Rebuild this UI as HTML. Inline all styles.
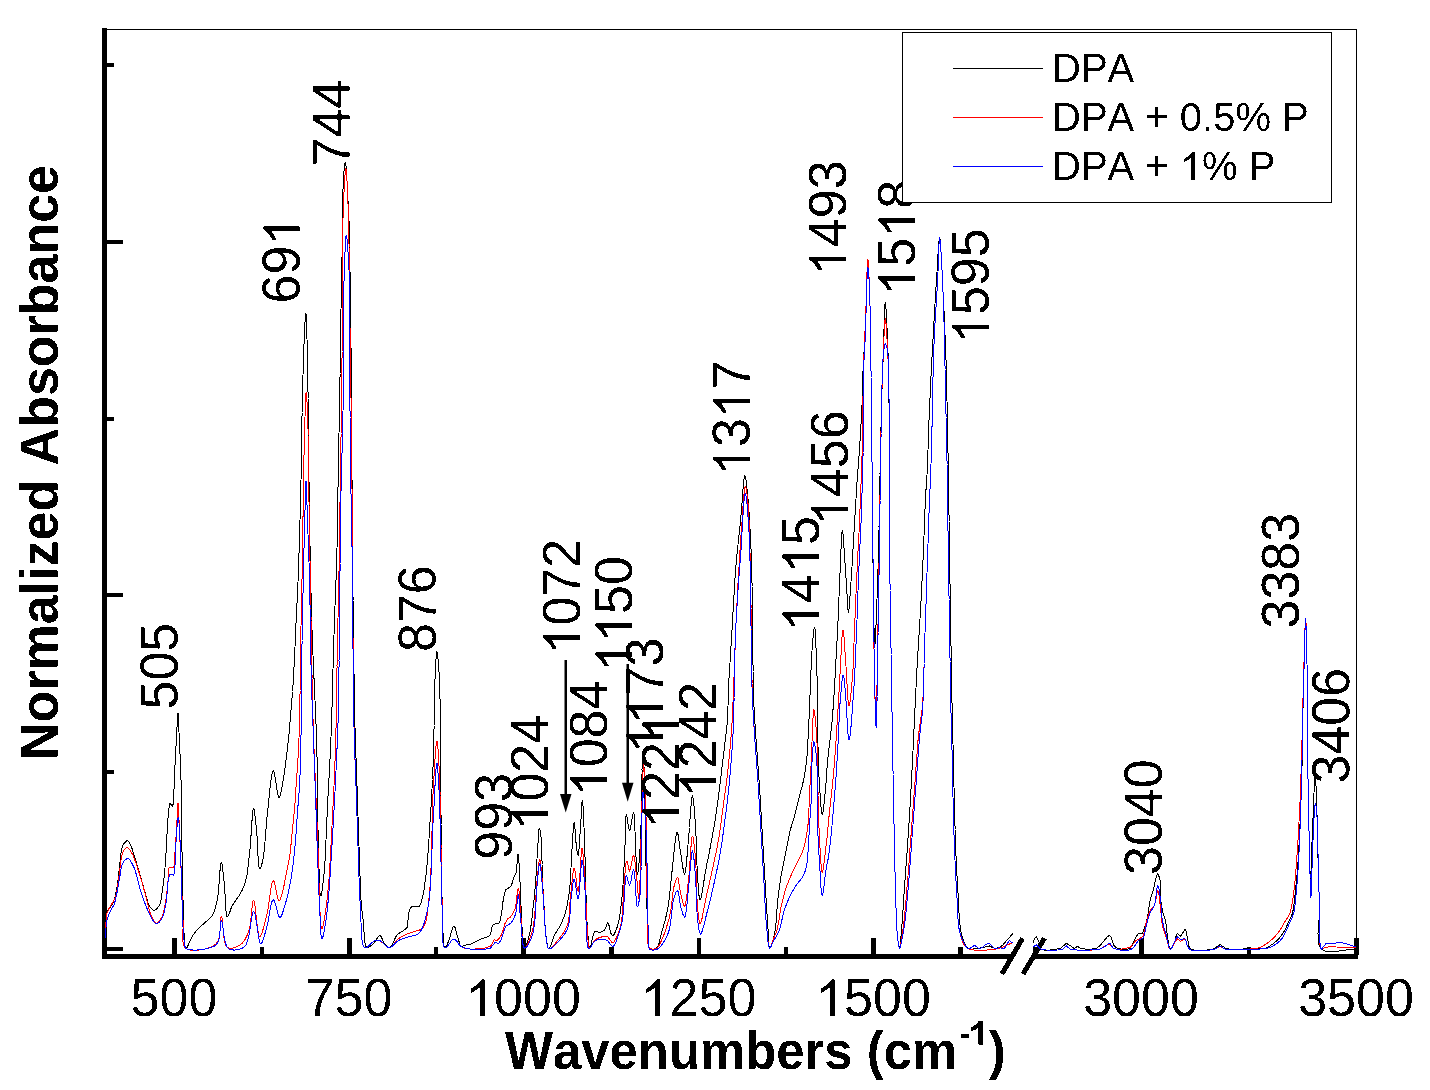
<!DOCTYPE html>
<html><head><meta charset="utf-8"><style>
html,body{margin:0;padding:0;background:#fff;width:1430px;height:1090px;overflow:hidden}
svg{display:block}
text{font-family:"Liberation Sans",sans-serif;fill:#000;font-kerning:none;font-variant-ligatures:none}
</style></head><body>
<svg width="1430" height="1090" viewBox="0 0 1430 1090">
<defs><filter id="bin" x="0" y="0" width="1430" height="1090" filterUnits="userSpaceOnUse" color-interpolation-filters="sRGB"><feComponentTransfer><feFuncA type="discrete" tableValues="0 1"/></feComponentTransfer></filter></defs>
<rect width="1430" height="1090" fill="#fff"/>

<g shape-rendering="crispEdges" fill="#000">
<rect x="102" y="29" width="1255" height="1"/>
<rect x="1356" y="29" width="1" height="926"/>
<rect x="102" y="28" width="5" height="931"/>
<rect x="102" y="954" width="910" height="5"/>
<rect x="1033" y="954" width="325" height="5"/>
<rect x="172.0" y="938" width="4.5" height="17"/><rect x="347.0" y="938" width="4.5" height="17"/><rect x="521.0" y="938" width="4.5" height="17"/><rect x="696.5" y="938" width="4.5" height="17"/><rect x="871.0" y="938" width="4.5" height="17"/><rect x="1139.0" y="938" width="4.5" height="17"/><rect x="1354.0" y="938" width="4.5" height="17"/><rect x="259.5" y="947" width="4.5" height="8"/><rect x="433.5" y="947" width="4.5" height="8"/><rect x="609.0" y="947" width="4.5" height="8"/><rect x="783.5" y="947" width="4.5" height="8"/><rect x="958.0" y="947" width="4.5" height="8"/><rect x="1033.0" y="947" width="4.5" height="8"/><rect x="1246.5" y="947" width="4.5" height="8"/><rect x="104" y="239.5" width="19" height="4"/><rect x="104" y="593.0" width="19" height="4"/><rect x="104" y="946.5" width="19" height="4"/><rect x="104" y="62.5" width="10" height="4"/><rect x="104" y="416.5" width="10" height="4"/><rect x="104" y="770.0" width="10" height="4"/>
</g>
<g stroke="#000" stroke-width="5" stroke-linecap="butt" shape-rendering="crispEdges">
<line x1="1001.9" y1="974" x2="1022.5" y2="938.5"/>
<line x1="1023" y1="974" x2="1044.5" y2="938.3"/>
</g>
<g fill="none" stroke-width="1" shape-rendering="crispEdges" stroke-linejoin="round">
<polyline stroke="#000" points="105.5,928.0 105.7,924.6 105.9,921.0 106.2,917.5 106.5,914.4 107.0,912.0 109.0,908.6 110.9,906.3 112.8,903.4 114.0,900.4 115.0,896.9 115.9,893.0 116.7,889.0 117.3,885.8 117.7,882.5 118.2,879.0 118.6,875.5 118.9,872.1 119.3,868.8 119.7,865.2 120.0,861.7 120.3,858.2 120.7,854.9 121.2,852.0 122.2,847.4 123.7,843.7 127.0,840.3 129.0,842.2 130.8,845.7 132.2,849.0 133.4,852.9 134.7,857.0 135.7,860.2 136.7,863.5 137.7,867.0 138.8,870.5 139.8,874.0 140.7,877.0 141.5,880.0 142.4,883.1 143.3,886.1 144.1,889.1 145.0,892.0 145.9,895.3 146.9,898.8 147.8,902.1 148.8,905.0 150.0,907.3 153.9,910.5 156.5,909.1 159.0,906.0 160.0,903.7 160.8,900.8 161.4,897.5 161.9,894.0 162.4,890.3 162.9,886.8 163.3,883.8 163.7,880.7 164.1,877.6 164.4,874.3 164.7,871.1 165.0,867.8 165.2,864.4 165.5,861.0 165.7,857.8 165.9,854.5 166.1,851.1 166.3,847.7 166.5,844.2 166.6,840.8 166.8,837.4 167.0,834.2 167.1,831.2 167.3,828.4 167.5,824.9 167.8,821.7 168.0,818.6 168.3,815.8 168.6,813.0 168.9,808.9 169.3,805.1 170.0,803.3 172.5,806.5 173.2,803.8 173.5,798.8 173.7,796.0 173.9,792.8 174.0,789.3 174.1,785.7 174.2,782.0 174.4,778.3 174.5,775.2 174.7,772.1 174.9,768.9 175.0,765.6 175.2,762.4 175.4,759.1 175.5,755.8 175.7,752.6 175.9,749.3 176.0,746.0 176.2,742.6 176.3,739.3 176.5,736.0 176.7,732.8 176.8,729.8 177.0,727.0 177.3,722.7 177.5,718.3 177.8,714.9 178.0,713.5 178.2,714.6 178.4,717.4 178.5,721.2 178.7,725.5 178.9,729.5 179.0,732.4 179.2,735.4 179.3,738.6 179.5,741.8 179.6,745.2 179.8,748.6 179.9,752.1 180.1,755.5 180.2,759.0 180.3,761.9 180.4,764.8 180.6,767.8 180.7,770.8 180.8,773.8 180.9,776.8 181.0,779.9 181.1,783.0 181.2,786.1 181.3,789.2 181.4,792.4 181.5,795.6 181.6,798.6 181.6,801.7 181.6,804.7 181.7,807.8 181.7,810.9 181.7,814.0 181.7,817.1 181.7,820.3 181.7,823.5 181.7,826.7 181.7,830.0 181.7,833.3 181.8,836.6 181.8,840.0 181.8,842.8 181.9,845.7 181.9,848.6 182.0,851.6 182.0,854.7 182.1,857.7 182.1,860.8 182.2,863.9 182.2,867.1 182.3,870.2 182.4,873.3 182.4,876.4 182.5,879.5 182.6,882.6 182.6,885.6 182.7,888.6 182.8,891.6 182.8,894.5 182.9,897.3 183.0,900.0 183.1,903.4 183.2,906.9 183.3,910.4 183.3,913.9 183.4,917.3 183.5,920.7 183.6,924.0 183.7,927.1 183.8,930.1 184.0,933.0 184.1,935.6 184.3,937.9 184.5,940.0 185.0,945.7 186.0,948.5 187.2,947.2 188.7,944.0 190.4,940.0 192.1,936.7 194.0,933.8 196.0,931.1 198.2,928.6 200.8,926.1 203.6,923.8 206.2,921.5 209.4,918.8 212.3,915.5 213.6,913.0 214.7,910.0 215.6,906.7 216.5,903.1 217.3,899.3 217.8,896.5 218.2,893.1 218.6,889.3 218.9,885.3 219.3,881.1 219.6,877.0 219.8,873.1 220.1,869.5 220.4,866.5 220.7,864.1 221.0,862.6 221.3,862.0 221.7,862.8 222.2,865.1 222.7,868.5 223.1,872.6 223.6,876.9 224.0,881.3 224.4,885.2 224.7,888.5 224.9,892.2 225.2,896.3 225.4,900.5 225.6,904.6 225.8,908.5 226.1,911.8 226.4,914.5 226.9,916.3 227.4,917.0 228.4,915.8 229.6,912.7 230.9,908.8 232.4,905.4 234.3,902.4 236.4,899.4 238.6,896.4 240.5,893.3 242.0,890.5 243.3,887.6 244.5,884.6 245.6,881.2 246.2,878.6 246.8,875.9 247.3,873.0 247.7,869.9 248.1,866.7 248.5,863.3 248.8,859.9 249.2,856.5 249.6,853.0 249.9,849.9 250.2,846.4 250.5,842.6 250.8,838.5 251.1,834.3 251.4,830.0 251.7,825.9 251.9,822.0 252.2,818.3 252.5,815.1 252.7,812.4 253.0,810.4 253.3,809.1 253.6,808.6 254.0,809.4 254.5,811.5 254.9,814.7 255.3,818.5 255.8,822.7 256.2,826.9 256.6,830.8 256.9,833.9 257.1,837.4 257.3,841.4 257.5,845.5 257.7,849.8 257.9,853.9 258.1,857.9 258.4,861.4 258.6,864.5 258.9,866.8 259.3,868.4 259.7,869.0 261.2,866.5 262.7,861.0 263.1,859.0 263.5,856.8 263.8,854.2 264.1,851.3 264.5,848.3 264.8,845.1 265.0,841.7 265.3,838.2 265.6,834.6 265.9,831.0 266.1,827.4 266.4,823.8 266.7,820.3 267.0,816.9 267.4,813.7 267.7,810.6 268.1,807.2 268.5,803.4 268.9,799.4 269.3,795.3 269.7,791.3 270.1,787.3 270.6,783.5 271.0,780.0 271.4,776.9 271.9,774.3 272.3,772.3 272.8,771.1 273.3,770.6 273.9,771.5 274.5,774.0 275.2,777.6 275.9,782.0 276.5,786.5 277.2,790.8 277.8,794.4 278.5,797.0 279.1,797.9 279.8,797.0 280.5,794.6 281.3,791.2 281.9,787.3 282.6,783.3 283.2,779.7 283.8,776.5 284.3,773.2 284.8,769.8 285.2,766.3 285.7,762.9 286.1,759.6 286.5,756.5 286.9,753.1 287.3,749.8 287.7,746.6 288.0,743.4 288.4,740.0 288.7,737.2 289.0,734.4 289.2,731.5 289.5,728.6 289.7,725.5 290.0,722.3 290.3,718.9 290.5,716.2 290.8,713.4 291.0,710.5 291.2,707.5 291.5,704.4 291.7,701.3 292.0,698.1 292.2,694.8 292.5,691.5 292.7,688.2 293.0,684.9 293.2,681.6 293.4,678.3 293.6,675.3 293.8,672.3 293.9,669.2 294.1,666.1 294.2,663.0 294.4,659.9 294.5,656.7 294.7,653.6 294.8,650.4 295.0,647.2 295.1,644.0 295.2,640.8 295.4,637.6 295.5,634.4 295.7,631.2 295.8,628.0 295.9,624.9 296.1,621.9 296.2,618.8 296.4,615.7 296.5,612.7 296.7,609.6 296.8,606.5 297.0,603.4 297.1,600.3 297.3,597.2 297.4,594.1 297.5,591.1 297.7,588.0 297.8,584.9 298.0,581.8 298.1,578.7 298.2,575.6 298.3,572.5 298.4,569.4 298.5,566.3 298.7,563.1 298.8,560.0 298.9,556.8 299.0,553.7 299.1,550.5 299.2,547.4 299.3,544.3 299.4,541.2 299.5,538.1 299.5,535.0 299.6,532.0 299.7,528.9 299.8,526.0 299.9,523.0 300.0,519.8 300.1,516.6 300.2,513.5 300.3,510.4 300.3,507.4 300.4,504.3 300.5,501.3 300.6,498.3 300.7,495.3 300.7,492.2 300.8,489.2 300.9,486.2 300.9,483.1 301.0,480.0 301.1,477.0 301.1,474.1 301.1,471.1 301.2,468.1 301.2,465.2 301.3,462.2 301.3,459.2 301.3,456.2 301.4,453.2 301.4,450.2 301.4,447.2 301.5,444.2 301.5,441.1 301.5,438.1 301.6,435.0 301.7,431.9 301.7,428.8 301.8,425.7 301.8,422.6 301.9,419.4 302.0,416.2 302.0,413.0 302.1,409.9 302.2,406.7 302.2,403.5 302.3,400.3 302.4,397.2 302.5,394.1 302.5,391.0 302.6,388.0 302.7,385.0 302.8,381.7 302.9,378.4 303.0,375.1 303.1,371.9 303.1,368.7 303.2,365.5 303.3,362.3 303.4,359.2 303.5,356.0 303.6,353.0 303.8,349.9 303.9,347.0 304.0,344.0 304.2,340.5 304.3,336.6 304.5,332.5 304.7,328.4 304.9,324.5 305.1,320.9 305.3,317.8 305.5,315.3 305.6,313.8 305.8,313.2 305.9,313.7 306.1,315.1 306.2,317.4 306.4,320.2 306.5,323.6 306.6,327.3 306.8,331.3 306.9,335.4 307.0,339.4 307.1,343.3 307.2,346.8 307.3,349.6 307.3,352.4 307.4,355.2 307.5,358.1 307.5,361.0 307.6,363.9 307.6,366.9 307.7,369.9 307.7,372.9 307.8,376.0 307.8,379.1 307.8,382.3 307.9,385.5 307.9,388.8 308.0,392.1 308.0,395.4 308.0,398.2 308.1,401.0 308.1,403.9 308.1,406.9 308.2,409.8 308.2,412.9 308.2,415.9 308.3,419.0 308.3,422.1 308.3,425.2 308.4,428.3 308.4,431.5 308.4,434.7 308.4,437.9 308.5,441.1 308.5,444.3 308.5,447.5 308.6,450.7 308.6,454.0 308.6,457.2 308.7,460.4 308.7,463.6 308.8,466.8 308.8,470.0 308.8,473.0 308.9,475.9 308.9,478.9 309.0,482.0 309.0,485.0 309.0,488.0 309.1,491.1 309.1,494.1 309.2,497.2 309.2,500.2 309.3,503.3 309.3,506.4 309.4,509.4 309.4,512.5 309.5,515.6 309.5,518.6 309.6,521.7 309.6,524.7 309.7,527.8 309.7,530.8 309.8,533.8 309.8,536.9 309.9,539.9 309.9,542.8 310.0,545.8 310.0,548.8 310.1,551.7 310.2,554.9 310.2,558.1 310.3,561.3 310.4,564.5 310.4,567.7 310.5,570.9 310.6,574.0 310.6,577.2 310.7,580.4 310.8,583.5 310.8,586.6 310.9,589.8 311.0,592.9 311.0,596.0 311.1,599.1 311.2,602.1 311.3,605.2 311.4,608.3 311.4,611.3 311.5,614.3 311.6,617.3 311.7,620.3 311.8,623.3 311.9,626.6 312.0,629.8 312.1,633.0 312.3,636.2 312.4,639.4 312.5,642.6 312.6,645.8 312.8,648.9 312.9,652.0 313.0,655.1 313.1,658.2 313.3,661.3 313.4,664.4 313.5,667.5 313.7,670.6 313.8,673.7 313.9,676.8 314.1,679.9 314.2,683.0 314.3,686.0 314.5,689.0 314.6,691.9 314.7,694.8 314.8,697.6 315.0,700.4 315.1,703.3 315.3,706.1 315.4,709.0 315.5,711.8 315.6,714.7 315.8,717.7 315.9,720.6 316.0,723.7 316.2,726.8 316.3,729.9 316.4,733.2 316.5,736.6 316.6,740.0 316.7,742.6 316.7,745.2 316.8,748.0 316.9,750.8 316.9,753.6 317.0,756.6 317.0,759.6 317.1,762.7 317.1,765.8 317.2,768.9 317.2,772.1 317.3,775.4 317.3,778.6 317.4,781.9 317.4,785.2 317.4,788.5 317.5,791.9 317.5,795.2 317.6,798.5 317.6,801.9 317.6,805.2 317.7,808.4 317.7,811.7 317.8,814.9 317.8,818.2 317.8,821.3 317.9,824.4 317.9,827.5 318.0,830.5 318.0,833.5 318.1,836.4 318.2,839.2 318.2,841.9 318.3,844.6 318.4,847.1 318.4,849.6 318.5,852.0 318.6,856.0 318.7,860.1 318.9,864.3 319.0,868.6 319.1,872.8 319.2,876.9 319.4,880.7 319.5,884.3 319.7,887.6 319.8,890.4 320.0,892.7 320.2,894.5 320.5,895.6 320.7,896.0 321.1,895.3 321.6,893.3 322.1,890.3 322.6,886.6 323.1,882.4 323.6,878.2 324.0,874.0 324.2,871.7 324.4,869.3 324.6,866.8 324.8,864.2 325.0,861.4 325.1,858.6 325.3,855.7 325.4,852.7 325.6,849.6 325.7,846.5 325.9,843.3 326.0,840.1 326.1,836.8 326.3,833.6 326.4,830.3 326.5,827.0 326.7,823.8 326.8,820.5 327.0,817.3 327.1,814.2 327.2,811.1 327.4,808.0 327.6,804.9 327.7,801.9 327.9,798.9 328.0,795.9 328.2,792.9 328.4,789.9 328.5,786.9 328.7,784.0 328.9,781.0 329.0,778.0 329.2,775.0 329.4,772.0 329.5,768.9 329.7,765.8 329.9,762.8 330.0,759.6 330.2,756.5 330.3,753.3 330.5,750.0 330.6,746.7 330.8,743.4 330.9,740.0 331.0,737.2 331.1,734.4 331.2,731.5 331.3,728.6 331.4,725.7 331.5,722.7 331.6,719.7 331.7,716.7 331.8,713.6 331.9,710.5 332.0,707.4 332.1,704.2 332.2,701.1 332.3,697.9 332.4,694.7 332.4,691.5 332.5,688.3 332.6,685.1 332.7,681.9 332.8,678.7 332.9,675.5 332.9,672.3 333.0,669.1 333.1,665.9 333.2,662.8 333.3,659.6 333.4,656.5 333.5,653.4 333.5,650.3 333.6,647.2 333.7,644.2 333.8,641.2 333.9,638.2 334.0,635.3 334.1,632.0 334.2,628.7 334.3,625.5 334.4,622.2 334.6,618.9 334.7,615.6 334.8,612.3 334.9,609.1 335.0,605.8 335.2,602.6 335.3,599.4 335.4,596.1 335.5,593.0 335.6,589.8 335.7,586.6 335.9,583.5 336.0,580.4 336.1,577.4 336.2,574.4 336.3,571.4 336.4,568.4 336.5,565.5 336.6,562.7 336.7,559.9 336.8,557.1 336.8,554.4 336.9,551.7 337.0,548.2 337.1,544.9 337.1,541.6 337.2,538.5 337.3,535.4 337.3,532.4 337.4,529.4 337.4,526.4 337.4,523.5 337.5,520.6 337.5,517.6 337.6,514.7 337.6,511.7 337.6,508.7 337.7,505.6 337.8,502.6 337.8,499.5 337.8,496.5 337.9,493.5 337.9,490.4 338.0,487.4 338.0,484.3 338.1,481.3 338.1,478.2 338.2,475.1 338.2,472.0 338.3,468.9 338.3,465.8 338.4,462.7 338.4,459.5 338.5,456.3 338.6,453.4 338.6,450.5 338.7,447.5 338.7,444.6 338.8,441.6 338.9,438.6 338.9,435.6 339.0,432.6 339.1,429.6 339.1,426.6 339.2,423.5 339.3,420.5 339.3,417.4 339.4,414.4 339.5,411.3 339.5,408.2 339.6,405.1 339.6,401.9 339.7,398.8 339.7,395.8 339.8,392.8 339.8,389.8 339.9,386.6 339.9,383.5 339.9,380.3 340.0,377.1 340.0,373.9 340.1,370.6 340.1,367.4 340.1,364.2 340.1,361.0 340.2,357.8 340.2,354.7 340.2,351.6 340.3,348.6 340.3,345.6 340.3,342.7 340.4,339.9 340.4,337.2 340.5,334.5 340.5,332.0 340.6,328.3 340.6,324.8 340.7,321.4 340.8,318.2 340.9,315.0 340.9,312.0 341.0,309.0 341.1,306.0 341.1,303.0 341.2,300.0 341.3,296.8 341.3,293.7 341.4,290.7 341.4,287.7 341.4,284.7 341.5,281.6 341.5,278.3 341.6,274.7 341.6,272.1 341.7,269.3 341.8,266.5 341.8,263.5 341.9,260.4 342.0,257.3 342.0,254.0 342.1,250.8 342.2,247.5 342.2,244.2 342.3,240.9 342.4,237.6 342.4,234.3 342.5,231.0 342.6,227.9 342.6,224.7 342.7,221.7 342.8,218.5 342.8,215.3 342.8,212.0 342.8,208.7 342.9,205.4 342.9,202.1 342.9,198.9 342.9,195.7 342.9,192.5 343.0,189.5 343.1,186.6 343.1,183.8 343.2,181.2 343.4,178.8 343.5,176.5 343.9,171.8 344.4,167.2 344.9,163.8 345.4,162.5 345.7,163.4 346.0,165.8 346.3,169.3 346.5,173.3 346.8,177.4 347.0,181.0 347.2,184.2 347.4,187.5 347.6,190.9 347.7,194.3 347.9,197.8 348.0,201.2 348.2,204.6 348.4,207.8 348.5,211.0 348.7,214.0 348.9,217.2 349.0,220.5 349.2,224.1 349.3,228.0 349.4,230.4 349.4,232.8 349.5,235.4 349.5,238.1 349.6,241.0 349.6,243.8 349.7,246.8 349.7,249.9 349.8,253.0 349.8,256.1 349.8,259.3 349.9,262.6 349.9,265.8 349.9,269.1 350.0,272.4 350.0,275.7 350.0,279.0 350.1,282.3 350.1,285.6 350.2,288.8 350.2,292.0 350.2,295.0 350.3,298.0 350.3,301.0 350.4,304.1 350.4,307.1 350.5,310.2 350.5,313.3 350.5,316.3 350.6,319.4 350.6,322.5 350.7,325.6 350.7,328.8 350.8,331.9 350.8,335.0 350.9,338.2 350.9,341.3 350.9,344.5 351.0,347.6 351.0,350.7 351.1,353.9 351.1,357.1 351.1,360.2 351.2,363.4 351.2,366.5 351.2,369.5 351.3,372.5 351.3,375.5 351.3,378.5 351.3,381.5 351.4,384.6 351.4,387.6 351.4,390.6 351.4,393.7 351.5,396.7 351.5,399.7 351.5,402.8 351.5,405.8 351.6,408.9 351.6,411.9 351.6,415.0 351.6,418.0 351.6,421.1 351.7,424.1 351.7,427.1 351.7,430.2 351.7,433.2 351.7,436.2 351.8,439.2 351.8,442.2 351.8,445.2 351.8,448.3 351.8,451.4 351.9,454.4 351.9,457.4 351.9,460.3 351.9,463.2 351.9,466.1 351.9,468.9 351.9,471.8 351.9,474.7 351.9,477.6 352.0,480.5 352.0,483.4 352.0,486.4 352.0,489.4 352.0,492.5 352.0,495.6 352.0,498.8 352.1,502.1 352.1,505.5 352.1,508.9 352.1,512.5 352.2,516.2 352.2,520.0 352.2,522.3 352.2,524.7 352.3,527.2 352.3,529.7 352.3,532.3 352.3,535.0 352.4,537.7 352.4,540.4 352.4,543.2 352.4,546.1 352.5,549.0 352.5,552.0 352.5,555.0 352.6,558.0 352.6,561.1 352.6,564.2 352.7,567.3 352.7,570.5 352.7,573.7 352.8,577.0 352.8,580.2 352.8,583.5 352.9,586.8 352.9,590.2 352.9,593.5 353.0,596.9 353.0,600.3 353.1,603.7 353.1,607.1 353.1,610.5 353.2,613.9 353.2,617.3 353.3,620.7 353.3,624.1 353.3,627.6 353.4,631.0 353.4,634.4 353.5,637.8 353.5,641.1 353.5,644.5 353.6,647.8 353.6,651.2 353.7,654.5 353.7,657.8 353.8,661.0 353.8,664.3 353.9,667.5 353.9,670.6 354.0,673.8 354.0,676.9 354.1,680.0 354.1,683.0 354.2,686.0 354.2,688.9 354.2,691.8 354.3,694.7 354.3,697.5 354.4,700.2 354.4,702.9 354.5,705.5 354.5,708.1 354.6,710.6 354.6,713.1 354.7,715.4 354.7,717.8 354.8,720.0 354.9,723.7 355.0,727.3 355.1,730.8 355.2,734.2 355.3,737.4 355.4,740.6 355.5,743.6 355.6,746.6 355.7,749.5 355.8,752.4 355.9,755.2 356.0,758.0 356.1,760.8 356.2,763.5 356.3,766.2 356.4,769.0 356.5,771.7 356.6,774.5 356.7,777.3 356.8,780.1 356.9,783.0 357.0,786.0 357.1,789.0 357.2,792.0 357.3,795.0 357.4,798.1 357.5,801.1 357.6,804.2 357.7,807.2 357.8,810.3 357.9,813.3 358.0,816.3 358.1,819.4 358.2,822.4 358.3,825.4 358.4,828.4 358.5,831.4 358.6,834.4 358.7,837.4 358.8,840.4 358.9,843.3 359.0,846.2 359.1,849.1 359.2,852.0 359.3,855.2 359.4,858.6 359.6,861.9 359.7,865.3 359.8,868.8 359.9,872.2 360.0,875.6 360.1,879.0 360.3,882.3 360.4,885.6 360.5,888.8 360.6,891.8 360.8,894.8 360.9,897.6 361.0,900.2 361.2,902.7 361.3,905.0 361.5,907.0 362.0,911.4 362.5,914.8 363.0,918.8 363.3,921.6 363.5,924.9 363.8,928.5 364.0,932.3 364.3,936.0 364.6,939.5 365.0,942.6 365.4,945.0 365.9,946.6 367.3,948.0 369.4,947.0 372.2,944.6 374.7,942.0 377.6,937.6 380.0,935.0 381.7,937.7 383.5,942.0 386.3,945.9 389.3,948.0 391.7,945.8 393.7,942.0 395.1,938.3 396.7,935.0 401.0,932.0 404.2,930.1 407.0,927.6 407.9,924.1 408.0,919.8 408.4,915.8 409.0,912.4 409.9,909.2 411.3,907.0 415.0,906.9 418.7,907.0 420.4,904.7 421.6,901.0 422.2,898.7 422.9,896.0 423.4,893.0 424.0,889.7 424.5,886.2 425.0,882.5 425.5,878.6 426.0,874.7 426.3,872.2 426.6,869.5 426.9,866.7 427.1,863.9 427.4,860.9 427.6,857.9 427.9,854.8 428.1,851.6 428.3,848.4 428.6,845.2 428.8,841.9 429.0,838.6 429.2,835.3 429.4,832.0 429.6,828.8 429.8,825.5 430.0,822.3 430.2,819.1 430.4,816.0 430.6,812.9 430.8,809.9 431.0,806.8 431.2,803.8 431.3,800.7 431.5,797.7 431.7,794.7 431.8,791.7 432.0,788.6 432.2,785.6 432.3,782.5 432.5,779.5 432.6,776.4 432.8,773.3 432.9,770.2 433.0,767.0 433.2,763.8 433.3,760.6 433.4,757.4 433.5,754.5 433.6,751.5 433.7,748.4 433.7,745.3 433.8,742.1 433.8,738.9 433.9,735.7 433.9,732.4 434.0,729.2 434.0,725.9 434.1,722.6 434.1,719.4 434.1,716.1 434.2,712.9 434.2,709.7 434.3,706.6 434.3,703.5 434.3,700.5 434.4,697.5 434.5,694.6 434.5,691.8 434.6,689.1 434.7,686.5 434.8,684.0 435.0,679.9 435.1,675.7 435.3,671.3 435.5,667.0 435.8,663.0 436.0,659.3 436.2,656.2 436.4,653.8 436.7,652.3 436.9,651.7 437.2,652.4 437.6,654.4 437.9,657.5 438.3,661.3 438.6,665.7 438.9,670.3 439.2,675.0 439.3,677.0 439.4,679.0 439.5,681.2 439.6,683.5 439.6,685.9 439.7,688.3 439.8,690.9 439.8,693.6 439.9,696.3 440.0,699.1 440.0,702.0 440.0,705.0 440.1,708.0 440.1,711.0 440.2,714.2 440.2,717.3 440.2,720.6 440.2,723.8 440.3,727.1 440.3,730.4 440.3,733.8 440.3,737.1 440.4,740.5 440.4,743.9 440.4,747.3 440.4,750.7 440.4,754.1 440.4,757.5 440.5,760.8 440.5,764.2 440.5,767.5 440.5,770.8 440.6,774.1 440.6,777.3 440.6,780.5 440.7,783.6 440.7,786.7 440.7,789.7 440.8,792.7 440.8,795.8 440.8,798.9 440.9,802.0 440.9,805.2 440.9,808.3 440.9,811.5 441.0,814.7 441.0,818.0 441.0,821.2 441.0,824.4 441.1,827.7 441.1,830.9 441.1,834.2 441.1,837.4 441.2,840.7 441.2,843.9 441.2,847.1 441.2,850.3 441.3,853.5 441.3,856.6 441.3,859.8 441.3,862.9 441.4,865.9 441.4,869.0 441.5,872.0 441.5,874.9 441.5,877.9 441.6,880.7 441.6,883.5 441.7,886.3 441.8,889.0 441.8,891.7 441.9,894.3 442.0,896.8 442.0,899.3 442.1,901.7 442.2,904.0 442.3,908.0 442.5,912.1 442.6,916.4 442.7,920.6 442.8,924.8 442.9,928.8 443.0,932.6 443.1,936.2 443.3,939.4 443.5,942.3 443.8,944.6 444.1,946.4 444.5,947.5 445.0,948.0 446.9,945.2 449.0,940.0 450.3,936.1 451.5,931.5 452.7,927.6 453.9,926.0 455.0,927.4 456.0,930.6 457.0,934.6 458.0,938.0 459.0,941.4 459.9,944.7 461.2,946.6 465.6,945.0 470.0,944.4 473.8,942.6 477.8,940.5 481.9,938.8 485.6,937.4 489.5,935.9 490.6,933.5 491.4,930.0 492.1,926.5 493.4,924.2 498.9,923.4 500.4,919.9 501.2,914.8 501.7,912.1 502.1,908.9 502.6,905.3 503.0,901.6 503.6,897.9 504.2,894.6 505.0,891.8 505.9,889.8 510.6,886.7 511.9,883.9 512.8,880.5 513.7,877.4 516.0,872.7 516.5,869.9 516.9,866.0 517.2,861.8 517.5,857.9 517.7,855.1 518.0,854.0 518.3,854.7 518.5,856.5 518.8,859.3 519.0,862.8 519.2,866.8 519.4,871.0 519.7,875.1 519.9,879.0 520.0,881.6 520.2,884.4 520.3,887.3 520.4,890.4 520.6,893.6 520.7,896.9 520.8,900.2 520.9,903.6 521.1,907.0 521.2,910.3 521.3,913.6 521.5,916.7 521.6,919.8 521.8,922.7 521.9,925.5 522.1,928.1 522.3,930.4 522.7,935.0 523.0,939.6 523.4,943.6 523.9,946.5 524.6,947.6 525.6,946.4 526.9,943.3 528.2,939.1 529.3,935.0 529.9,932.4 530.4,929.5 530.9,926.4 531.3,923.2 531.8,919.9 532.1,916.6 532.5,913.3 532.8,910.1 533.2,907.0 533.6,903.6 534.0,900.3 534.3,897.1 534.6,893.9 534.9,890.7 535.2,887.2 535.5,883.6 535.7,880.9 535.9,878.0 536.1,874.9 536.3,871.8 536.5,868.6 536.7,865.3 536.8,862.1 537.0,858.8 537.2,855.7 537.4,852.7 537.5,849.8 537.7,847.1 537.9,844.6 538.2,840.3 538.5,836.0 538.7,832.1 539.0,829.3 539.4,828.2 540.2,831.0 541.0,836.8 541.2,838.9 541.4,841.4 541.5,844.1 541.6,847.1 541.7,850.4 541.8,853.7 541.9,857.2 542.0,860.8 542.0,864.3 542.1,867.8 542.2,871.2 542.3,874.5 542.4,877.6 542.5,880.5 542.7,884.1 542.9,887.5 543.1,890.8 543.2,894.0 543.5,897.1 543.7,900.3 543.9,903.6 544.1,907.0 544.3,910.2 544.5,913.7 544.7,917.2 544.8,920.8 545.0,924.5 545.3,928.0 545.5,931.4 545.8,934.5 546.1,937.3 546.4,939.8 547.1,944.0 547.8,947.5 548.8,949.0 549.7,948.0 550.8,945.3 552.0,941.8 553.2,938.1 554.5,935.0 556.5,931.6 558.6,928.4 560.5,925.0 561.9,921.9 563.3,918.7 564.5,915.3 565.6,911.7 566.3,908.9 567.0,906.0 567.6,903.0 568.1,899.9 568.6,896.7 569.1,893.3 569.5,889.8 569.8,887.0 570.1,884.1 570.3,881.1 570.5,877.9 570.7,874.7 570.8,871.5 571.0,868.2 571.1,865.0 571.3,861.7 571.4,858.5 571.6,855.4 571.8,852.4 572.0,849.0 572.3,845.1 572.5,841.1 572.7,837.1 573.0,833.2 573.2,829.6 573.5,826.6 573.7,824.1 574.0,822.6 574.2,822.0 574.5,822.9 574.8,825.2 575.0,828.5 575.3,832.6 575.6,836.9 575.9,841.1 576.2,844.9 576.5,847.7 577.3,852.9 578.1,855.5 578.4,854.7 578.7,852.6 579.0,849.5 579.3,845.6 579.6,841.3 579.9,836.9 580.1,832.7 580.4,829.0 580.6,825.5 580.9,821.6 581.1,817.3 581.3,813.1 581.5,809.0 581.7,805.5 581.9,802.7 582.1,800.8 582.3,800.1 582.5,800.6 582.7,802.1 582.9,804.4 583.1,807.3 583.3,810.8 583.4,814.7 583.6,818.9 583.8,823.1 584.0,827.4 584.1,831.4 584.3,835.2 584.4,838.0 584.5,840.9 584.6,843.9 584.7,847.0 584.8,850.2 584.9,853.4 585.0,856.7 585.1,860.0 585.1,863.3 585.2,866.6 585.3,869.8 585.4,873.1 585.5,876.3 585.5,879.5 585.6,882.6 585.7,885.6 585.8,888.6 585.9,891.4 586.0,895.0 586.1,898.5 586.2,902.0 586.4,905.5 586.5,908.8 586.6,912.1 586.7,915.3 586.9,918.4 587.0,921.5 587.2,924.4 587.4,927.3 587.7,931.0 587.9,934.9 588.2,938.9 588.5,942.5 588.8,945.5 589.3,947.5 589.8,948.3 590.6,946.7 591.5,942.7 592.6,937.8 593.8,933.5 595.2,931.2 599.9,932.7 604.6,930.4 606.3,925.9 607.7,922.6 608.8,924.7 609.9,929.2 611.1,933.8 612.4,935.9 614.0,934.6 615.6,931.3 617.1,927.3 617.8,925.0 618.5,922.4 619.1,919.5 619.6,916.4 620.1,913.2 620.5,909.8 621.0,906.4 621.4,902.8 621.8,899.2 622.1,896.6 622.3,893.8 622.6,890.9 622.8,887.9 623.0,884.8 623.2,881.7 623.4,878.5 623.6,875.3 623.7,872.1 623.9,868.9 624.1,865.6 624.2,862.5 624.3,859.3 624.5,856.3 624.6,853.3 624.8,850.5 624.9,847.7 625.1,843.8 625.2,839.6 625.3,835.3 625.4,831.0 625.5,826.8 625.6,823.1 625.7,819.8 625.9,817.3 626.1,815.6 626.4,815.0 626.9,816.6 627.5,820.5 628.2,825.1 628.9,829.0 629.6,830.6 630.2,829.3 630.9,825.9 631.6,821.6 632.3,817.2 633.0,813.9 633.5,812.6 633.8,813.1 634.1,814.6 634.3,816.9 634.5,819.8 634.7,823.3 634.9,827.1 635.0,831.3 635.1,835.6 635.2,839.8 635.4,844.0 635.5,847.9 635.6,851.3 635.8,854.3 636.1,858.6 636.3,863.3 636.6,867.7 636.8,871.4 637.1,874.0 637.4,875.0 637.7,874.4 638.0,872.6 638.3,869.9 638.7,866.6 639.0,862.8 639.3,858.8 639.6,854.8 639.9,851.0 640.1,848.5 640.2,845.9 640.3,843.1 640.5,840.3 640.6,837.4 640.7,834.3 640.8,831.3 640.9,828.2 641.0,825.0 641.1,821.8 641.1,818.7 641.2,815.5 641.3,812.3 641.4,809.2 641.4,806.0 641.5,803.0 641.6,800.0 641.7,796.8 641.7,793.3 641.8,789.5 641.8,785.7 641.9,781.7 641.9,777.7 642.0,773.7 642.0,769.9 642.1,766.3 642.1,762.9 642.2,759.9 642.2,757.2 642.3,755.0 642.4,753.4 642.5,752.4 642.6,752.0 642.8,752.9 643.1,755.2 643.4,758.5 643.7,762.4 644.0,766.4 644.2,770.0 644.4,773.0 644.5,776.1 644.6,779.3 644.6,782.5 644.7,785.8 644.8,789.3 644.8,792.8 644.9,796.5 645.0,799.3 645.0,802.2 645.1,805.2 645.1,808.2 645.2,811.4 645.3,814.5 645.3,817.7 645.4,821.0 645.4,824.3 645.5,827.6 645.5,831.0 645.6,834.3 645.6,837.7 645.7,841.0 645.7,843.9 645.8,846.9 645.8,849.9 645.9,853.0 645.9,856.1 645.9,859.3 645.9,862.5 646.0,865.6 646.0,868.8 646.0,872.0 646.1,875.1 646.1,878.2 646.2,881.3 646.2,884.3 646.3,887.2 646.3,890.1 646.4,892.9 646.5,895.6 646.6,898.9 646.7,902.2 646.9,905.4 647.0,908.6 647.2,911.6 647.3,914.6 647.5,917.6 647.7,920.4 647.9,923.2 648.0,925.9 648.2,928.6 648.3,932.5 648.3,936.5 648.2,940.4 648.3,943.8 648.8,946.6 649.8,948.4 653.0,949.4 656.4,948.4 657.8,946.7 658.9,944.0 659.7,940.7 660.5,937.1 661.4,933.6 662.1,931.0 662.9,928.3 663.7,925.5 664.5,922.6 665.3,919.6 666.0,916.5 666.7,913.4 667.4,910.2 668.0,907.0 668.5,904.2 668.9,901.3 669.3,898.4 669.6,895.4 669.9,892.4 670.2,889.3 670.5,886.3 670.8,883.2 671.1,880.1 671.4,877.0 671.7,873.9 672.1,870.8 672.5,867.6 672.8,864.1 673.2,860.4 673.6,856.4 674.0,852.4 674.4,848.5 674.8,844.8 675.2,841.3 675.6,838.3 676.0,835.7 676.3,833.7 676.7,832.5 677.1,832.0 677.7,832.9 678.2,835.4 678.7,839.0 679.3,843.1 679.8,847.3 680.4,851.0 681.0,854.6 681.6,858.8 682.2,863.1 682.8,867.3 683.4,870.7 683.9,873.1 684.5,874.0 684.9,873.5 685.3,872.2 685.6,870.1 686.0,867.4 686.3,864.2 686.7,860.6 687.0,856.7 687.3,852.7 687.6,848.7 688.0,844.8 688.3,841.1 688.6,837.8 688.9,834.7 689.2,831.2 689.5,827.5 689.7,823.6 690.0,819.6 690.3,815.6 690.6,811.7 690.8,808.0 691.1,804.7 691.4,801.7 691.6,799.2 691.9,797.3 692.1,796.1 692.4,795.7 692.8,796.4 693.1,798.3 693.5,801.1 693.9,804.6 694.2,808.7 694.6,813.0 694.9,817.3 695.2,821.3 695.4,823.8 695.5,826.5 695.7,829.4 695.8,832.4 696.0,835.6 696.1,838.8 696.2,842.1 696.3,845.4 696.4,848.8 696.5,852.2 696.6,855.5 696.7,858.9 696.8,862.1 697.0,865.3 697.1,868.3 697.2,871.3 697.4,874.0 697.5,876.6 697.7,879.0 698.0,882.9 698.3,886.9 698.6,890.9 698.9,894.4 699.2,897.3 699.6,899.2 700.1,899.9 700.6,899.3 701.1,897.6 701.6,895.1 702.2,891.8 702.9,888.1 703.5,884.1 704.1,879.9 704.8,875.8 705.4,872.0 706.0,868.7 706.6,865.5 707.2,862.4 707.9,859.3 708.5,856.3 709.1,853.2 709.7,850.2 710.3,847.1 710.9,844.1 711.5,841.0 712.1,837.9 712.6,834.9 713.1,831.8 713.7,828.8 714.2,825.7 714.7,822.7 715.2,819.6 715.6,816.6 716.1,813.5 716.6,810.4 717.0,807.4 717.4,804.3 717.8,801.2 718.3,798.1 718.7,795.0 719.0,792.0 719.4,789.0 719.8,786.0 720.2,782.9 720.5,779.9 720.9,776.8 721.2,773.8 721.6,770.9 721.9,767.9 722.3,764.9 722.6,762.0 723.0,758.8 723.4,755.6 723.8,752.4 724.2,749.3 724.6,746.2 724.9,743.1 725.3,740.0 725.7,736.7 726.1,733.5 726.4,730.3 726.8,727.0 727.1,723.6 727.4,720.0 727.6,717.3 727.7,714.6 727.8,711.8 727.9,708.9 728.0,706.0 728.1,703.0 728.1,699.9 728.2,696.7 728.3,693.5 728.4,690.1 728.6,686.7 728.7,684.0 728.9,681.1 729.0,678.2 729.2,675.3 729.4,672.2 729.6,669.1 729.8,666.0 730.0,662.8 730.2,659.6 730.4,656.3 730.6,653.0 730.8,649.7 731.0,646.4 731.2,643.1 731.4,639.9 731.6,636.6 731.8,633.4 732.0,630.2 732.2,627.0 732.4,623.9 732.6,620.7 732.7,617.5 732.9,614.3 733.1,611.1 733.3,607.9 733.4,604.8 733.6,601.6 733.8,598.4 734.0,595.2 734.2,592.0 734.3,588.9 734.5,585.7 734.7,582.6 734.9,579.5 735.1,576.4 735.3,573.4 735.6,570.4 735.8,567.4 736.1,564.1 736.4,560.8 736.7,557.5 737.0,554.2 737.3,551.0 737.6,547.8 738.0,544.7 738.3,541.5 738.6,538.4 739.0,535.3 739.3,532.1 739.6,529.0 740.0,525.9 740.3,522.8 740.6,519.7 740.9,516.3 741.2,512.5 741.5,508.5 741.9,504.4 742.2,500.2 742.5,496.0 742.8,492.0 743.1,488.2 743.4,484.7 743.7,481.6 744.0,479.1 744.3,477.2 744.6,475.9 744.9,475.5 745.4,476.4 745.9,478.9 746.3,482.4 746.8,486.7 747.3,491.3 747.7,495.8 747.9,498.2 748.2,500.7 748.4,503.4 748.6,506.2 748.8,509.1 749.0,512.1 749.2,515.2 749.4,518.4 749.6,521.7 749.8,525.0 750.0,528.4 750.2,531.8 750.4,535.2 750.6,538.6 750.7,542.0 750.9,545.4 751.0,548.8 751.2,552.2 751.3,555.5 751.4,558.5 751.5,561.5 751.6,564.5 751.7,567.5 751.8,570.6 751.8,573.7 751.9,576.8 751.9,579.9 752.0,583.0 752.0,586.1 752.1,589.2 752.1,592.4 752.1,595.5 752.2,598.7 752.2,601.8 752.2,605.0 752.3,608.1 752.3,611.3 752.3,614.4 752.4,617.6 752.4,620.7 752.5,623.9 752.5,627.0 752.5,630.0 752.6,633.1 752.6,636.2 752.7,639.4 752.7,642.5 752.7,645.7 752.8,648.9 752.8,652.1 752.8,655.3 752.9,658.5 752.9,661.6 753.0,664.8 753.0,668.0 753.0,671.1 753.1,674.2 753.1,677.3 753.2,680.3 753.2,683.3 753.3,686.2 753.4,689.1 753.4,691.9 753.5,694.7 753.6,697.4 753.7,700.0 753.8,703.5 754.0,706.8 754.2,710.1 754.3,713.2 754.5,716.3 754.7,719.3 754.9,722.2 755.1,725.2 755.3,728.1 755.5,731.0 755.7,734.0 755.9,737.0 756.1,740.0 756.3,743.0 756.5,746.0 756.7,749.0 757.0,752.0 757.2,755.0 757.4,758.0 757.6,761.0 757.9,764.0 758.1,767.0 758.3,770.1 758.6,773.2 758.8,776.3 759.0,779.5 759.2,782.4 759.4,785.4 759.6,788.4 759.8,791.4 760.0,794.5 760.1,797.6 760.3,800.7 760.5,803.8 760.7,806.9 760.9,810.1 761.1,813.2 761.3,816.3 761.4,819.5 761.6,822.6 761.8,825.7 762.0,828.8 762.2,831.9 762.4,835.0 762.5,838.1 762.7,841.1 762.9,844.2 763.1,847.3 763.3,850.4 763.5,853.5 763.6,856.6 763.8,859.7 764.0,862.8 764.2,865.9 764.4,868.9 764.5,872.0 764.7,875.1 764.9,878.2 765.1,881.3 765.3,884.5 765.5,887.7 765.6,891.0 765.8,894.3 766.0,897.6 766.2,900.9 766.4,904.2 766.6,907.4 766.8,910.6 767.0,913.7 767.2,916.7 767.4,919.6 767.5,922.3 767.7,925.0 767.9,927.5 768.2,931.9 768.4,936.6 768.5,940.9 768.8,944.6 769.2,947.2 769.7,948.2 770.5,947.3 771.5,944.8 772.6,941.2 773.7,937.3 774.6,933.4 775.1,930.9 775.5,928.1 775.8,925.2 776.1,922.1 776.3,919.0 776.6,915.7 776.8,912.5 777.0,909.3 777.3,906.2 777.5,903.1 777.8,900.3 778.2,896.7 778.6,893.3 779.0,890.0 779.4,886.7 779.9,883.5 780.4,880.2 780.9,876.9 781.5,873.6 782.1,870.2 782.8,866.9 783.5,863.5 784.2,860.2 784.9,856.8 785.6,853.5 786.3,850.1 786.9,846.7 787.6,843.2 788.2,839.8 788.9,836.4 789.6,833.2 790.3,830.1 791.2,826.8 792.1,823.7 793.0,820.7 794.0,817.7 794.9,814.5 795.7,811.5 796.5,808.3 797.3,805.2 798.1,802.0 798.8,798.8 799.6,795.8 800.4,792.6 801.2,789.6 802.0,786.6 802.8,783.5 803.5,780.3 804.1,777.1 804.7,773.9 805.2,770.6 805.7,767.2 806.2,763.7 806.6,760.0 806.9,757.4 807.1,754.7 807.3,752.0 807.5,749.2 807.6,746.4 807.8,743.5 807.9,740.5 808.1,737.3 808.2,734.0 808.4,730.6 808.6,727.0 808.7,724.6 808.9,722.0 809.0,719.2 809.1,716.3 809.2,713.3 809.4,710.1 809.5,706.9 809.6,703.5 809.8,700.1 809.9,696.7 810.1,693.2 810.2,689.6 810.3,686.1 810.5,682.6 810.6,679.1 810.8,675.6 810.9,672.2 811.1,668.8 811.2,665.5 811.4,662.3 811.5,659.2 811.7,656.3 811.8,653.5 812.0,650.8 812.1,648.3 812.3,646.0 812.4,643.9 812.6,642.0 813.1,636.8 813.6,632.0 814.1,628.6 814.5,627.3 814.7,627.8 815.0,629.2 815.2,631.4 815.4,634.3 815.6,637.7 815.8,641.6 815.9,645.7 816.1,650.1 816.3,654.5 816.4,658.8 816.6,663.0 816.7,665.4 816.8,667.9 816.8,670.5 816.9,673.2 817.0,676.1 817.0,679.0 817.1,682.0 817.1,685.2 817.2,688.4 817.2,691.6 817.3,694.9 817.3,698.2 817.4,701.6 817.4,705.0 817.5,708.5 817.5,711.9 817.5,715.3 817.6,718.7 817.6,722.1 817.7,725.5 817.7,728.8 817.7,732.1 817.8,735.3 817.8,738.4 817.9,741.5 817.9,744.5 818.0,747.3 818.0,750.1 818.1,752.8 818.2,755.3 818.2,757.7 818.3,760.0 818.4,763.8 818.6,767.4 818.7,770.8 818.9,773.9 819.0,777.0 819.2,779.9 819.3,782.7 819.5,785.5 819.7,788.3 819.9,791.2 820.2,795.1 820.5,799.5 820.8,803.9 821.1,807.9 821.5,811.3 821.8,813.6 822.2,814.5 822.6,813.7 823.1,811.3 823.5,808.0 824.0,803.9 824.5,799.5 824.9,795.1 825.3,791.2 825.6,788.3 825.8,785.3 826.1,782.3 826.3,779.3 826.5,776.2 826.7,773.1 826.9,769.9 827.1,766.6 827.4,763.4 827.7,760.0 828.0,757.1 828.3,754.2 828.6,751.3 829.0,748.3 829.3,745.3 829.7,742.3 830.1,739.2 830.4,736.1 830.8,732.9 831.2,729.7 831.5,726.4 831.9,723.1 832.2,719.7 832.5,716.3 832.7,713.6 832.9,710.7 833.2,707.8 833.4,704.8 833.6,701.8 833.8,698.7 834.0,695.5 834.2,692.3 834.4,689.1 834.6,685.9 834.7,682.7 834.9,679.5 835.1,676.3 835.3,673.1 835.4,670.0 835.6,666.9 835.8,663.9 835.9,661.0 836.1,658.1 836.2,655.3 836.4,652.6 836.5,650.0 836.7,646.4 836.9,643.0 837.1,639.7 837.2,636.5 837.4,633.4 837.6,630.3 837.7,627.3 837.9,624.3 838.0,621.3 838.2,618.2 838.3,615.0 838.4,612.0 838.6,609.0 838.7,606.0 838.8,603.0 838.9,600.1 839.0,597.1 839.1,594.0 839.3,591.0 839.4,587.9 839.5,584.8 839.7,581.6 839.8,578.4 839.9,575.2 840.1,571.6 840.3,567.7 840.4,563.6 840.6,559.4 840.7,555.2 840.9,551.0 841.1,547.0 841.3,543.2 841.5,539.8 841.6,536.7 841.8,534.2 842.0,532.3 842.2,531.1 842.4,530.7 842.7,531.4 842.9,533.2 843.2,536.0 843.5,539.5 843.7,543.5 844.0,547.8 844.3,552.1 844.5,556.3 844.8,560.0 845.0,563.0 845.2,566.1 845.4,569.3 845.6,572.5 845.9,575.8 846.1,579.1 846.3,582.4 846.5,585.5 846.7,588.6 846.8,591.5 847.0,594.3 847.2,596.8 847.4,600.8 847.7,605.0 847.9,608.7 848.1,611.4 848.4,612.4 848.6,611.9 848.8,610.4 849.1,608.2 849.3,605.3 849.6,601.8 849.9,598.0 850.2,594.0 850.4,589.9 850.7,585.8 851.0,581.9 851.2,578.4 851.4,575.5 851.6,572.6 851.8,569.7 852.0,566.7 852.2,563.6 852.4,560.6 852.5,557.5 852.7,554.4 852.9,551.3 853.1,548.1 853.3,545.0 853.5,541.9 853.6,538.8 853.8,535.7 854.0,532.6 854.2,529.5 854.4,526.4 854.5,523.3 854.7,520.2 854.9,517.1 855.1,514.0 855.2,510.9 855.4,507.8 855.6,504.7 855.8,501.6 856.0,498.6 856.1,495.6 856.3,492.6 856.5,489.6 856.7,486.7 856.9,483.5 857.1,480.4 857.4,477.3 857.6,474.2 857.8,471.2 858.1,468.2 858.3,465.2 858.5,462.2 858.8,459.2 859.0,456.1 859.2,453.1 859.4,450.0 859.6,447.0 859.8,444.1 860.0,441.1 860.2,438.2 860.4,435.2 860.5,432.2 860.7,429.2 860.9,426.2 861.1,423.2 861.2,420.2 861.4,417.1 861.6,414.1 861.7,411.0 861.8,407.9 862.0,404.8 862.1,401.7 862.2,398.5 862.3,395.3 862.4,392.1 862.5,388.9 862.5,385.7 862.6,382.5 862.7,379.3 862.8,376.2 862.9,373.1 863.1,370.0 863.2,367.0 863.4,363.9 863.5,360.9 863.7,358.0 863.9,355.2 864.0,352.3 864.2,349.5 864.4,346.6 864.6,343.7 864.8,340.7 865.0,337.6 865.1,334.4 865.3,331.0 865.4,328.3 865.5,325.3 865.6,322.1 865.8,318.6 865.9,314.9 866.0,311.1 866.1,307.2 866.2,303.2 866.3,299.2 866.4,295.2 866.5,291.2 866.6,287.4 866.7,283.6 866.8,280.0 866.9,276.7 867.0,273.6 867.1,270.7 867.2,268.2 867.4,266.1 867.5,264.4 867.6,263.1 867.7,262.3 867.8,262.0 868.0,262.6 868.2,264.2 868.4,266.6 868.6,269.7 868.8,273.3 869.0,277.2 869.2,281.3 869.3,285.2 869.5,289.0 869.6,291.6 869.7,294.2 869.8,297.0 869.8,299.8 869.9,302.7 870.0,305.7 870.0,308.8 870.1,311.9 870.1,315.1 870.2,318.3 870.2,321.6 870.3,324.9 870.3,328.2 870.4,331.5 870.4,334.8 870.5,338.1 870.5,341.4 870.5,344.7 870.6,348.0 870.6,350.9 870.7,353.7 870.7,356.6 870.8,359.5 870.8,362.4 870.9,365.4 870.9,368.3 871.0,371.2 871.0,374.2 871.0,377.2 871.1,380.2 871.1,383.2 871.2,386.2 871.2,389.2 871.3,392.2 871.3,395.3 871.3,398.3 871.4,401.4 871.4,404.5 871.5,407.6 871.5,410.7 871.5,413.8 871.6,416.9 871.6,420.0 871.6,422.9 871.7,425.9 871.7,428.8 871.7,431.8 871.7,434.8 871.8,437.9 871.8,440.9 871.8,444.0 871.8,447.0 871.9,450.1 871.9,453.2 871.9,456.3 871.9,459.4 872.0,462.4 872.0,465.5 872.0,468.6 872.0,471.7 872.0,474.8 872.1,477.9 872.1,481.0 872.1,484.0 872.1,487.1 872.2,490.1 872.2,493.1 872.2,496.1 872.2,499.1 872.3,502.1 872.3,505.0 872.3,508.2 872.4,511.3 872.4,514.5 872.4,517.6 872.5,520.7 872.5,523.8 872.5,526.9 872.6,530.0 872.6,533.1 872.6,536.1 872.7,539.2 872.7,542.3 872.7,545.3 872.8,548.3 872.8,551.4 872.8,554.4 872.9,557.4 872.9,560.4 873.0,563.4 873.0,566.4 873.0,569.4 873.1,572.4 873.1,575.4 873.2,578.4 873.3,581.6 873.3,585.1 873.4,588.7 873.4,592.5 873.5,596.4 873.5,600.4 873.6,604.4 873.7,608.5 873.7,612.5 873.8,616.4 873.9,620.2 873.9,623.9 874.0,627.4 874.1,630.7 874.2,633.8 874.2,636.5 874.3,639.0 874.4,641.0 874.5,642.7 874.6,644.0 874.7,644.7 874.8,645.0 874.9,644.8 875.0,644.1 875.1,643.0 875.2,641.5 875.4,639.6 875.5,637.4 875.6,634.9 875.8,632.1 875.9,629.0 876.0,625.7 876.2,622.2 876.3,618.6 876.5,614.8 876.6,610.9 876.7,606.9 876.9,602.9 877.0,598.8 877.2,594.8 877.3,590.7 877.4,586.8 877.6,582.9 877.7,579.1 877.8,575.5 877.9,572.0 878.0,569.3 878.1,566.5 878.2,563.6 878.2,560.7 878.3,557.8 878.4,554.8 878.5,551.8 878.5,548.8 878.6,545.7 878.7,542.6 878.7,539.4 878.8,536.3 878.9,533.1 879.0,529.9 879.0,526.7 879.1,523.5 879.1,520.2 879.2,517.0 879.3,513.8 879.3,510.6 879.4,507.4 879.4,504.2 879.5,501.0 879.6,497.8 879.6,494.7 879.7,491.6 879.7,488.5 879.8,485.4 879.8,482.4 879.9,479.5 880.0,476.5 880.0,473.6 880.1,470.8 880.1,468.0 880.2,465.3 880.2,462.6 880.3,460.0 880.4,456.5 880.5,453.1 880.5,449.7 880.6,446.4 880.7,443.1 880.7,439.9 880.8,436.7 880.9,433.6 880.9,430.5 881.0,427.5 881.1,424.5 881.1,421.5 881.2,418.6 881.3,415.7 881.3,412.8 881.4,409.9 881.5,407.1 881.5,404.3 881.6,401.5 881.7,398.7 881.8,395.5 881.9,392.3 882.0,389.2 882.1,386.2 882.2,383.3 882.3,380.3 882.4,377.4 882.5,374.5 882.6,371.6 882.7,368.7 882.9,365.7 883.0,362.7 883.1,359.7 883.2,356.5 883.3,353.3 883.4,349.8 883.5,346.0 883.7,342.0 883.8,337.9 883.9,333.7 884.0,329.4 884.1,325.3 884.2,321.3 884.4,317.5 884.5,314.0 884.6,310.8 884.8,308.1 884.9,305.8 885.0,304.1 885.2,303.1 885.3,302.7 885.5,303.3 885.7,305.0 885.9,307.6 886.2,310.9 886.4,314.7 886.6,318.9 886.8,323.2 887.0,327.5 887.2,331.7 887.4,335.4 887.5,338.2 887.6,341.1 887.7,343.9 887.8,346.8 887.9,349.7 888.0,352.7 888.1,355.6 888.1,358.6 888.2,361.7 888.2,364.8 888.3,367.9 888.4,371.1 888.4,374.3 888.5,377.6 888.6,380.3 888.6,383.0 888.7,385.8 888.7,388.5 888.8,391.3 888.8,394.1 888.9,396.9 888.9,399.8 889.0,402.7 889.0,405.6 889.1,408.5 889.1,411.5 889.2,414.6 889.2,417.7 889.3,420.8 889.3,424.0 889.4,427.2 889.4,430.5 889.4,433.9 889.5,437.3 889.5,440.8 889.5,443.3 889.5,445.9 889.6,448.6 889.6,451.3 889.6,454.0 889.6,456.8 889.6,459.7 889.6,462.6 889.6,465.5 889.6,468.5 889.6,471.5 889.6,474.6 889.6,477.6 889.6,480.7 889.7,483.9 889.7,487.0 889.7,490.2 889.7,493.4 889.7,496.6 889.7,499.8 889.7,503.0 889.6,506.2 889.6,509.5 889.6,512.7 889.6,515.9 889.6,519.1 889.7,522.3 889.7,525.5 889.7,528.7 889.7,531.9 889.7,535.0 889.7,538.1 889.7,541.2 889.7,544.3 889.7,547.3 889.7,550.3 889.7,553.3 889.7,556.2 889.7,559.1 889.8,561.9 889.8,564.7 889.8,567.4 889.8,570.8 889.9,574.2 889.9,577.5 889.9,580.8 890.0,584.0 890.0,587.2 890.0,590.4 890.1,593.6 890.1,596.8 890.2,599.9 890.2,603.0 890.3,606.1 890.3,609.1 890.4,612.2 890.4,615.2 890.5,618.2 890.5,621.2 890.6,624.2 890.6,627.2 890.7,630.2 890.7,633.1 890.8,636.1 890.8,639.1 890.9,642.1 890.9,645.0 891.0,648.0 891.0,651.0 891.0,654.1 891.1,657.3 891.1,660.4 891.2,663.4 891.2,666.5 891.3,669.6 891.3,672.6 891.4,675.7 891.4,678.7 891.5,681.8 891.5,684.8 891.6,687.8 891.6,690.8 891.7,693.8 891.7,696.8 891.8,699.8 891.8,702.8 891.9,705.8 891.9,708.8 892.0,711.8 892.0,714.9 892.1,717.9 892.1,720.9 892.2,723.9 892.3,727.0 892.3,730.2 892.4,733.3 892.4,736.5 892.5,739.6 892.5,742.8 892.6,746.0 892.6,749.1 892.7,752.3 892.7,755.4 892.8,758.6 892.8,761.7 892.9,764.9 892.9,768.0 893.0,771.1 893.0,774.2 893.1,777.3 893.1,780.4 893.2,783.4 893.2,786.5 893.3,789.5 893.3,792.5 893.4,795.5 893.5,798.8 893.5,802.0 893.6,805.3 893.6,808.5 893.7,811.7 893.8,814.9 893.8,818.1 893.9,821.3 894.0,824.4 894.0,827.6 894.1,830.7 894.1,833.8 894.2,836.9 894.3,839.9 894.3,843.0 894.4,846.0 894.5,849.0 894.5,852.0 894.6,855.0 894.7,858.4 894.7,861.7 894.8,865.0 894.9,868.3 895.0,871.6 895.0,874.9 895.1,878.1 895.2,881.3 895.2,884.5 895.3,887.6 895.4,890.8 895.5,893.9 895.6,896.9 895.7,899.9 895.8,902.9 895.9,906.4 896.1,910.0 896.2,913.7 896.4,917.3 896.5,920.8 896.7,924.3 896.8,927.6 897.0,930.7 897.2,933.7 897.5,936.3 897.7,938.7 898.2,943.0 898.8,946.7 899.4,948.2 899.8,947.4 900.1,945.3 900.5,942.3 900.8,938.5 901.2,934.5 901.5,930.4 901.8,926.7 902.0,923.8 902.3,920.8 902.5,917.8 902.7,914.6 902.9,911.4 903.1,908.1 903.3,904.7 903.5,901.4 903.7,897.9 904.0,894.5 904.2,891.0 904.4,888.0 904.6,885.0 904.9,882.0 905.1,878.9 905.3,875.8 905.6,872.6 905.8,869.5 906.0,866.3 906.3,863.0 906.5,859.8 906.8,856.5 907.0,853.2 907.2,849.9 907.5,846.6 907.7,843.2 907.9,840.2 908.1,837.2 908.3,834.1 908.5,831.0 908.7,827.8 908.9,824.6 909.1,821.4 909.3,818.2 909.5,815.0 909.7,811.7 909.9,808.5 910.1,805.3 910.2,802.1 910.4,798.9 910.6,795.7 910.8,792.6 911.0,789.5 911.1,786.5 911.3,783.5 911.5,780.2 911.7,776.8 911.8,773.5 912.0,770.2 912.2,767.0 912.3,763.7 912.5,760.5 912.7,757.3 912.8,754.1 913.0,751.0 913.1,747.9 913.3,744.8 913.4,741.8 913.6,738.8 913.7,735.8 913.9,732.4 914.0,729.0 914.2,725.7 914.3,722.4 914.5,719.2 914.6,716.0 914.8,712.8 914.9,709.7 915.1,706.5 915.2,703.3 915.4,700.0 915.5,697.0 915.7,694.0 915.8,691.0 916.0,688.0 916.1,685.0 916.3,682.0 916.4,679.0 916.6,675.9 916.8,672.8 916.9,669.6 917.1,666.3 917.3,662.9 917.5,660.1 917.6,657.2 917.8,654.2 918.0,651.1 918.2,648.0 918.4,644.9 918.6,641.7 918.8,638.4 919.0,635.2 919.2,631.9 919.4,628.6 919.6,625.3 919.8,622.0 920.0,618.8 920.2,615.6 920.4,612.4 920.6,609.3 920.7,606.2 920.9,603.2 921.1,599.9 921.3,596.6 921.4,593.4 921.6,590.2 921.7,587.1 921.9,584.0 922.0,580.9 922.2,577.8 922.3,574.7 922.5,571.6 922.6,568.5 922.8,565.3 922.9,562.1 923.1,558.8 923.2,555.5 923.3,552.5 923.5,549.3 923.6,546.1 923.7,542.8 923.8,539.5 924.0,536.1 924.1,532.7 924.2,529.3 924.4,525.8 924.5,522.5 924.6,519.1 924.7,515.8 924.9,512.6 925.0,509.5 925.1,506.5 925.2,503.6 925.3,500.8 925.5,498.2 925.6,495.8 925.8,491.8 926.1,488.5 926.3,485.4 926.5,482.4 926.8,479.0 927.0,475.0 927.1,472.7 927.2,470.3 927.3,467.7 927.4,465.0 927.6,462.2 927.7,459.4 927.8,456.4 927.9,453.3 928.0,450.2 928.1,447.0 928.2,443.7 928.3,440.5 928.4,437.2 928.5,433.8 928.6,430.5 928.8,427.2 928.9,423.8 929.0,420.5 929.1,417.3 929.3,414.1 929.4,410.9 929.5,407.9 929.7,404.8 929.8,401.7 930.0,398.6 930.1,395.5 930.3,392.3 930.4,389.2 930.6,386.0 930.7,382.9 930.9,379.7 931.0,376.5 931.2,373.4 931.4,370.2 931.5,367.0 931.7,363.9 931.9,360.7 932.0,357.6 932.2,354.5 932.3,351.4 932.5,348.3 932.7,345.3 932.8,342.3 933.0,339.3 933.2,336.0 933.4,332.7 933.5,329.5 933.7,326.2 933.9,323.0 934.1,319.7 934.3,316.5 934.4,313.3 934.6,310.1 934.8,306.9 935.0,303.8 935.2,300.6 935.4,297.6 935.6,294.5 935.7,291.5 935.9,288.5 936.1,285.5 936.3,282.6 936.5,279.7 936.7,276.0 937.0,272.0 937.2,267.8 937.4,263.6 937.7,259.3 937.9,255.1 938.2,251.2 938.4,247.5 938.6,244.4 938.9,241.7 939.1,239.7 939.4,238.4 939.6,237.9 939.8,238.2 940.0,239.3 940.2,240.9 940.4,243.0 940.6,245.6 940.8,248.6 941.0,252.0 941.2,255.6 941.5,259.5 941.7,263.6 941.9,267.7 942.1,272.0 942.2,276.2 942.4,280.3 942.6,284.3 942.8,288.1 943.0,291.6 943.2,294.5 943.3,297.4 943.5,300.4 943.6,303.4 943.8,306.4 943.9,309.5 944.1,312.6 944.2,315.6 944.3,318.8 944.5,321.9 944.6,325.0 944.8,328.2 944.9,331.3 945.0,334.5 945.2,337.7 945.3,340.9 945.4,344.1 945.5,347.3 945.7,350.5 945.8,353.7 945.9,356.8 946.0,360.0 946.1,363.2 946.2,366.2 946.3,369.3 946.4,372.4 946.5,375.6 946.5,378.8 946.6,382.0 946.7,385.2 946.8,388.4 946.8,391.7 946.9,394.9 946.9,398.2 947.0,401.4 947.1,404.6 947.1,407.8 947.2,410.9 947.2,414.1 947.3,417.2 947.3,420.2 947.4,423.2 947.4,426.2 947.5,429.1 947.5,431.9 947.6,434.7 947.6,437.4 947.7,440.0 947.8,443.5 947.8,446.7 947.9,449.9 948.0,452.8 948.0,455.8 948.1,458.6 948.2,461.4 948.2,464.3 948.3,467.2 948.3,470.2 948.4,473.3 948.4,476.5 948.5,480.0 948.5,482.6 948.6,485.2 948.6,488.0 948.7,490.8 948.7,493.6 948.7,496.5 948.8,499.5 948.8,502.5 948.9,505.5 948.9,508.6 948.9,511.7 949.0,514.8 949.0,518.0 949.0,521.1 949.1,524.3 949.1,527.5 949.2,530.7 949.2,533.8 949.2,537.0 949.3,540.2 949.3,543.3 949.4,546.4 949.4,549.5 949.5,552.5 949.5,555.5 949.5,558.6 949.6,561.8 949.6,564.9 949.7,568.0 949.7,571.2 949.8,574.3 949.8,577.4 949.9,580.5 950.0,583.6 950.0,586.7 950.1,589.8 950.1,592.9 950.2,596.0 950.2,599.1 950.3,602.2 950.3,605.2 950.4,608.3 950.4,611.4 950.5,614.5 950.5,617.7 950.6,620.8 950.6,623.9 950.7,627.0 950.7,630.0 950.8,633.1 950.8,636.2 950.9,639.3 950.9,642.4 951.0,645.6 951.0,648.7 951.1,651.9 951.1,655.0 951.2,658.1 951.2,661.3 951.3,664.4 951.3,667.5 951.4,670.6 951.4,673.7 951.5,676.8 951.5,679.8 951.6,682.8 951.6,685.8 951.7,688.7 951.7,691.6 951.8,694.5 951.8,697.3 951.9,700.0 952.0,703.4 952.0,706.7 952.1,709.9 952.2,713.0 952.3,716.0 952.3,719.0 952.4,722.0 952.5,724.9 952.6,727.9 952.7,731.0 952.7,734.1 952.8,737.3 952.9,740.6 953.0,744.1 953.1,747.7 953.2,750.3 953.2,753.0 953.3,755.8 953.4,758.7 953.4,761.6 953.5,764.6 953.6,767.7 953.6,770.8 953.7,774.0 953.8,777.2 953.8,780.5 953.9,783.8 954.0,787.1 954.1,790.4 954.1,793.8 954.2,797.1 954.3,800.5 954.4,803.8 954.4,807.1 954.5,810.4 954.6,813.7 954.7,816.9 954.8,820.1 954.9,823.2 955.0,826.3 955.0,829.3 955.1,832.2 955.2,835.1 955.3,837.9 955.4,840.6 955.5,843.2 955.6,846.9 955.8,850.4 955.9,853.9 956.1,857.2 956.2,860.4 956.4,863.6 956.5,866.7 956.7,869.8 956.8,872.9 957.0,875.9 957.1,878.9 957.3,881.9 957.5,884.9 957.7,887.9 957.9,891.0 958.1,894.2 958.3,897.5 958.4,900.8 958.6,904.1 958.7,907.5 958.9,910.8 959.1,914.1 959.3,917.3 959.5,920.4 959.8,923.4 960.1,926.3 960.5,929.0 960.9,931.6 961.4,933.9 962.4,937.6 963.7,941.1 965.0,944.2 966.3,946.6 967.4,948.2 969.0,949.0 972.0,949.1 975.8,948.7 978.8,948.2 982.0,947.6 984.8,947.0 989.2,945.9 993.7,948.0 997.1,948.0 1000.4,947.0 1002.7,945.1 1004.9,942.5 1007.4,939.8 1010.0,936.7 1012.7,933.6"/>
<polyline stroke="#000" points="1033.0,942.5 1034.6,938.7 1036.2,936.4 1039.0,941.4 1039.4,945.5 1040.7,949.0 1043.0,949.9 1046.3,950.2 1050.3,950.0 1054.3,949.6 1058.0,948.8 1060.8,948.0 1063.9,945.4 1066.4,943.4 1071.0,946.0 1074.3,948.5 1077.6,946.4 1081.0,948.5 1083.6,948.9 1087.0,949.2 1090.7,949.1 1094.2,948.8 1097.0,948.0 1100.1,945.5 1102.7,942.4 1105.1,939.5 1107.6,936.6 1109.7,935.4 1111.3,937.6 1112.6,941.8 1113.9,945.2 1116.7,948.0 1119.5,948.8 1123.3,949.3 1127.2,949.2 1130.1,948.4 1132.4,945.0 1134.1,940.8 1136.3,936.3 1138.7,933.2 1142.2,933.7 1143.7,930.8 1144.7,926.7 1146.0,922.8 1147.2,918.6 1147.8,915.3 1148.3,911.9 1148.8,908.5 1149.2,905.4 1149.7,902.4 1150.3,899.4 1151.2,896.4 1152.3,893.4 1153.3,890.4 1154.0,887.0 1154.6,883.5 1155.3,880.3 1156.5,876.1 1157.8,873.7 1159.8,878.2 1160.2,880.9 1160.3,884.3 1160.2,888.1 1160.2,891.9 1160.4,895.4 1160.7,898.5 1161.0,901.7 1161.4,904.7 1161.9,907.7 1162.4,910.5 1163.4,913.9 1164.4,917.1 1165.4,920.6 1165.9,923.4 1166.3,926.5 1166.6,929.7 1166.9,932.8 1167.4,935.8 1168.0,939.7 1168.6,943.9 1169.4,947.3 1170.4,948.9 1173.5,945.8 1174.6,942.8 1175.5,938.6 1176.4,935.0 1177.5,933.2 1180.5,936.3 1182.9,932.6 1185.1,929.2 1186.1,931.1 1186.8,934.9 1187.6,938.8 1188.2,942.5 1188.8,946.1 1190.6,948.9 1192.6,949.8 1195.4,950.3 1198.7,950.5 1202.2,950.4 1205.9,950.1 1209.3,949.7 1212.3,949.1 1214.6,948.5 1217.7,946.2 1220.2,944.6 1222.6,946.2 1225.8,948.5 1228.0,948.9 1230.8,949.2 1234.1,949.3 1237.8,949.2 1241.5,949.1 1245.3,948.9 1248.8,948.7 1252.0,948.5 1254.7,948.5 1256.6,948.5 1260.0,949.0 1262.9,948.8 1266.0,948.0 1269.6,946.2 1273.0,943.8 1276.1,941.3 1279.0,938.5 1281.0,936.1 1282.9,933.4 1284.6,930.6 1286.2,927.4 1287.6,924.1 1289.0,921.0 1290.7,917.7 1292.2,914.0 1292.8,911.7 1293.3,909.1 1293.7,906.2 1294.1,903.0 1294.5,899.8 1294.8,896.5 1295.2,893.2 1295.5,890.0 1295.8,887.0 1296.1,884.0 1296.4,881.0 1296.7,877.9 1297.0,874.9 1297.3,871.7 1297.5,868.5 1297.8,865.3 1298.0,862.0 1298.2,859.1 1298.4,856.1 1298.6,853.0 1298.8,850.0 1298.9,846.8 1299.1,843.7 1299.3,840.5 1299.4,837.3 1299.6,834.0 1299.7,830.8 1299.9,827.5 1300.0,824.2 1300.1,821.2 1300.2,818.1 1300.3,815.0 1300.4,811.7 1300.5,808.5 1300.6,805.2 1300.7,801.9 1300.8,798.6 1300.9,795.4 1301.0,792.2 1301.1,789.2 1301.1,786.2 1301.2,783.4 1301.3,780.8 1301.4,778.3 1301.5,774.9 1301.7,771.9 1301.8,769.1 1302.0,766.4 1302.1,763.4 1302.2,760.0 1302.3,757.5 1302.3,754.9 1302.4,752.1 1302.4,749.2 1302.4,746.2 1302.5,743.1 1302.5,740.0 1302.5,736.8 1302.6,733.5 1302.6,730.3 1302.7,727.0 1302.7,723.8 1302.7,720.6 1302.8,717.4 1302.9,714.5 1302.9,711.5 1303.0,708.6 1303.1,705.6 1303.1,702.7 1303.2,699.7 1303.3,696.7 1303.3,693.7 1303.4,690.6 1303.5,687.6 1303.6,684.6 1303.7,681.5 1303.7,678.5 1303.8,675.5 1303.9,672.4 1304.0,669.4 1304.1,666.1 1304.2,662.5 1304.3,658.6 1304.4,654.5 1304.5,650.4 1304.6,646.2 1304.7,642.0 1304.8,638.0 1304.9,634.1 1305.0,630.6 1305.1,627.3 1305.2,624.5 1305.3,622.2 1305.4,620.5 1305.5,619.4 1305.6,619.0 1305.7,619.3 1305.8,620.1 1305.9,621.4 1305.9,623.1 1306.0,625.2 1306.1,627.7 1306.2,630.5 1306.3,633.7 1306.4,637.0 1306.5,640.6 1306.6,644.4 1306.7,648.2 1306.7,652.2 1306.8,656.2 1306.9,660.3 1307.0,664.3 1307.1,668.2 1307.1,672.1 1307.2,675.8 1307.2,679.3 1307.3,682.6 1307.3,685.6 1307.4,688.6 1307.4,691.6 1307.4,694.7 1307.5,697.8 1307.5,700.9 1307.5,704.1 1307.5,707.3 1307.5,710.5 1307.5,713.6 1307.5,716.8 1307.5,720.0 1307.6,723.2 1307.6,726.4 1307.6,729.6 1307.6,732.8 1307.6,735.9 1307.6,739.1 1307.6,742.2 1307.6,745.2 1307.6,748.3 1307.6,751.3 1307.6,754.2 1307.7,757.1 1307.7,760.0 1307.7,763.3 1307.8,766.6 1307.8,769.8 1307.9,773.1 1307.9,776.3 1308.0,779.4 1308.0,782.6 1308.1,785.7 1308.1,788.8 1308.2,791.8 1308.2,794.8 1308.3,797.8 1308.3,800.8 1308.4,803.7 1308.4,806.6 1308.5,809.4 1308.5,812.2 1308.6,815.0 1308.7,818.3 1308.7,821.6 1308.8,824.8 1308.9,828.0 1309.0,831.1 1309.0,834.1 1309.1,837.2 1309.2,840.1 1309.3,843.1 1309.3,846.0 1309.4,848.8 1309.5,851.7 1309.6,855.2 1309.7,859.2 1309.8,863.2 1309.9,867.3 1310.0,871.0 1310.1,874.3 1310.2,877.0 1310.4,878.7 1310.5,879.3 1310.6,878.9 1310.7,877.9 1310.8,876.2 1310.9,874.0 1311.0,871.3 1311.2,868.1 1311.3,864.7 1311.4,861.0 1311.5,857.0 1311.7,853.0 1311.8,848.9 1311.9,844.8 1312.1,840.8 1312.2,836.9 1312.4,833.3 1312.5,830.0 1312.6,826.9 1312.8,823.5 1312.9,819.9 1313.1,816.1 1313.2,812.2 1313.4,808.2 1313.5,804.2 1313.7,800.2 1313.9,796.4 1314.0,792.7 1314.2,789.3 1314.3,786.1 1314.5,783.2 1314.6,780.8 1314.8,778.8 1314.9,777.3 1315.1,776.3 1315.2,776.0 1315.4,776.5 1315.5,777.7 1315.7,779.7 1315.8,782.3 1316.0,785.5 1316.1,789.0 1316.3,792.7 1316.4,796.7 1316.5,800.7 1316.7,804.7 1316.8,808.5 1316.9,812.0 1317.0,814.7 1317.1,817.6 1317.2,820.5 1317.2,823.5 1317.3,826.6 1317.4,829.7 1317.5,832.9 1317.5,836.1 1317.6,839.3 1317.7,842.6 1317.7,845.8 1317.8,849.0 1317.9,852.2 1317.9,855.3 1318.0,858.4 1318.1,861.4 1318.1,864.4 1318.2,867.2 1318.3,870.0 1318.4,873.4 1318.5,876.6 1318.6,879.7 1318.7,882.8 1318.8,885.8 1318.9,888.8 1319.0,891.7 1319.1,894.7 1319.2,897.6 1319.4,900.6 1319.5,903.7 1319.6,906.8 1319.6,909.8 1319.5,913.1 1319.3,916.5 1319.0,919.9 1318.7,923.5 1318.4,927.0 1318.1,930.5 1318.0,933.9 1318.0,937.1 1318.2,940.1 1318.6,942.8 1319.2,945.3 1320.2,947.3 1321.5,949.0 1323.5,950.4 1325.9,951.2 1328.7,951.6 1331.8,951.7 1335.1,951.4 1338.6,951.0 1342.1,950.5 1345.7,950.0 1349.3,949.5 1352.7,949.1 1356.0,949.0"/>
<polyline stroke="#f00" points="105.5,933.0 105.7,929.5 105.9,925.8 106.0,922.1 106.2,918.6 106.6,915.5 107.0,913.0 109.0,908.6 110.4,906.2 112.1,903.4 113.9,900.4 115.4,897.0 116.2,894.2 116.9,891.0 117.5,887.7 117.9,884.2 118.4,880.7 118.8,877.3 119.3,874.0 119.8,870.4 120.2,866.6 120.6,862.8 121.1,859.3 121.7,856.1 122.5,853.4 124.6,849.2 127.0,847.2 129.5,849.3 132.0,853.4 133.2,855.7 134.3,858.5 135.4,861.5 136.4,864.6 137.5,867.8 138.5,871.0 139.5,874.0 140.4,877.1 141.4,880.2 142.3,883.4 143.2,886.6 144.1,889.8 145.0,893.0 145.9,896.4 146.7,899.9 147.6,903.5 148.4,907.1 149.3,910.4 150.3,913.4 151.3,916.0 153.8,920.8 156.5,923.3 159.2,921.5 161.6,917.6 162.7,915.1 163.5,912.1 164.3,908.8 164.9,905.4 165.5,902.0 166.0,898.7 166.5,895.3 166.9,891.8 167.3,888.2 167.7,884.8 168.0,881.6 168.2,877.5 168.2,873.2 168.4,869.7 169.3,867.5 173.2,867.5 174.1,865.5 174.3,862.4 174.5,858.5 174.7,856.2 174.9,853.5 175.2,850.4 175.4,847.1 175.6,843.6 175.8,839.9 176.1,836.3 176.3,832.7 176.5,829.1 176.7,825.8 176.8,822.7 177.0,820.0 177.2,815.7 177.4,811.2 177.6,807.2 177.8,804.4 178.0,803.3 178.2,804.0 178.4,806.0 178.5,809.0 178.7,812.8 178.9,817.0 179.1,821.5 179.3,825.9 179.5,830.0 179.6,832.7 179.8,835.5 179.9,838.5 180.0,841.5 180.1,844.7 180.3,847.9 180.4,851.1 180.5,854.4 180.7,857.7 180.8,861.0 180.9,864.3 181.0,867.5 181.1,870.7 181.3,873.9 181.4,877.0 181.5,880.0 181.6,883.2 181.7,886.5 181.8,889.7 181.9,892.9 182.0,896.0 182.1,899.2 182.2,902.3 182.3,905.3 182.4,908.3 182.5,911.3 182.6,914.3 182.8,917.2 183.0,920.0 183.1,923.6 183.1,927.3 182.9,931.1 182.8,934.8 182.8,938.3 183.0,941.6 183.6,944.5 184.5,946.8 186.0,948.5 188.0,949.5 190.7,950.2 193.9,950.4 197.4,950.3 201.0,949.8 204.7,949.1 208.2,948.0 211.4,946.8 214.2,945.3 216.3,943.7 217.9,941.3 219.0,938.1 219.7,934.3 220.1,930.1 220.3,926.1 220.4,922.4 220.6,919.3 220.8,917.3 221.3,916.5 221.8,917.3 222.2,919.4 222.5,922.6 222.9,926.6 223.2,930.9 223.7,935.3 224.3,939.6 225.1,943.2 226.1,946.1 227.4,947.7 230.3,948.4 233.8,947.9 237.4,946.5 240.5,944.7 242.6,942.8 244.4,940.5 245.9,937.8 247.3,934.8 248.6,931.6 249.4,928.8 250.1,925.3 250.7,921.3 251.1,917.1 251.5,913.0 251.9,909.0 252.3,905.6 252.7,902.8 253.1,901.0 253.6,900.3 254.1,901.0 254.5,903.0 255.0,906.0 255.5,909.7 255.9,913.9 256.4,918.4 256.9,922.9 257.4,927.2 257.9,930.9 258.5,933.9 259.1,935.9 259.7,936.7 260.6,936.0 261.6,934.0 262.6,930.9 263.7,927.3 264.8,923.2 265.8,919.2 266.7,915.5 267.4,912.4 268.0,908.8 268.7,904.7 269.2,900.5 269.8,896.3 270.4,892.2 270.9,888.5 271.5,885.3 272.1,882.8 272.7,881.1 273.3,880.5 274.1,881.6 274.9,884.6 275.8,888.6 276.6,893.0 277.5,897.1 278.3,900.0 279.1,901.2 280.2,899.9 281.2,896.7 282.3,892.6 283.2,888.8 284.0,885.6 284.6,882.3 285.2,879.0 285.9,875.6 286.5,872.2 287.2,868.9 287.9,865.6 288.6,862.3 289.2,859.0 289.8,855.7 290.2,852.4 290.6,849.1 290.9,845.8 291.2,842.5 291.5,839.2 291.8,835.9 292.1,832.6 292.5,829.2 292.8,825.9 293.1,822.6 293.4,819.4 293.8,816.2 294.1,812.9 294.5,809.6 294.8,806.1 295.0,803.2 295.2,800.3 295.4,797.2 295.6,794.0 295.8,790.8 296.0,787.6 296.2,784.4 296.4,781.3 296.6,778.2 296.8,775.0 297.1,771.8 297.3,768.7 297.5,765.5 297.7,762.4 297.9,759.4 298.1,756.5 298.3,753.3 298.5,750.1 298.6,747.1 298.7,744.1 298.9,741.1 299.0,738.0 299.1,735.0 299.2,732.1 299.3,729.2 299.4,726.2 299.5,722.8 299.6,718.9 299.6,716.7 299.7,714.3 299.7,711.8 299.8,709.2 299.8,706.5 299.9,703.6 299.9,700.6 299.9,697.6 300.0,694.4 300.0,691.2 300.1,687.9 300.1,684.6 300.1,681.2 300.2,677.8 300.2,674.4 300.3,670.9 300.3,667.4 300.3,664.0 300.4,660.6 300.4,657.2 300.5,653.8 300.5,650.5 300.6,647.2 300.7,644.2 300.7,641.2 300.8,638.2 300.8,635.2 300.9,632.1 300.9,629.1 301.0,626.0 301.1,623.0 301.1,619.9 301.2,616.8 301.3,613.7 301.3,610.6 301.4,607.5 301.5,604.4 301.5,601.3 301.6,598.1 301.7,595.0 301.7,591.9 301.8,588.7 301.9,585.6 301.9,582.5 302.0,579.3 302.1,576.2 302.1,573.0 302.2,569.9 302.2,566.7 302.3,563.6 302.4,560.6 302.4,557.5 302.5,554.4 302.5,551.3 302.5,548.2 302.6,545.1 302.6,541.9 302.7,538.7 302.7,535.6 302.8,532.4 302.8,529.2 302.8,526.0 302.9,522.8 302.9,519.7 303.0,516.5 303.0,513.4 303.1,510.2 303.1,507.1 303.1,504.0 303.2,501.0 303.2,497.9 303.3,494.9 303.3,492.0 303.4,489.0 303.4,486.1 303.5,483.3 303.5,480.5 303.5,477.7 303.6,475.0 303.7,471.6 303.7,468.3 303.8,465.0 303.9,461.8 303.9,458.6 304.0,455.4 304.1,452.2 304.1,449.1 304.2,446.1 304.3,443.1 304.4,440.1 304.4,437.2 304.5,434.4 304.6,431.6 304.7,428.8 304.7,426.2 304.8,423.6 304.9,421.0 305.0,417.1 305.1,413.0 305.3,408.8 305.4,404.7 305.5,400.9 305.6,397.6 305.8,395.0 305.9,393.3 306.1,392.7 306.3,393.6 306.6,396.2 306.9,399.8 307.1,404.1 307.4,408.6 307.6,412.8 307.7,415.4 307.8,418.0 307.9,420.7 307.9,423.5 307.9,426.3 308.0,429.3 308.0,432.3 308.0,435.4 308.1,438.6 308.1,441.8 308.1,445.1 308.2,448.5 308.2,452.0 308.2,454.6 308.3,457.2 308.3,459.9 308.4,462.6 308.4,465.4 308.5,468.3 308.5,471.2 308.5,474.1 308.6,477.1 308.6,480.1 308.7,483.2 308.7,486.3 308.8,489.4 308.8,492.5 308.9,495.7 308.9,498.8 309.0,502.0 309.0,505.2 309.1,508.5 309.1,511.7 309.2,514.9 309.2,518.1 309.3,521.4 309.3,524.6 309.4,527.8 309.4,530.7 309.5,533.7 309.5,536.6 309.6,539.6 309.7,542.6 309.7,545.6 309.8,548.6 309.8,551.7 309.9,554.7 309.9,557.8 310.0,560.9 310.0,564.0 310.1,567.1 310.1,570.2 310.2,573.3 310.2,576.4 310.3,579.6 310.4,582.7 310.4,585.8 310.5,589.0 310.5,592.1 310.6,595.2 310.6,598.4 310.7,601.5 310.8,604.6 310.8,607.8 310.9,610.9 310.9,614.0 311.0,617.1 311.0,620.2 311.1,623.3 311.2,626.4 311.2,629.5 311.3,632.5 311.3,635.6 311.4,638.6 311.4,641.7 311.5,644.7 311.5,647.8 311.6,650.8 311.6,653.9 311.7,656.9 311.7,660.0 311.8,663.0 311.8,666.1 311.9,669.1 311.9,672.2 312.0,675.2 312.0,678.3 312.1,681.4 312.2,684.4 312.2,687.5 312.3,690.6 312.4,693.7 312.4,696.8 312.5,699.9 312.6,703.1 312.7,706.2 312.7,709.4 312.8,712.5 312.9,715.7 313.0,718.9 313.1,721.8 313.2,724.7 313.3,727.6 313.4,730.6 313.5,733.5 313.6,736.5 313.7,739.5 313.8,742.5 313.9,745.5 314.0,748.5 314.1,751.5 314.2,754.5 314.4,757.6 314.5,760.6 314.6,763.7 314.7,766.7 314.8,769.8 315.0,772.8 315.1,775.9 315.2,778.9 315.3,782.0 315.5,785.0 315.6,788.1 315.7,791.1 315.9,794.1 316.0,797.2 316.1,800.2 316.2,803.2 316.4,806.3 316.5,809.3 316.6,812.3 316.8,815.2 316.9,818.2 317.0,821.2 317.1,824.1 317.3,827.1 317.4,830.0 317.5,833.2 317.7,836.5 317.8,840.0 317.9,843.5 318.0,847.2 318.1,851.0 318.2,854.9 318.3,858.8 318.4,862.7 318.5,866.7 318.6,870.7 318.7,874.7 318.9,878.7 319.0,882.6 319.1,886.5 319.2,890.3 319.3,894.0 319.4,897.6 319.5,901.2 319.7,904.5 319.8,907.8 319.9,910.8 320.1,913.7 320.2,916.4 320.4,918.8 320.5,921.1 320.7,923.1 320.9,924.8 321.1,926.3 321.3,927.4 321.5,928.3 321.7,928.8 321.9,929.0 322.3,928.6 322.8,927.3 323.3,925.2 323.8,922.6 324.3,919.4 324.9,915.8 325.4,912.0 326.0,908.0 326.5,903.9 327.0,899.9 327.4,896.0 327.7,893.6 327.9,891.2 328.2,888.6 328.4,886.0 328.6,883.2 328.9,880.4 329.1,877.5 329.3,874.5 329.5,871.5 329.7,868.4 329.9,865.2 330.1,862.0 330.3,858.8 330.5,855.6 330.7,852.3 330.8,849.0 331.0,845.7 331.2,842.5 331.4,839.2 331.5,835.9 331.7,832.6 331.8,829.4 332.0,826.2 332.1,823.0 332.3,819.9 332.5,816.8 332.6,813.8 332.8,810.9 332.9,808.0 333.1,804.7 333.2,801.5 333.4,798.3 333.5,795.1 333.7,792.0 333.8,788.8 334.0,785.7 334.1,782.7 334.3,779.6 334.4,776.5 334.5,773.5 334.6,770.5 334.8,767.4 334.9,764.4 335.0,761.4 335.1,758.3 335.2,755.3 335.3,752.3 335.4,749.2 335.5,746.2 335.6,743.1 335.7,740.0 335.8,737.0 335.9,734.1 335.9,731.2 336.0,728.3 336.1,725.4 336.1,722.5 336.2,719.6 336.2,716.8 336.3,713.9 336.3,711.0 336.3,708.1 336.4,705.2 336.4,702.3 336.5,699.3 336.5,696.4 336.5,693.4 336.6,690.3 336.6,687.2 336.7,684.1 336.7,680.9 336.8,677.7 336.8,674.4 336.9,671.0 337.0,668.4 337.0,665.6 337.1,662.8 337.1,659.9 337.2,657.0 337.2,654.0 337.3,650.9 337.4,647.8 337.4,644.7 337.5,641.5 337.6,638.2 337.6,635.0 337.7,631.7 337.8,628.4 337.9,625.0 337.9,621.7 338.0,618.4 338.1,615.0 338.1,611.7 338.2,608.4 338.3,605.1 338.4,601.8 338.4,598.5 338.5,595.3 338.6,592.1 338.6,588.9 338.7,585.8 338.8,582.8 338.8,579.8 338.9,576.8 338.9,574.0 339.0,571.2 339.0,568.4 339.1,565.8 339.1,563.3 339.2,560.8 339.2,558.4 339.3,556.2 339.3,554.0 339.4,550.2 339.4,546.7 339.4,543.4 339.5,540.4 339.5,537.5 339.5,534.8 339.6,532.0 339.6,529.2 339.6,526.3 339.7,523.3 339.7,520.0 339.7,517.1 339.8,514.2 339.8,511.3 339.9,508.4 339.9,505.4 340.0,502.4 340.0,499.3 340.1,496.2 340.1,493.0 340.2,489.8 340.2,486.5 340.3,483.2 340.3,479.9 340.4,476.4 340.4,473.0 340.5,469.4 340.5,466.7 340.6,463.9 340.6,461.1 340.7,458.2 340.7,455.3 340.8,452.3 340.8,449.3 340.8,446.3 340.9,443.2 340.9,440.1 341.0,436.9 341.0,433.8 341.1,430.6 341.1,427.4 341.2,424.2 341.2,420.9 341.2,417.7 341.3,414.5 341.3,411.2 341.4,408.0 341.4,404.8 341.5,401.6 341.5,398.4 341.5,395.2 341.6,392.0 341.6,388.9 341.7,385.8 341.7,382.7 341.7,379.6 341.8,376.5 341.8,373.4 341.8,370.3 341.9,367.3 341.9,364.2 341.9,361.1 342.0,358.0 342.0,355.0 342.0,351.9 342.1,348.8 342.1,345.8 342.1,342.7 342.2,339.7 342.2,336.6 342.2,333.5 342.2,330.5 342.3,327.4 342.3,324.4 342.3,321.3 342.3,318.3 342.4,315.2 342.4,312.2 342.4,309.1 342.5,306.1 342.5,303.1 342.5,300.0 342.5,297.0 342.5,293.9 342.5,290.8 342.6,287.7 342.6,284.6 342.6,281.5 342.6,278.4 342.6,275.2 342.6,272.1 342.6,268.9 342.5,265.8 342.5,262.7 342.5,259.6 342.5,256.5 342.5,253.4 342.6,250.3 342.6,247.3 342.6,244.2 342.6,241.2 342.6,238.3 342.7,235.3 342.7,232.4 342.7,229.6 342.8,226.8 342.8,224.0 342.9,221.3 343.0,218.6 343.1,215.0 343.3,211.1 343.4,207.1 343.6,202.9 343.8,198.8 343.9,194.6 344.1,190.6 344.3,186.6 344.5,183.0 344.7,179.6 344.9,176.5 345.2,173.9 345.3,171.7 345.5,170.1 345.7,169.1 345.9,168.7 346.1,169.1 346.3,170.3 346.5,172.1 346.7,174.5 346.8,177.5 347.0,180.9 347.2,184.6 347.4,188.6 347.6,192.8 347.7,197.1 347.9,201.5 348.1,205.8 348.2,210.0 348.3,212.2 348.3,214.5 348.4,216.8 348.5,219.3 348.5,221.8 348.6,224.4 348.7,227.0 348.7,229.8 348.8,232.5 348.8,235.4 348.9,238.3 348.9,241.2 349.0,244.3 349.0,247.3 349.1,250.4 349.1,253.5 349.2,256.7 349.2,259.9 349.3,263.1 349.3,266.4 349.3,269.6 349.4,272.9 349.4,276.2 349.5,279.6 349.5,282.9 349.5,286.2 349.6,289.6 349.6,292.9 349.6,296.2 349.7,299.5 349.7,302.8 349.7,306.1 349.8,309.4 349.8,312.6 349.8,315.9 349.9,319.1 349.9,322.2 349.9,325.3 350.0,328.4 350.0,331.5 350.0,334.5 350.1,337.4 350.1,340.3 350.2,343.1 350.2,345.9 350.2,349.2 350.3,352.4 350.3,355.6 350.4,358.8 350.4,361.9 350.5,365.0 350.5,368.1 350.6,371.1 350.6,374.1 350.7,377.1 350.7,380.1 350.7,383.1 350.8,386.0 350.8,388.9 350.9,391.9 350.9,394.8 351.0,397.7 351.0,400.6 351.0,403.5 351.1,406.5 351.1,409.4 351.2,412.4 351.2,415.3 351.2,418.3 351.3,421.3 351.3,424.4 351.4,427.4 351.4,430.5 351.4,433.6 351.5,436.8 351.5,440.0 351.5,442.8 351.6,445.7 351.6,448.5 351.6,451.3 351.6,454.2 351.7,457.0 351.7,459.9 351.7,462.8 351.8,465.7 351.8,468.6 351.8,471.5 351.8,474.4 351.9,477.3 351.9,480.2 351.9,483.2 351.9,486.1 352.0,489.1 352.0,492.0 352.0,495.0 352.0,498.0 352.0,501.0 352.1,504.0 352.1,507.0 352.1,510.1 352.1,513.1 352.2,516.1 352.2,519.2 352.2,522.3 352.2,525.4 352.3,528.4 352.3,531.5 352.3,534.7 352.3,537.8 352.3,540.9 352.4,544.1 352.4,547.2 352.4,550.4 352.4,553.6 352.5,556.8 352.5,560.0 352.5,562.8 352.5,565.7 352.6,568.6 352.6,571.5 352.6,574.5 352.6,577.5 352.6,580.5 352.7,583.6 352.7,586.7 352.7,589.8 352.7,592.9 352.7,596.1 352.7,599.2 352.8,602.4 352.8,605.6 352.8,608.8 352.8,612.1 352.8,615.3 352.8,618.5 352.9,621.8 352.9,625.0 352.9,628.3 352.9,631.6 352.9,634.8 353.0,638.1 353.0,641.3 353.0,644.5 353.0,647.8 353.0,651.0 353.0,654.2 353.1,657.4 353.1,660.6 353.1,663.7 353.1,666.8 353.2,669.9 353.2,673.0 353.2,676.1 353.2,679.1 353.3,682.1 353.3,685.1 353.3,688.0 353.4,690.9 353.4,693.8 353.4,696.6 353.5,699.4 353.5,702.2 353.5,704.9 353.6,707.5 353.6,710.1 353.7,712.7 353.7,715.2 353.8,717.6 353.8,720.0 353.9,723.6 354.0,727.1 354.0,730.5 354.1,733.8 354.2,737.0 354.3,740.1 354.4,743.1 354.5,746.1 354.6,749.1 354.7,751.9 354.8,754.8 354.9,757.6 355.0,760.4 355.2,763.2 355.3,766.0 355.4,768.8 355.5,771.6 355.6,774.4 355.7,777.2 355.8,780.1 355.9,783.0 356.0,786.0 356.1,789.0 356.2,792.0 356.3,795.0 356.4,798.1 356.5,801.1 356.6,804.2 356.7,807.2 356.8,810.3 356.9,813.3 357.0,816.3 357.1,819.4 357.2,822.4 357.3,825.4 357.4,828.4 357.5,831.4 357.6,834.4 357.7,837.4 357.8,840.4 357.9,843.3 358.0,846.2 358.1,849.1 358.2,852.0 358.3,855.2 358.4,858.4 358.5,861.6 358.6,864.7 358.7,867.9 358.8,871.0 358.9,874.1 359.0,877.2 359.1,880.3 359.2,883.4 359.3,886.4 359.4,889.5 359.6,892.5 359.7,895.4 359.9,898.4 360.0,901.3 360.2,904.2 360.4,907.0 360.6,910.5 360.8,914.3 360.9,918.3 361.0,922.4 361.1,926.4 361.3,930.4 361.4,934.1 361.7,937.6 362.1,940.8 362.5,943.5 363.1,945.6 363.9,947.2 364.8,948.0 367.0,947.4 369.6,945.1 372.3,942.4 374.7,940.7 380.0,940.7 383.0,943.1 386.2,946.4 389.3,948.0 391.5,946.9 393.6,944.3 395.7,941.4 398.0,939.0 401.5,936.8 405.2,934.8 408.4,933.4 412.8,932.0 416.1,931.1 419.8,929.9 423.0,927.6 424.2,925.9 425.1,923.8 425.9,921.4 426.5,918.7 427.0,915.8 427.4,912.6 427.8,909.2 428.2,905.6 428.6,901.9 429.0,898.0 429.2,895.9 429.5,893.6 429.7,891.3 429.9,888.8 430.1,886.2 430.2,883.5 430.4,880.7 430.5,877.8 430.7,874.8 430.8,871.8 431.0,868.7 431.1,865.5 431.2,862.2 431.3,859.0 431.4,855.6 431.5,852.3 431.6,848.9 431.7,845.5 431.7,842.1 431.8,838.6 431.9,835.2 432.0,831.8 432.1,828.4 432.1,825.1 432.2,821.7 432.3,818.4 432.4,815.2 432.4,812.0 432.5,808.8 432.6,805.8 432.7,802.8 432.8,799.8 432.9,797.0 433.0,794.3 433.1,791.6 433.3,789.1 433.4,786.7 433.6,782.9 433.8,778.9 434.1,774.8 434.3,770.7 434.6,766.6 434.8,762.6 435.0,758.7 435.3,755.1 435.5,751.7 435.8,748.7 436.0,746.1 436.2,744.0 436.5,742.4 436.7,741.4 436.9,741.0 437.2,741.6 437.5,743.3 437.7,746.0 438.0,749.3 438.3,753.2 438.5,757.4 438.8,761.7 439.0,766.0 439.2,770.0 439.3,772.5 439.4,775.1 439.5,777.8 439.6,780.5 439.7,783.3 439.8,786.2 439.9,789.2 440.0,792.1 440.0,795.2 440.1,798.3 440.2,801.4 440.2,804.5 440.3,807.7 440.3,810.9 440.4,814.1 440.4,817.3 440.5,820.5 440.6,823.6 440.6,826.8 440.7,830.0 440.8,833.0 440.8,836.0 440.9,839.0 440.9,842.1 441.0,845.2 441.0,848.4 441.1,851.6 441.1,854.8 441.2,858.0 441.2,861.3 441.3,864.5 441.3,867.7 441.4,870.9 441.4,874.1 441.5,877.3 441.5,880.5 441.6,883.6 441.7,886.7 441.7,889.7 441.8,892.7 441.9,895.6 442.0,898.5 442.1,901.3 442.2,904.0 442.3,907.7 442.4,911.6 442.4,915.6 442.4,919.7 442.4,923.8 442.4,927.8 442.4,931.7 442.5,935.3 442.6,938.6 442.8,941.5 443.2,944.0 443.6,946.0 444.2,947.3 445.0,948.0 446.9,946.9 449.2,943.8 451.6,940.5 453.9,939.0 456.3,940.6 458.6,943.9 461.2,946.6 463.8,947.9 466.7,948.6 470.0,949.0 473.2,949.1 476.9,948.9 481.0,948.6 484.8,948.0 488.2,947.1 490.7,946.0 492.8,942.6 494.2,939.8 497.0,940.3 499.6,938.0 501.1,935.5 502.4,932.5 503.3,929.5 504.1,926.2 505.1,923.3 507.9,918.7 510.6,916.9 512.5,914.1 513.9,911.6 515.2,908.6 515.8,905.5 516.2,902.0 516.6,898.5 517.2,894.2 517.8,889.9 518.4,888.0 518.7,888.8 519.0,890.9 519.3,894.0 519.5,897.9 519.8,902.2 520.1,906.6 520.4,910.9 520.7,914.8 521.0,918.0 521.2,921.5 521.5,925.4 521.7,929.4 522.0,933.4 522.3,937.2 522.6,940.7 523.0,943.7 523.4,946.1 524.0,947.7 524.6,948.3 525.7,947.6 527.0,945.5 528.5,942.3 529.9,938.5 531.3,934.4 532.4,930.4 533.0,928.0 533.5,925.3 533.9,922.4 534.3,919.3 534.6,916.0 534.9,912.7 535.2,909.2 535.4,905.8 535.6,902.3 535.8,898.8 536.0,895.4 536.2,892.1 536.4,888.9 536.6,885.9 536.8,883.1 537.1,880.5 537.5,876.6 537.9,872.6 538.2,868.6 538.6,865.0 539.0,862.1 539.3,860.1 539.7,859.4 540.1,860.0 540.4,861.8 540.8,864.5 541.1,867.8 541.5,871.7 541.8,875.7 542.2,879.8 542.5,883.6 542.7,886.2 542.9,889.1 543.1,892.2 543.3,895.4 543.5,898.9 543.7,902.4 543.9,906.0 544.1,909.6 544.3,913.2 544.5,916.8 544.7,920.3 544.9,923.7 545.1,927.0 545.4,930.1 545.6,932.9 545.8,935.5 546.1,937.8 546.4,939.8 547.0,944.0 547.6,947.4 548.8,949.0 550.4,948.5 552.6,946.6 554.9,943.9 557.3,940.9 559.4,938.2 561.6,935.3 563.8,932.4 565.6,929.3 567.2,925.7 568.0,922.9 568.6,919.9 569.0,916.7 569.3,913.3 569.5,909.8 569.7,906.2 569.9,902.7 570.3,899.2 570.7,895.9 571.0,892.1 571.4,888.1 571.8,883.9 572.2,879.9 572.6,876.1 573.0,872.9 573.4,870.3 573.8,868.6 574.2,868.0 574.7,869.3 575.3,872.6 575.9,877.2 576.5,882.2 577.0,886.8 577.6,890.1 578.1,891.4 578.4,890.8 578.7,889.0 579.0,886.3 579.3,882.9 579.6,878.9 579.9,874.5 580.2,869.9 580.4,865.4 580.7,861.0 581.0,857.0 581.2,853.6 581.5,850.9 581.7,849.1 582.0,848.5 582.3,849.0 582.6,850.5 582.9,852.9 583.2,855.9 583.5,859.4 583.8,863.3 584.1,867.5 584.3,871.8 584.6,876.0 584.9,880.0 585.1,883.6 585.3,886.6 585.5,889.7 585.6,892.9 585.8,896.2 585.9,899.5 586.0,902.9 586.2,906.3 586.3,909.6 586.4,913.0 586.5,916.2 586.7,919.3 586.8,922.4 587.0,925.2 587.2,927.9 587.4,930.4 587.7,934.3 587.9,938.2 588.2,942.0 588.6,945.1 589.1,947.4 589.8,948.3 591.2,946.7 592.9,942.9 595.2,939.8 598.0,938.2 601.5,937.0 604.9,936.3 607.7,936.6 610.3,940.1 612.4,942.9 614.0,941.8 615.6,939.3 617.3,935.6 618.9,931.5 620.2,927.3 620.8,924.9 621.3,922.2 621.7,919.2 622.1,916.1 622.4,912.8 622.6,909.4 622.8,906.0 623.0,902.5 623.1,899.1 623.3,895.7 623.5,892.4 623.6,889.3 623.9,886.3 624.1,883.6 624.5,879.6 624.8,875.3 625.2,871.1 625.5,867.2 625.9,864.0 626.3,861.8 626.8,861.0 627.7,863.6 628.6,868.4 629.6,871.0 630.4,869.4 631.2,865.5 632.0,860.9 632.8,857.1 633.5,855.5 634.0,856.4 634.5,858.6 635.0,861.9 635.4,865.7 635.8,869.9 636.2,873.9 636.6,877.4 637.0,880.9 637.3,884.9 637.7,889.0 638.0,892.9 638.3,896.2 638.6,898.4 638.9,899.2 639.1,898.4 639.3,896.1 639.5,892.9 639.7,888.9 639.8,884.7 640.0,880.5 640.1,878.3 640.2,875.8 640.3,873.3 640.3,870.6 640.4,867.7 640.5,864.8 640.5,861.8 640.6,858.6 640.7,855.5 640.7,852.2 640.8,849.0 640.9,845.7 640.9,842.3 641.0,839.0 641.1,835.7 641.2,832.5 641.2,829.2 641.3,826.1 641.4,823.0 641.5,820.0 641.6,816.7 641.7,813.2 641.8,809.4 641.9,805.5 642.0,801.5 642.2,797.4 642.3,793.3 642.4,789.3 642.5,785.5 642.6,781.8 642.8,778.3 642.9,775.1 643.0,772.2 643.1,769.8 643.2,767.8 643.4,766.3 643.5,765.3 643.6,765.0 643.8,765.7 644.0,767.6 644.1,770.4 644.3,774.0 644.5,777.9 644.7,782.1 644.8,786.2 645.0,790.0 645.1,792.7 645.2,795.4 645.4,798.2 645.5,801.0 645.6,803.9 645.7,806.9 645.8,809.9 645.9,812.9 646.0,816.1 646.1,819.3 646.2,822.6 646.3,825.9 646.4,829.3 646.5,832.8 646.6,835.4 646.6,838.2 646.6,841.0 646.7,844.0 646.7,847.0 646.7,850.0 646.7,853.2 646.7,856.4 646.7,859.6 646.8,862.9 646.8,866.2 646.8,869.5 646.8,872.8 646.8,876.1 646.8,879.4 646.8,882.7 646.8,885.9 646.8,889.1 646.9,892.2 646.9,895.3 647.0,898.3 647.0,901.3 647.1,904.1 647.1,906.8 647.2,909.5 647.3,912.0 647.4,915.7 647.4,919.5 647.4,923.3 647.3,927.1 647.3,930.7 647.3,934.3 647.4,937.6 647.6,940.6 647.9,943.2 648.3,945.5 648.9,947.2 649.8,948.4 653.0,949.4 656.4,948.4 658.3,946.6 660.0,943.8 661.5,940.5 663.0,936.9 664.1,934.3 665.1,931.4 666.1,928.4 667.1,925.2 668.1,921.9 669.0,918.6 669.8,915.3 670.5,912.1 671.1,908.9 671.5,905.7 671.9,902.3 672.2,899.0 672.5,895.8 672.9,892.7 673.3,889.8 673.8,887.3 675.0,882.9 676.2,879.0 677.4,877.4 678.1,878.5 678.6,881.3 679.2,885.0 679.7,888.9 680.4,892.3 681.4,896.5 682.4,901.1 683.5,904.8 684.5,906.3 685.0,905.7 685.5,904.0 686.0,901.4 686.5,898.2 686.9,894.5 687.4,890.6 687.8,886.5 688.2,882.6 688.6,879.0 688.9,876.0 689.2,872.6 689.5,868.9 689.8,865.0 690.0,860.9 690.3,856.8 690.6,852.8 690.8,849.0 691.1,845.5 691.3,842.4 691.6,839.8 691.8,837.8 692.1,836.6 692.4,836.1 692.9,836.9 693.4,839.1 693.8,842.3 694.3,846.1 694.8,850.3 695.2,854.3 695.4,856.7 695.6,859.3 695.8,862.1 695.9,865.1 696.0,868.3 696.2,871.6 696.3,874.9 696.4,878.4 696.5,881.9 696.6,885.3 696.7,888.7 696.8,892.1 696.9,895.3 697.0,898.4 697.2,901.4 697.3,904.1 697.5,906.6 697.7,908.8 698.1,912.9 698.5,916.9 699.0,920.4 699.5,922.9 700.1,923.8 700.7,923.1 701.3,921.1 702.1,918.1 702.8,914.3 703.6,910.2 704.4,905.9 705.2,901.7 706.0,898.0 706.6,895.1 707.3,892.2 708.0,889.2 708.7,886.2 709.4,883.1 710.1,880.0 710.8,877.0 711.5,873.9 712.1,870.9 712.8,867.9 713.4,865.0 714.1,861.8 714.7,858.8 715.4,855.7 716.0,852.7 716.6,849.7 717.2,846.7 717.8,843.7 718.3,840.6 718.9,837.4 719.4,834.5 719.8,831.5 720.3,828.5 720.7,825.5 721.1,822.4 721.5,819.3 721.9,816.2 722.3,813.2 722.7,810.2 723.1,807.2 723.5,804.3 723.9,801.1 724.4,798.0 724.8,794.9 725.2,791.9 725.6,788.9 726.1,785.9 726.4,782.9 726.8,779.8 727.2,776.8 727.6,773.7 727.9,770.4 728.3,767.1 728.6,763.7 728.9,760.5 729.2,757.3 729.5,754.3 729.8,751.6 730.0,749.2 730.3,745.9 730.5,743.1 730.8,740.0 731.0,737.3 731.2,734.5 731.5,731.5 731.7,728.2 731.9,724.4 732.2,720.0 732.3,718.2 732.4,716.2 732.5,714.1 732.6,711.9 732.7,709.6 732.8,707.1 732.9,704.6 733.0,701.9 733.1,699.2 733.3,696.3 733.4,693.4 733.5,690.4 733.6,687.3 733.7,684.2 733.8,681.0 734.0,677.8 734.1,674.5 734.2,671.2 734.3,667.8 734.5,664.4 734.6,661.0 734.7,657.6 734.8,654.2 735.0,650.7 735.1,647.3 735.2,643.9 735.4,640.5 735.5,637.1 735.6,633.7 735.8,630.4 735.9,627.1 736.0,623.9 736.2,620.7 736.3,617.6 736.5,614.5 736.6,611.5 736.7,608.6 736.9,605.7 737.0,603.0 737.2,599.7 737.3,596.4 737.5,593.1 737.7,589.8 737.9,586.5 738.0,583.2 738.2,580.0 738.4,576.7 738.6,573.5 738.8,570.3 739.0,567.2 739.1,564.1 739.3,561.0 739.5,557.9 739.7,554.9 739.9,551.9 740.1,548.9 740.3,546.0 740.5,543.1 740.7,540.3 740.8,537.5 741.0,534.8 741.2,532.1 741.4,529.5 741.6,526.9 741.8,524.4 742.1,520.5 742.4,516.4 742.7,512.1 742.9,507.9 743.2,503.7 743.5,499.8 743.8,496.1 744.1,492.9 744.4,490.2 744.7,488.1 745.0,486.8 745.3,486.3 745.9,487.6 746.5,490.8 747.2,495.3 747.7,500.0 747.9,502.1 748.1,504.5 748.3,507.0 748.5,509.7 748.6,512.5 748.8,515.5 748.9,518.5 749.1,521.7 749.2,525.0 749.3,528.3 749.4,531.7 749.5,535.1 749.6,538.5 749.7,542.0 749.8,545.4 749.9,548.8 750.0,552.2 750.1,555.5 750.2,558.4 750.3,561.4 750.3,564.4 750.4,567.4 750.5,570.4 750.5,573.5 750.6,576.6 750.6,579.7 750.7,582.8 750.7,585.9 750.8,589.1 750.8,592.2 750.9,595.4 750.9,598.5 750.9,601.7 751.0,604.9 751.0,608.1 751.1,611.2 751.1,614.4 751.2,617.6 751.2,620.7 751.2,623.9 751.3,627.0 751.3,630.0 751.4,633.1 751.4,636.2 751.5,639.4 751.5,642.5 751.5,645.7 751.6,648.9 751.6,652.1 751.6,655.3 751.7,658.5 751.7,661.6 751.8,664.8 751.8,668.0 751.8,671.1 751.9,674.2 751.9,677.3 752.0,680.3 752.0,683.3 752.1,686.2 752.2,689.1 752.2,691.9 752.3,694.7 752.4,697.4 752.5,700.0 752.6,703.5 752.8,706.8 753.0,710.1 753.1,713.2 753.3,716.3 753.5,719.3 753.7,722.2 753.9,725.2 754.1,728.1 754.3,731.0 754.5,734.0 754.7,737.0 754.9,740.0 755.1,743.0 755.3,746.0 755.5,749.0 755.8,752.0 756.0,755.0 756.2,758.0 756.4,761.0 756.7,764.0 756.9,767.0 757.1,770.1 757.4,773.2 757.6,776.3 757.8,779.5 758.0,782.4 758.2,785.4 758.4,788.4 758.6,791.4 758.8,794.5 758.9,797.6 759.1,800.7 759.3,803.8 759.5,806.9 759.7,810.1 759.9,813.2 760.1,816.3 760.2,819.5 760.4,822.6 760.6,825.7 760.8,828.8 761.0,831.9 761.2,835.0 761.3,838.1 761.5,841.1 761.7,844.2 761.9,847.3 762.1,850.4 762.2,853.5 762.4,856.6 762.6,859.7 762.8,862.8 763.0,865.9 763.2,868.9 763.3,872.0 763.5,875.1 763.7,878.2 763.9,881.3 764.1,884.5 764.2,887.7 764.4,891.0 764.6,894.3 764.7,897.6 764.9,900.9 765.1,904.2 765.2,907.4 765.4,910.6 765.6,913.7 765.8,916.7 766.0,919.6 766.2,922.4 766.5,925.0 766.7,927.5 767.1,931.9 767.5,936.6 768.0,940.9 768.5,944.6 769.0,947.2 769.7,948.2 771.3,945.2 773.0,940.0 774.3,936.9 775.7,933.6 777.0,929.9 777.7,927.2 778.2,924.2 778.8,921.0 779.3,917.7 779.8,914.4 780.3,911.1 780.9,908.0 781.6,904.8 782.3,901.6 783.1,898.4 783.8,895.3 784.7,892.3 785.6,889.3 786.7,886.1 787.9,882.9 789.2,879.8 790.5,876.7 791.8,873.8 793.3,870.6 794.9,867.5 796.5,864.4 798.0,861.3 799.5,858.2 800.9,855.1 802.3,852.0 803.5,848.8 804.5,845.4 805.3,841.8 806.0,838.3 806.6,834.8 807.1,831.8 807.5,828.9 807.9,825.8 808.2,822.3 808.4,819.8 808.6,817.0 808.7,814.0 808.9,810.9 809.0,807.6 809.2,804.3 809.3,801.0 809.4,797.6 809.6,794.4 809.7,791.2 809.9,788.1 810.0,785.1 810.2,782.1 810.3,779.1 810.5,776.1 810.6,773.0 810.8,769.9 811.0,766.7 811.1,763.4 811.3,760.0 811.4,757.0 811.6,753.6 811.7,749.9 811.9,745.9 812.0,741.8 812.2,737.6 812.3,733.4 812.5,729.3 812.6,725.4 812.8,721.7 813.0,718.4 813.1,715.5 813.3,713.1 813.5,711.3 813.7,710.1 813.9,709.7 814.2,710.3 814.6,712.2 814.9,714.9 815.3,718.4 815.6,722.3 816.0,726.6 816.3,730.9 816.6,735.0 816.7,737.4 816.9,740.0 817.0,742.7 817.1,745.6 817.2,748.6 817.3,751.7 817.4,754.9 817.4,758.1 817.5,761.5 817.6,764.8 817.6,768.3 817.7,771.7 817.7,775.1 817.8,778.6 817.8,782.0 817.9,785.4 817.9,788.7 818.0,792.0 818.0,795.2 818.1,798.2 818.1,801.2 818.2,804.1 818.3,806.8 818.4,810.5 818.5,814.1 818.6,817.5 818.8,820.9 818.9,824.2 819.0,827.5 819.1,830.6 819.3,833.7 819.4,836.8 819.6,839.8 819.7,842.8 819.9,845.7 820.1,849.6 820.4,853.9 820.6,858.3 820.9,862.6 821.2,866.4 821.5,869.4 821.8,871.4 822.2,872.2 822.6,871.4 823.1,869.4 823.6,866.3 824.1,862.4 824.6,858.1 825.2,853.7 825.6,849.5 826.1,845.7 826.5,842.7 826.8,839.7 827.1,836.7 827.4,833.7 827.7,830.6 828.0,827.5 828.3,824.4 828.6,821.1 828.9,817.9 829.2,814.5 829.5,811.8 829.8,809.0 830.1,806.2 830.4,803.4 830.7,800.6 831.0,797.7 831.4,794.8 831.7,791.8 832.0,788.8 832.3,785.8 832.7,782.6 833.0,779.5 833.3,776.2 833.6,772.9 833.9,769.5 834.1,766.8 834.3,764.1 834.6,761.3 834.8,758.4 835.0,755.4 835.2,752.4 835.4,749.3 835.6,746.2 835.9,743.1 836.1,739.9 836.3,736.7 836.5,733.5 836.7,730.3 836.9,727.1 837.1,723.8 837.3,720.6 837.5,717.4 837.7,714.1 837.9,711.0 838.1,707.8 838.3,704.7 838.4,701.6 838.6,698.5 838.8,695.5 839.0,692.6 839.2,689.7 839.4,686.2 839.6,682.5 839.8,678.5 840.0,674.5 840.3,670.3 840.5,666.1 840.7,662.0 840.9,657.8 841.1,653.8 841.2,649.9 841.4,646.3 841.6,642.9 841.8,639.7 842.0,637.0 842.2,634.6 842.4,632.7 842.6,631.2 842.8,630.3 843.0,630.0 843.3,630.5 843.5,631.9 843.8,634.2 844.0,637.0 844.3,640.4 844.5,644.1 844.8,648.0 845.0,652.1 845.3,656.0 845.5,659.8 845.8,663.2 846.0,666.3 846.2,669.7 846.5,673.5 846.7,677.4 846.9,681.5 847.1,685.5 847.3,689.4 847.5,693.1 847.8,696.6 848.0,699.6 848.2,702.1 848.5,704.0 848.7,705.3 849.0,705.7 849.4,705.1 849.8,703.3 850.2,700.6 850.6,697.1 851.0,693.2 851.4,688.9 851.8,684.6 852.2,680.4 852.5,676.5 852.7,673.7 852.9,670.9 853.1,667.9 853.2,664.9 853.4,661.9 853.5,658.8 853.6,655.7 853.7,652.5 853.8,649.3 853.9,646.1 854.0,642.9 854.1,639.6 854.2,636.4 854.4,633.2 854.5,630.0 854.6,627.0 854.8,624.1 854.9,621.1 855.0,618.1 855.1,615.1 855.3,612.1 855.4,609.0 855.5,606.0 855.6,602.9 855.8,599.9 855.9,596.8 856.0,593.8 856.2,590.7 856.3,587.6 856.4,584.6 856.6,581.5 856.7,578.4 856.8,575.4 857.0,572.4 857.1,569.4 857.3,566.4 857.4,563.5 857.6,560.5 857.7,557.5 857.9,554.5 858.0,551.5 858.2,548.5 858.3,545.4 858.5,542.4 858.7,539.3 858.8,536.2 859.0,533.0 859.1,529.9 859.3,526.7 859.4,523.4 859.5,520.5 859.7,517.7 859.8,514.8 859.9,511.8 860.0,508.9 860.2,505.9 860.3,502.9 860.4,499.9 860.5,496.8 860.7,493.8 860.8,490.7 860.9,487.6 861.0,484.5 861.2,481.4 861.3,478.3 861.4,475.2 861.5,472.1 861.6,468.9 861.7,465.8 861.8,462.6 861.9,459.5 862.0,456.3 862.1,453.2 862.2,450.0 862.3,447.0 862.3,444.0 862.4,440.9 862.5,437.8 862.5,434.6 862.6,431.4 862.6,428.3 862.7,425.1 862.7,421.8 862.7,418.6 862.8,415.4 862.8,412.2 862.8,409.0 862.9,405.8 862.9,402.6 862.9,399.4 863.0,396.2 863.0,393.1 863.1,390.0 863.1,387.0 863.1,384.0 863.2,381.0 863.2,378.1 863.3,375.2 863.4,372.4 863.4,369.7 863.5,367.0 863.6,363.5 863.7,360.1 863.8,356.8 864.0,353.7 864.1,350.6 864.2,347.5 864.4,344.5 864.5,341.6 864.7,338.6 864.8,335.6 864.9,332.6 865.1,329.6 865.2,326.5 865.4,323.3 865.5,320.0 865.6,317.0 865.7,313.7 865.8,310.2 866.0,306.5 866.1,302.6 866.2,298.6 866.3,294.6 866.4,290.5 866.5,286.6 866.6,282.7 866.8,278.9 866.9,275.4 867.0,272.0 867.1,269.0 867.2,266.3 867.3,264.0 867.4,262.1 867.6,260.7 867.7,259.8 867.8,259.5 868.0,260.1 868.2,261.9 868.4,264.6 868.6,268.0 868.8,272.0 869.0,276.2 869.2,280.6 869.3,285.0 869.5,289.0 869.6,291.6 869.7,294.3 869.8,297.1 869.8,300.0 869.9,302.9 870.0,305.9 870.0,309.0 870.1,312.1 870.1,315.3 870.2,318.5 870.2,321.7 870.3,325.0 870.3,328.2 870.4,331.5 870.4,334.8 870.5,338.1 870.5,341.4 870.5,344.7 870.6,348.0 870.6,350.9 870.7,353.7 870.7,356.6 870.8,359.5 870.8,362.4 870.9,365.4 870.9,368.3 871.0,371.2 871.0,374.2 871.0,377.2 871.1,380.2 871.1,383.2 871.2,386.2 871.2,389.2 871.3,392.2 871.3,395.3 871.3,398.3 871.4,401.4 871.4,404.5 871.5,407.6 871.5,410.7 871.5,413.8 871.6,416.9 871.6,420.0 871.6,422.9 871.7,425.9 871.7,428.8 871.7,431.8 871.7,434.8 871.8,437.9 871.8,440.9 871.8,444.0 871.8,447.0 871.9,450.1 871.9,453.2 871.9,456.3 871.9,459.4 872.0,462.4 872.0,465.5 872.0,468.6 872.0,471.7 872.0,474.8 872.1,477.9 872.1,481.0 872.1,484.0 872.1,487.1 872.2,490.1 872.2,493.1 872.2,496.1 872.2,499.1 872.3,502.1 872.3,505.0 872.3,508.2 872.4,511.3 872.4,514.4 872.4,517.4 872.5,520.4 872.5,523.4 872.5,526.4 872.6,529.4 872.6,532.4 872.6,535.4 872.7,538.3 872.7,541.3 872.8,544.3 872.8,547.2 872.8,550.2 872.9,553.3 872.9,556.3 873.0,559.3 873.0,562.4 873.0,565.5 873.1,568.7 873.1,571.9 873.2,575.1 873.2,578.4 873.2,581.3 873.3,584.2 873.3,587.2 873.3,590.2 873.4,593.3 873.4,596.5 873.4,599.7 873.5,602.9 873.5,606.2 873.5,609.5 873.6,612.8 873.6,616.1 873.6,619.4 873.7,622.8 873.7,626.1 873.7,629.4 873.8,632.7 873.8,636.0 873.8,639.3 873.9,642.6 873.9,645.8 874.0,649.0 874.0,652.1 874.0,655.2 874.1,658.2 874.1,661.2 874.2,664.1 874.2,667.0 874.3,669.8 874.3,672.4 874.4,675.1 874.4,677.6 874.5,680.0 874.6,683.9 874.7,688.0 874.8,692.1 874.9,696.3 875.1,700.4 875.2,704.3 875.3,707.9 875.4,711.3 875.5,714.2 875.7,716.6 875.8,718.4 875.9,719.6 876.0,720.0 876.1,719.7 876.2,719.0 876.2,717.8 876.3,716.2 876.4,714.3 876.4,711.9 876.5,709.3 876.6,706.4 876.6,703.2 876.7,699.8 876.8,696.2 876.8,692.4 876.9,688.5 877.0,684.6 877.0,680.5 877.1,676.5 877.1,672.4 877.2,668.4 877.3,664.4 877.3,660.6 877.4,656.9 877.4,653.3 877.5,650.0 877.6,647.2 877.6,644.3 877.7,641.5 877.7,638.6 877.8,635.7 877.8,632.8 877.9,629.9 877.9,626.9 878.0,624.0 878.0,621.0 878.1,618.0 878.1,615.0 878.2,612.0 878.2,609.0 878.3,606.0 878.3,603.0 878.4,599.9 878.4,596.9 878.5,593.8 878.5,590.8 878.6,587.7 878.6,584.6 878.7,581.6 878.7,578.5 878.8,575.4 878.8,572.3 878.9,569.2 878.9,566.2 879.0,563.1 879.0,560.0 879.0,557.0 879.1,554.0 879.1,551.0 879.2,548.0 879.2,544.9 879.3,541.8 879.3,538.7 879.4,535.6 879.4,532.4 879.5,529.3 879.5,526.2 879.6,523.0 879.6,519.8 879.6,516.7 879.7,513.5 879.7,510.4 879.8,507.2 879.8,504.1 879.9,501.0 879.9,497.9 880.0,494.8 880.0,491.7 880.0,488.7 880.1,485.7 880.1,482.7 880.2,479.7 880.2,476.8 880.3,473.9 880.3,471.0 880.4,468.2 880.4,465.4 880.5,462.7 880.5,460.0 880.6,456.6 880.6,453.2 880.7,449.9 880.7,446.6 880.8,443.4 880.8,440.2 880.9,437.0 880.9,433.9 881.0,430.8 881.1,427.7 881.1,424.7 881.2,421.7 881.2,418.7 881.3,415.8 881.4,412.9 881.4,410.0 881.5,407.1 881.6,404.3 881.6,401.5 881.7,398.7 881.8,395.4 881.9,392.2 882.0,389.1 882.1,386.0 882.2,383.0 882.3,379.9 882.4,377.0 882.5,374.0 882.6,371.1 882.7,368.2 882.8,365.3 882.9,362.3 883.1,359.4 883.2,356.5 883.4,353.0 883.5,349.2 883.7,345.1 883.8,340.9 884.0,336.7 884.2,332.6 884.4,328.8 884.5,325.5 884.7,322.6 884.9,320.4 885.1,319.0 885.3,318.5 885.6,319.3 885.8,321.3 886.1,324.4 886.4,328.3 886.7,332.5 886.9,336.9 887.2,341.2 887.4,345.0 887.6,348.1 887.7,351.1 887.8,354.2 887.9,357.3 888.1,360.4 888.1,363.6 888.2,366.9 888.3,370.3 888.4,373.9 888.5,377.6 888.6,380.1 888.6,382.7 888.7,385.4 888.7,388.0 888.8,390.7 888.8,393.5 888.9,396.3 889.0,399.2 889.0,402.1 889.1,405.0 889.1,408.1 889.1,411.1 889.2,414.2 889.2,417.4 889.3,420.6 889.3,423.8 889.4,427.1 889.4,430.4 889.4,433.8 889.5,437.3 889.5,440.8 889.5,443.3 889.5,445.9 889.6,448.6 889.6,451.3 889.6,454.0 889.6,456.8 889.6,459.7 889.6,462.6 889.6,465.5 889.6,468.5 889.6,471.5 889.6,474.6 889.6,477.6 889.6,480.7 889.7,483.9 889.7,487.0 889.7,490.2 889.7,493.4 889.7,496.6 889.7,499.8 889.7,503.0 889.6,506.2 889.6,509.5 889.6,512.7 889.6,515.9 889.6,519.1 889.7,522.3 889.7,525.5 889.7,528.7 889.7,531.9 889.7,535.0 889.7,538.1 889.7,541.2 889.7,544.3 889.7,547.3 889.7,550.3 889.7,553.3 889.7,556.2 889.7,559.1 889.8,561.9 889.8,564.7 889.8,567.4 889.8,570.8 889.9,574.2 889.9,577.5 889.9,580.8 890.0,584.0 890.0,587.2 890.0,590.4 890.1,593.6 890.1,596.8 890.2,599.9 890.2,603.0 890.3,606.1 890.3,609.1 890.4,612.2 890.4,615.2 890.5,618.2 890.5,621.2 890.6,624.2 890.6,627.2 890.7,630.2 890.7,633.1 890.8,636.1 890.8,639.1 890.9,642.1 890.9,645.0 891.0,648.0 891.0,651.0 891.0,654.1 891.1,657.3 891.1,660.4 891.2,663.4 891.2,666.5 891.3,669.6 891.3,672.6 891.4,675.7 891.4,678.7 891.5,681.8 891.5,684.8 891.6,687.8 891.6,690.8 891.7,693.8 891.7,696.8 891.8,699.8 891.8,702.8 891.9,705.8 891.9,708.8 892.0,711.8 892.0,714.9 892.1,717.9 892.1,720.9 892.2,723.9 892.3,727.0 892.3,730.2 892.4,733.3 892.4,736.5 892.5,739.6 892.5,742.8 892.6,746.0 892.6,749.1 892.7,752.3 892.7,755.4 892.8,758.6 892.8,761.7 892.9,764.9 892.9,768.0 893.0,771.1 893.0,774.2 893.1,777.3 893.1,780.4 893.2,783.4 893.2,786.5 893.3,789.5 893.3,792.5 893.4,795.5 893.5,798.8 893.5,802.0 893.6,805.3 893.6,808.5 893.7,811.7 893.8,814.9 893.8,818.1 893.9,821.3 894.0,824.4 894.0,827.6 894.1,830.7 894.1,833.8 894.2,836.9 894.3,839.9 894.3,843.0 894.4,846.0 894.5,849.0 894.5,852.0 894.6,855.0 894.7,858.4 894.7,861.7 894.8,865.0 894.9,868.3 895.0,871.6 895.0,874.9 895.1,878.1 895.2,881.3 895.2,884.5 895.3,887.6 895.4,890.8 895.5,893.9 895.6,896.9 895.7,899.9 895.8,902.9 895.9,906.4 896.1,910.0 896.2,913.7 896.4,917.3 896.5,920.8 896.7,924.3 896.8,927.6 897.0,930.7 897.2,933.7 897.5,936.3 897.7,938.7 898.2,943.0 898.8,946.7 899.4,948.2 899.9,947.3 900.5,945.0 901.1,941.6 901.8,937.5 902.4,933.2 903.0,929.0 903.3,926.5 903.7,923.9 904.0,921.1 904.3,918.1 904.6,915.1 904.9,911.9 905.2,908.7 905.5,905.4 905.8,902.1 906.1,898.7 906.4,895.3 906.6,892.0 906.9,888.6 907.2,885.4 907.4,882.1 907.7,879.0 908.0,875.8 908.2,872.6 908.5,869.4 908.7,866.2 909.0,863.0 909.2,859.8 909.4,856.7 909.7,853.5 909.9,850.3 910.1,847.2 910.4,844.0 910.6,840.8 910.8,837.7 911.1,834.5 911.3,831.3 911.5,828.1 911.8,824.9 912.0,821.7 912.3,818.6 912.5,815.4 912.7,812.2 913.0,809.0 913.2,805.8 913.5,802.6 913.7,799.4 913.9,796.2 914.2,793.1 914.4,789.9 914.7,786.7 914.9,783.5 915.1,780.3 915.4,777.1 915.6,773.8 915.8,770.5 916.0,767.2 916.3,763.9 916.5,760.6 916.7,757.4 917.0,754.1 917.2,750.9 917.4,747.8 917.7,744.7 917.9,741.6 918.2,738.7 918.5,735.8 918.9,732.5 919.3,729.3 919.7,726.3 920.1,723.4 920.6,720.5 921.0,717.6 921.4,714.7 921.8,711.6 922.2,708.4 922.5,705.0 922.7,702.4 922.9,699.7 923.0,697.0 923.2,694.2 923.3,691.3 923.4,688.4 923.5,685.5 923.6,682.5 923.7,679.4 923.8,676.4 923.8,673.3 923.9,670.1 924.0,667.0 924.0,663.8 924.1,660.6 924.2,657.4 924.3,654.2 924.4,651.0 924.5,648.1 924.6,645.1 924.7,642.1 924.8,639.1 924.9,636.1 925.0,633.0 925.1,629.9 925.2,626.8 925.3,623.7 925.4,620.5 925.5,617.4 925.6,614.2 925.7,611.0 925.9,607.8 926.0,604.6 926.1,601.4 926.2,598.3 926.3,595.1 926.4,591.9 926.5,588.7 926.6,585.6 926.7,582.4 926.8,579.3 926.9,576.2 927.0,573.0 927.1,569.9 927.2,566.7 927.3,563.5 927.4,560.3 927.5,557.0 927.6,553.8 927.7,550.6 927.8,547.4 928.0,544.2 928.1,541.0 928.2,537.8 928.3,534.7 928.4,531.5 928.5,528.4 928.6,525.3 928.7,522.3 928.8,519.3 928.9,516.3 929.0,513.4 929.1,510.5 929.2,507.7 929.3,504.3 929.5,501.0 929.6,497.9 929.7,494.9 929.8,491.9 930.0,489.0 930.1,486.1 930.2,483.1 930.3,480.2 930.5,477.2 930.6,474.0 930.7,470.8 930.8,467.4 931.0,463.8 931.1,460.0 931.2,457.6 931.3,455.2 931.3,452.6 931.4,450.0 931.5,447.3 931.5,444.5 931.6,441.6 931.7,438.7 931.7,435.7 931.8,432.7 931.9,429.6 932.0,426.5 932.0,423.3 932.1,420.1 932.2,416.9 932.2,413.7 932.3,410.4 932.4,407.1 932.4,403.8 932.5,400.5 932.6,397.1 932.6,393.8 932.7,390.5 932.8,387.2 932.9,383.9 932.9,380.6 933.0,377.4 933.1,374.1 933.2,371.0 933.3,367.8 933.4,364.7 933.4,361.6 933.5,358.6 933.6,355.6 933.7,352.7 933.8,349.9 933.9,347.1 934.0,344.4 934.1,341.8 934.2,339.3 934.4,335.7 934.5,332.1 934.7,328.6 934.9,325.2 935.1,321.9 935.3,318.6 935.5,315.4 935.7,312.2 935.9,309.1 936.1,306.0 936.3,303.0 936.5,300.0 936.7,297.0 936.8,294.1 937.0,291.2 937.2,288.3 937.4,285.4 937.5,282.6 937.7,279.7 937.9,276.0 938.0,272.0 938.2,267.8 938.3,263.6 938.5,259.3 938.6,255.1 938.7,251.2 938.8,247.6 939.0,244.4 939.1,241.7 939.3,239.7 939.4,238.4 939.6,237.9 939.8,238.2 939.9,239.2 940.1,240.8 940.3,243.0 940.6,245.6 940.8,248.6 941.0,252.0 941.2,255.6 941.4,259.5 941.6,263.6 941.9,267.7 942.1,272.0 942.3,276.2 942.5,280.3 942.7,284.3 942.8,288.1 943.0,291.6 943.1,294.5 943.2,297.4 943.4,300.4 943.5,303.4 943.6,306.4 943.7,309.5 943.7,312.5 943.8,315.6 943.9,318.8 944.0,321.9 944.1,325.0 944.1,328.2 944.2,331.3 944.3,334.5 944.4,337.7 944.4,340.9 944.5,344.1 944.6,347.3 944.6,350.5 944.7,353.7 944.8,356.8 944.8,360.0 944.9,363.2 945.0,366.2 945.0,369.3 945.1,372.4 945.2,375.6 945.3,378.8 945.3,382.0 945.4,385.2 945.5,388.4 945.5,391.7 945.6,394.9 945.7,398.2 945.7,401.4 945.8,404.6 945.9,407.8 945.9,410.9 946.0,414.1 946.0,417.2 946.1,420.2 946.2,423.2 946.2,426.2 946.3,429.1 946.3,431.9 946.4,434.7 946.4,437.4 946.5,440.0 946.6,443.5 946.6,446.7 946.7,449.9 946.8,452.8 946.8,455.8 946.9,458.6 947.0,461.4 947.0,464.3 947.1,467.2 947.1,470.2 947.2,473.3 947.2,476.5 947.3,480.0 947.3,482.6 947.4,485.2 947.4,488.0 947.5,490.8 947.5,493.6 947.5,496.5 947.6,499.5 947.6,502.5 947.7,505.5 947.7,508.6 947.7,511.7 947.8,514.8 947.8,518.0 947.8,521.1 947.9,524.3 947.9,527.5 948.0,530.7 948.0,533.8 948.0,537.0 948.1,540.2 948.1,543.3 948.2,546.4 948.2,549.5 948.3,552.5 948.3,555.5 948.3,558.6 948.4,561.8 948.4,564.9 948.5,568.0 948.5,571.2 948.6,574.3 948.6,577.4 948.7,580.5 948.8,583.6 948.8,586.7 948.9,589.8 948.9,592.9 949.0,596.0 949.0,599.1 949.1,602.2 949.1,605.2 949.2,608.3 949.2,611.4 949.3,614.5 949.3,617.7 949.4,620.8 949.4,623.9 949.5,627.0 949.5,630.0 949.6,633.1 949.6,636.2 949.7,639.3 949.7,642.4 949.8,645.6 949.8,648.7 949.9,651.9 949.9,655.0 950.0,658.1 950.0,661.3 950.1,664.4 950.1,667.5 950.2,670.6 950.2,673.7 950.3,676.8 950.3,679.8 950.4,682.8 950.4,685.8 950.5,688.7 950.5,691.6 950.6,694.5 950.6,697.3 950.7,700.0 950.8,703.4 950.8,706.7 950.9,709.9 951.0,713.0 951.1,716.0 951.1,719.0 951.2,722.0 951.3,724.9 951.4,727.9 951.5,731.0 951.5,734.1 951.6,737.3 951.7,740.6 951.8,744.1 951.9,747.7 952.0,750.3 952.0,753.0 952.1,755.8 952.2,758.7 952.2,761.6 952.3,764.6 952.4,767.7 952.4,770.8 952.5,774.0 952.6,777.2 952.6,780.5 952.7,783.8 952.8,787.1 952.9,790.4 952.9,793.8 953.0,797.1 953.1,800.5 953.2,803.8 953.2,807.1 953.3,810.4 953.4,813.7 953.5,816.9 953.6,820.1 953.7,823.2 953.8,826.3 953.8,829.3 953.9,832.2 954.0,835.1 954.1,837.9 954.2,840.6 954.3,843.2 954.4,846.9 954.6,850.4 954.7,853.9 954.9,857.2 955.0,860.4 955.2,863.6 955.3,866.7 955.5,869.8 955.6,872.9 955.8,875.9 955.9,878.9 956.1,881.9 956.3,884.9 956.5,887.9 956.7,891.0 956.9,894.2 957.0,897.5 957.2,900.8 957.3,904.1 957.4,907.5 957.6,910.8 957.7,914.1 957.9,917.3 958.1,920.5 958.4,923.5 958.7,926.3 959.1,929.1 959.6,931.6 960.2,933.9 961.2,937.5 962.2,940.8 963.5,943.8 965.1,946.2 967.4,948.2 969.7,949.2 972.7,949.9 976.1,950.3 979.7,950.3 983.5,950.2 987.2,950.0 990.6,949.7 993.6,949.3 996.0,949.0 999.6,948.2 1002.7,947.0 1005.9,945.7 1009.3,944.1 1012.7,942.5"/>
<polyline stroke="#f00" points="1033.0,947.0 1036.2,945.0 1038.1,946.7 1040.7,949.0 1043.1,949.6 1046.4,950.0 1050.1,950.2 1053.9,950.2 1057.6,950.0 1060.7,949.6 1063.0,949.0 1066.4,946.0 1070.0,949.0 1071.9,949.5 1074.5,949.8 1077.6,950.1 1081.1,950.2 1084.7,950.3 1088.4,950.2 1092.0,950.0 1095.2,949.8 1097.9,949.4 1100.0,949.0 1105.0,946.0 1109.7,944.0 1113.0,948.0 1116.4,949.1 1120.0,949.4 1125.0,948.4 1130.1,947.4 1132.7,944.5 1135.1,941.3 1139.2,938.8 1142.7,936.8 1143.8,934.2 1144.7,930.5 1145.4,926.4 1146.2,922.6 1147.1,919.4 1148.1,916.1 1149.1,913.1 1150.3,910.5 1152.3,908.0 1154.3,905.5 1155.2,902.6 1156.0,898.6 1156.6,894.7 1157.2,891.6 1157.8,890.4 1158.4,891.5 1158.9,894.5 1159.5,898.4 1159.9,902.7 1160.4,906.5 1160.7,909.7 1161.0,912.9 1161.3,916.3 1161.5,919.6 1161.9,922.8 1162.4,925.7 1163.2,929.0 1164.3,932.0 1165.3,934.9 1166.4,937.8 1167.3,941.2 1168.2,945.0 1169.2,948.0 1170.4,949.4 1172.0,947.9 1173.9,944.3 1175.8,940.6 1177.5,938.8 1180.5,941.3 1184.6,938.8 1186.0,941.3 1187.3,945.9 1189.6,949.4 1191.9,950.3 1194.9,950.8 1198.4,950.9 1202.2,950.8 1206.0,950.5 1209.6,950.0 1212.6,949.5 1215.0,949.0 1220.0,946.5 1225.0,949.0 1227.3,949.4 1230.2,949.6 1233.6,949.6 1237.1,949.6 1240.8,949.5 1244.3,949.3 1247.4,949.2 1250.0,949.0 1254.3,948.7 1258.0,948.0 1260.9,946.9 1263.7,945.5 1266.4,943.8 1269.1,941.9 1271.6,939.7 1274.0,937.5 1277.0,934.2 1279.7,930.6 1281.5,927.7 1283.3,924.5 1285.0,921.5 1287.4,917.9 1289.6,914.0 1290.5,911.3 1291.3,908.2 1291.9,904.9 1292.4,901.5 1293.0,898.0 1293.4,895.0 1293.8,891.9 1294.2,888.7 1294.5,885.4 1294.9,882.1 1295.2,878.6 1295.5,875.0 1295.8,872.1 1296.0,869.2 1296.2,866.2 1296.5,863.1 1296.7,859.9 1296.9,856.7 1297.1,853.5 1297.4,850.2 1297.6,846.8 1297.8,843.4 1298.0,840.0 1298.2,837.1 1298.3,834.2 1298.5,831.2 1298.7,828.1 1298.9,825.0 1299.0,821.9 1299.2,818.7 1299.3,815.6 1299.5,812.4 1299.7,809.1 1299.8,805.9 1300.0,802.7 1300.1,799.5 1300.2,796.3 1300.4,793.1 1300.5,790.0 1300.6,786.9 1300.7,783.8 1300.8,780.7 1300.9,777.6 1301.0,774.5 1301.1,771.5 1301.2,768.4 1301.3,765.3 1301.4,762.2 1301.5,759.1 1301.6,756.0 1301.7,752.8 1301.7,749.7 1301.8,746.5 1301.9,743.3 1302.0,740.0 1302.1,737.1 1302.2,734.2 1302.2,731.3 1302.3,728.4 1302.4,725.4 1302.4,722.4 1302.5,719.4 1302.6,716.4 1302.7,713.4 1302.7,710.4 1302.8,707.3 1302.9,704.3 1302.9,701.3 1303.0,698.2 1303.1,695.2 1303.2,692.1 1303.2,689.1 1303.3,686.0 1303.4,683.0 1303.5,680.0 1303.6,676.8 1303.7,673.4 1303.8,669.7 1303.9,665.9 1304.0,661.9 1304.1,657.9 1304.2,653.8 1304.3,649.8 1304.4,645.8 1304.5,641.9 1304.7,638.2 1304.8,634.6 1304.9,631.3 1305.0,628.3 1305.1,625.7 1305.2,623.4 1305.3,621.5 1305.4,620.2 1305.5,619.3 1305.6,619.0 1305.7,619.3 1305.8,620.1 1305.9,621.4 1306.0,623.1 1306.1,625.2 1306.2,627.7 1306.2,630.5 1306.3,633.7 1306.4,637.0 1306.5,640.6 1306.6,644.4 1306.7,648.2 1306.8,652.2 1306.8,656.2 1306.9,660.3 1307.0,664.3 1307.1,668.2 1307.1,672.1 1307.2,675.8 1307.2,679.3 1307.3,682.6 1307.3,685.6 1307.4,688.6 1307.4,691.6 1307.4,694.7 1307.5,697.8 1307.5,700.9 1307.5,704.1 1307.5,707.3 1307.5,710.5 1307.5,713.6 1307.5,716.8 1307.5,720.0 1307.6,723.2 1307.6,726.4 1307.6,729.6 1307.6,732.8 1307.6,735.9 1307.6,739.1 1307.6,742.2 1307.6,745.2 1307.6,748.3 1307.6,751.3 1307.6,754.2 1307.7,757.1 1307.7,760.0 1307.7,763.3 1307.8,766.6 1307.8,769.8 1307.9,773.1 1307.9,776.3 1308.0,779.4 1308.0,782.6 1308.1,785.7 1308.1,788.8 1308.2,791.8 1308.2,794.8 1308.3,797.8 1308.3,800.8 1308.4,803.7 1308.4,806.6 1308.5,809.4 1308.5,812.2 1308.6,815.0 1308.7,818.3 1308.7,821.5 1308.8,824.6 1308.9,827.6 1309.0,830.6 1309.0,833.6 1309.1,836.5 1309.2,839.4 1309.3,842.4 1309.3,845.4 1309.4,848.5 1309.5,851.7 1309.6,854.8 1309.7,858.3 1309.7,862.0 1309.8,866.0 1309.9,870.0 1310.0,874.1 1310.0,878.1 1310.1,882.0 1310.2,885.6 1310.3,888.9 1310.4,891.8 1310.5,894.2 1310.6,896.0 1310.7,897.2 1310.8,897.6 1310.9,897.3 1311.0,896.3 1311.1,894.8 1311.2,892.8 1311.3,890.3 1311.4,887.5 1311.5,884.3 1311.6,880.8 1311.7,877.1 1311.9,873.3 1312.0,869.3 1312.1,865.2 1312.2,861.2 1312.3,857.2 1312.5,853.3 1312.6,849.6 1312.7,846.1 1312.9,842.9 1313.0,840.0 1313.2,836.4 1313.4,832.5 1313.6,828.4 1313.7,824.3 1313.9,820.3 1314.1,816.4 1314.4,812.8 1314.6,809.6 1314.8,806.9 1315.0,804.8 1315.2,803.5 1315.4,803.0 1315.8,804.1 1316.2,806.9 1316.6,810.8 1316.9,815.0 1317.0,817.1 1317.2,819.4 1317.3,822.0 1317.4,824.7 1317.5,827.7 1317.5,830.8 1317.6,834.0 1317.7,837.3 1317.7,840.7 1317.8,844.1 1317.9,847.6 1317.9,851.0 1318.0,854.4 1318.0,857.7 1318.1,861.0 1318.1,864.2 1318.2,867.2 1318.3,870.0 1318.4,873.3 1318.5,876.5 1318.6,879.7 1318.7,882.7 1318.8,885.7 1318.9,888.7 1319.0,891.7 1319.1,894.6 1319.2,897.6 1319.4,900.6 1319.5,903.7 1319.6,906.8 1319.7,909.9 1319.7,913.3 1319.7,916.9 1319.6,920.7 1319.5,924.6 1319.5,928.4 1319.5,932.2 1319.5,935.7 1319.5,939.0 1319.7,942.0 1320.0,944.6 1320.3,946.7 1320.8,948.2 1321.5,949.0 1326.0,947.2 1327.9,947.0 1330.3,946.9 1333.0,946.9 1336.1,947.0 1339.3,947.1 1342.7,947.3 1346.2,947.5 1349.6,947.7 1352.9,947.9 1356.0,948.0"/>
<polyline stroke="#00f" points="105.5,938.5 105.7,935.0 105.8,931.4 106.0,927.8 106.2,924.6 106.5,922.0 107.7,917.6 108.9,914.4 110.3,911.0 112.1,908.1 114.0,904.7 114.8,902.4 115.5,899.6 116.2,896.5 116.9,893.1 117.5,889.6 118.1,886.2 118.7,883.0 119.3,880.0 119.9,876.3 120.4,872.7 120.9,869.3 121.5,866.2 122.5,863.6 124.9,860.0 127.6,858.3 129.6,859.6 131.5,862.6 133.4,866.2 134.5,868.7 135.5,871.6 136.4,874.9 137.3,878.3 138.2,881.9 139.1,885.4 140.0,888.8 141.0,892.0 142.0,895.1 143.1,898.2 144.2,901.3 145.3,904.3 146.4,907.1 147.6,909.9 148.8,912.4 150.7,916.1 152.6,919.8 154.6,922.7 156.5,924.0 159.2,922.3 161.6,918.8 162.9,916.2 163.9,913.1 164.7,909.7 165.5,906.0 166.0,903.2 166.4,900.0 166.8,896.5 167.1,892.8 167.4,889.2 167.7,885.7 168.0,882.5 168.3,879.8 168.7,877.8 170.0,874.0 173.2,875.2 173.9,874.1 174.4,871.9 174.8,869.0 175.0,865.4 175.2,861.5 175.2,857.3 175.3,853.2 175.5,849.2 175.7,845.7 176.0,842.2 176.3,838.3 176.5,834.2 176.8,830.0 177.1,826.1 177.4,822.7 177.7,820.0 177.9,818.2 178.2,817.5 178.5,818.3 178.8,820.3 179.0,823.4 179.3,827.2 179.5,831.5 179.8,835.8 180.0,840.0 180.1,842.4 180.2,844.9 180.4,847.6 180.5,850.3 180.6,853.3 180.7,856.3 180.8,859.3 180.9,862.5 181.0,865.7 181.0,869.0 181.1,872.2 181.2,875.5 181.3,878.7 181.4,882.0 181.5,885.2 181.6,888.3 181.7,891.4 181.8,894.4 181.9,897.2 182.0,900.0 182.1,903.4 182.3,906.9 182.4,910.4 182.5,913.9 182.6,917.3 182.7,920.7 182.8,924.0 183.0,927.1 183.1,930.1 183.3,933.0 183.5,935.6 183.7,937.9 184.0,940.0 184.3,945.1 186.0,948.5 187.7,949.3 190.3,949.8 193.4,950.0 196.9,950.0 200.6,949.7 204.4,949.2 208.0,948.4 211.4,947.4 214.2,946.2 216.3,944.7 217.9,942.3 219.0,938.9 219.7,935.0 220.0,930.8 220.2,926.9 220.4,923.6 220.7,921.4 221.3,920.5 221.9,921.3 222.4,923.6 222.9,927.0 223.4,931.1 224.0,935.5 224.7,939.8 225.7,943.7 226.9,946.8 228.4,948.7 231.2,949.8 234.6,950.1 238.2,949.7 241.6,948.5 244.5,946.7 245.9,944.9 247.1,942.2 248.1,938.9 248.9,935.2 249.7,931.1 250.3,927.0 250.8,923.0 251.4,919.4 251.9,916.1 252.4,913.6 253.0,912.0 253.6,911.4 254.3,912.2 255.0,914.2 255.6,917.3 256.2,921.1 256.9,925.3 257.5,929.7 258.1,933.9 258.7,937.7 259.3,940.8 260.0,942.9 260.7,943.7 261.9,942.7 263.1,939.9 264.3,936.0 265.5,931.7 266.7,927.6 267.5,924.5 268.2,920.8 268.9,916.8 269.6,912.6 270.3,908.6 271.0,905.1 271.8,902.2 272.5,900.2 273.3,899.5 274.3,900.8 275.4,904.2 276.6,908.5 277.7,912.9 278.8,916.3 279.9,917.7 281.2,916.4 282.5,913.3 283.7,909.2 284.9,905.3 285.8,902.3 286.7,899.1 287.5,895.8 288.3,892.4 289.1,888.9 289.8,885.5 290.4,882.5 290.9,879.5 291.4,876.4 291.8,873.4 292.3,870.3 292.7,867.2 293.1,864.0 293.5,861.0 293.8,857.9 294.2,854.8 294.5,851.7 294.8,848.6 295.1,845.4 295.3,842.3 295.6,839.2 295.8,836.1 296.1,832.9 296.3,829.8 296.5,826.6 296.7,823.5 296.9,820.4 297.1,817.4 297.3,814.4 297.6,811.0 297.8,807.7 298.1,804.5 298.4,801.3 298.7,798.0 298.9,794.5 299.1,791.4 299.3,788.2 299.5,784.9 299.7,781.6 299.9,778.2 300.0,774.8 300.2,771.5 300.3,768.1 300.4,765.1 300.5,762.2 300.6,759.3 300.6,756.4 300.7,753.4 300.7,750.3 300.8,747.1 300.8,743.7 300.9,740.0 300.9,737.6 301.0,735.1 301.0,732.6 301.0,729.9 301.0,727.2 301.1,724.5 301.1,721.6 301.1,718.7 301.1,715.7 301.1,712.7 301.2,709.6 301.2,706.5 301.2,703.4 301.2,700.2 301.2,697.0 301.3,693.8 301.3,690.6 301.3,687.3 301.3,684.0 301.4,680.8 301.4,677.5 301.5,674.2 301.5,671.0 301.5,668.1 301.6,665.2 301.6,662.3 301.7,659.3 301.7,656.3 301.8,653.2 301.8,650.1 301.9,647.0 302.0,643.9 302.0,640.7 302.1,637.6 302.1,634.4 302.2,631.2 302.3,628.0 302.3,624.8 302.4,621.5 302.5,618.3 302.5,615.1 302.6,611.9 302.7,608.8 302.7,605.6 302.8,602.5 302.9,599.3 302.9,596.2 303.0,593.2 303.1,590.1 303.1,587.1 303.2,584.2 303.3,581.3 303.3,578.4 303.4,575.6 303.5,572.2 303.6,568.8 303.6,565.4 303.7,562.0 303.8,558.6 303.9,555.2 303.9,551.8 304.0,548.5 304.1,545.2 304.2,542.0 304.2,538.8 304.3,535.6 304.4,532.5 304.5,529.5 304.6,526.5 304.6,523.5 304.7,520.7 304.8,517.9 304.9,515.2 304.9,512.5 305.0,510.0 305.1,505.9 305.2,501.7 305.3,497.3 305.4,493.1 305.5,489.3 305.6,485.9 305.8,483.3 305.9,481.6 306.0,481.0 306.1,481.4 306.2,482.6 306.3,484.5 306.4,487.0 306.5,490.0 306.7,493.4 306.8,497.1 306.9,500.9 307.0,504.9 307.1,508.9 307.3,512.8 307.4,516.6 307.5,520.0 307.6,522.8 307.7,525.7 307.8,528.5 307.9,531.4 308.0,534.3 308.1,537.3 308.3,540.2 308.4,543.2 308.5,546.3 308.6,549.3 308.7,552.4 308.8,555.6 308.9,558.8 309.0,562.1 309.1,565.4 309.2,568.7 309.3,572.1 309.4,575.6 309.5,578.3 309.5,581.1 309.6,583.9 309.7,586.8 309.7,589.7 309.8,592.7 309.8,595.7 309.9,598.8 309.9,601.9 310.0,605.0 310.0,608.2 310.1,611.4 310.1,614.6 310.2,617.8 310.2,621.0 310.3,624.3 310.3,627.5 310.3,630.8 310.4,634.0 310.4,637.2 310.5,640.5 310.5,643.7 310.6,646.8 310.7,650.0 310.7,653.1 310.8,656.2 310.8,659.3 310.9,662.3 311.0,665.2 311.0,668.1 311.1,671.0 311.2,674.2 311.3,677.5 311.4,680.7 311.5,683.8 311.6,687.0 311.7,690.1 311.8,693.3 311.9,696.4 312.0,699.5 312.1,702.5 312.2,705.6 312.3,708.6 312.4,711.6 312.5,714.5 312.7,717.5 312.8,720.4 312.9,723.3 313.0,726.1 313.1,729.0 313.2,731.8 313.3,734.5 313.4,737.3 313.5,740.0 313.6,743.3 313.7,746.4 313.8,749.4 313.9,752.4 314.1,755.2 314.2,758.0 314.3,760.8 314.4,763.6 314.5,766.5 314.6,769.4 314.7,772.4 314.8,775.6 314.9,778.8 315.1,782.3 315.2,786.0 315.3,788.4 315.4,790.8 315.5,793.4 315.6,796.1 315.7,798.9 315.7,801.8 315.8,804.7 315.9,807.8 316.1,810.9 316.2,814.0 316.3,817.3 316.4,820.5 316.5,823.8 316.6,827.2 316.7,830.6 316.8,834.0 316.9,837.4 317.0,840.9 317.2,844.3 317.3,847.8 317.4,851.2 317.5,854.6 317.6,858.1 317.7,861.4 317.9,864.8 318.0,868.1 318.1,871.4 318.2,874.6 318.3,877.8 318.4,880.9 318.6,883.9 318.7,886.9 318.8,889.7 318.9,892.5 319.0,895.2 319.1,897.8 319.3,900.3 319.4,902.6 319.5,904.9 319.6,907.0 319.8,911.3 320.0,915.7 320.2,920.1 320.4,924.3 320.5,928.3 320.7,931.8 321.0,934.7 321.2,937.0 321.5,938.5 321.9,939.0 322.4,938.4 323.0,936.5 323.7,933.7 324.3,930.3 325.0,926.3 325.7,922.1 326.3,918.0 326.6,915.9 326.9,913.7 327.1,911.4 327.4,908.9 327.7,906.3 327.9,903.6 328.2,900.8 328.4,897.8 328.7,894.8 328.9,891.8 329.2,888.6 329.4,885.4 329.6,882.1 329.9,878.8 330.1,875.5 330.3,872.1 330.5,868.8 330.7,865.4 330.9,862.0 331.2,858.6 331.4,855.2 331.6,851.9 331.8,848.6 332.0,845.3 332.2,842.1 332.3,839.0 332.5,835.9 332.7,832.9 332.9,830.0 333.1,826.8 333.3,823.6 333.5,820.3 333.7,817.1 333.9,813.9 334.0,810.7 334.2,807.5 334.4,804.3 334.5,801.1 334.7,798.0 334.9,794.8 335.0,791.7 335.2,788.7 335.3,785.6 335.5,782.6 335.6,779.6 335.7,776.7 335.9,773.8 336.0,770.9 336.1,768.1 336.3,765.4 336.4,762.6 336.5,760.0 336.7,756.6 336.8,753.4 336.9,750.3 337.1,747.3 337.2,744.5 337.3,741.6 337.5,738.8 337.6,735.9 337.7,733.0 337.8,730.0 337.9,726.8 338.0,723.5 338.1,720.0 338.2,717.5 338.2,714.9 338.3,712.2 338.3,709.5 338.4,706.8 338.5,704.0 338.5,701.1 338.6,698.2 338.6,695.3 338.6,692.3 338.7,689.3 338.7,686.2 338.8,683.2 338.8,680.0 338.8,676.9 338.9,673.7 338.9,670.5 339.0,667.3 339.0,664.1 339.0,660.8 339.1,657.5 339.1,654.3 339.1,651.0 339.2,647.7 339.2,644.3 339.3,641.0 339.3,637.7 339.3,634.9 339.4,632.1 339.4,629.1 339.4,626.1 339.5,623.1 339.5,620.0 339.5,616.9 339.6,613.7 339.6,610.5 339.6,607.2 339.7,603.9 339.7,600.6 339.7,597.3 339.8,594.0 339.8,590.6 339.8,587.3 339.8,583.9 339.9,580.6 339.9,577.2 339.9,573.9 340.0,570.6 340.0,567.4 340.0,564.1 340.1,560.9 340.1,557.7 340.1,554.6 340.1,551.5 340.2,548.5 340.2,545.5 340.2,542.6 340.3,539.7 340.3,537.0 340.3,534.3 340.4,531.7 340.4,529.1 340.4,526.7 340.4,524.4 340.5,522.1 340.5,520.0 340.6,516.0 340.6,512.4 340.7,509.2 340.7,506.3 340.8,503.4 340.8,500.6 340.9,497.7 340.9,494.6 341.0,491.3 341.1,487.5 341.2,485.1 341.2,482.6 341.3,480.0 341.3,477.3 341.4,474.6 341.5,471.7 341.6,468.9 341.6,465.9 341.7,462.9 341.8,459.8 341.9,456.7 342.0,453.6 342.1,450.4 342.2,447.2 342.2,443.9 342.3,440.6 342.4,437.4 342.5,434.1 342.6,430.8 342.7,427.5 342.7,424.2 342.8,420.9 342.9,417.6 342.9,414.4 343.0,411.1 343.1,408.0 343.1,404.8 343.1,401.8 343.2,398.8 343.2,395.8 343.2,392.7 343.3,389.6 343.3,386.4 343.3,383.3 343.3,380.1 343.3,377.0 343.3,373.8 343.3,370.6 343.3,367.4 343.3,364.3 343.3,361.1 343.3,357.9 343.3,354.8 343.3,351.6 343.3,348.5 343.3,345.4 343.3,342.3 343.3,339.3 343.4,336.3 343.4,333.3 343.4,330.3 343.4,327.4 343.4,324.6 343.4,321.8 343.4,319.0 343.5,316.3 343.5,313.7 343.5,310.3 343.6,306.9 343.6,303.5 343.7,300.3 343.7,297.0 343.8,293.8 343.8,290.7 343.9,287.6 343.9,284.6 344.0,281.6 344.1,278.7 344.2,275.8 344.2,273.0 344.3,270.2 344.4,267.5 344.5,264.9 344.6,262.3 344.8,258.6 344.9,254.6 345.1,250.5 345.3,246.6 345.5,242.9 345.7,239.7 345.9,237.2 346.1,235.6 346.3,235.0 346.6,235.9 346.9,238.3 347.3,241.7 347.6,245.9 347.9,250.3 348.2,254.5 348.3,256.9 348.5,259.4 348.6,262.0 348.7,264.7 348.8,267.5 349.0,270.4 349.1,273.4 349.2,276.4 349.2,279.6 349.3,282.7 349.4,286.0 349.5,289.3 349.6,292.6 349.6,295.9 349.7,299.3 349.7,302.6 349.8,306.0 349.8,308.7 349.9,311.4 349.9,314.2 349.9,317.0 349.9,319.8 349.9,322.7 349.9,325.5 349.9,328.5 349.9,331.4 349.9,334.4 349.9,337.4 349.9,340.4 349.9,343.4 349.9,346.5 349.9,349.6 349.8,352.7 349.8,355.8 349.8,358.9 349.8,362.0 349.8,365.1 349.8,368.2 349.8,371.4 349.8,374.5 349.8,377.6 349.8,380.8 349.8,383.9 349.8,387.0 349.8,389.9 349.8,392.9 349.9,395.9 349.9,398.9 349.9,401.9 349.9,405.0 349.9,408.0 350.0,411.1 350.0,414.2 350.0,417.3 350.1,420.4 350.1,423.5 350.1,426.6 350.1,429.7 350.2,432.8 350.2,435.9 350.3,439.0 350.3,442.1 350.3,445.2 350.4,448.3 350.4,451.4 350.4,454.5 350.5,457.6 350.5,460.6 350.6,463.7 350.6,466.7 350.6,469.7 350.7,472.7 350.7,475.6 350.8,478.6 350.8,481.5 350.8,484.6 350.9,487.7 350.9,490.7 351.0,493.7 351.0,496.6 351.1,499.5 351.1,502.4 351.2,505.3 351.3,508.1 351.3,511.0 351.4,513.8 351.4,516.6 351.5,519.5 351.5,522.3 351.6,525.2 351.7,528.1 351.7,531.1 351.8,534.0 351.8,537.1 351.9,540.1 351.9,543.3 352.0,546.5 352.0,549.7 352.1,553.1 352.1,556.5 352.2,560.0 352.2,562.5 352.3,565.1 352.3,567.7 352.3,570.4 352.4,573.2 352.4,576.0 352.4,578.9 352.4,581.8 352.5,584.7 352.5,587.7 352.5,590.7 352.5,593.8 352.6,596.9 352.6,600.0 352.6,603.2 352.6,606.4 352.7,609.6 352.7,612.8 352.7,616.1 352.7,619.3 352.8,622.6 352.8,625.9 352.8,629.2 352.8,632.5 352.9,635.9 352.9,639.2 352.9,642.5 352.9,645.8 353.0,649.1 353.0,652.4 353.0,655.7 353.0,659.0 353.1,662.2 353.1,665.5 353.1,668.7 353.1,671.9 353.2,675.0 353.2,678.2 353.2,681.3 353.3,684.3 353.3,687.4 353.3,690.4 353.4,693.3 353.4,696.2 353.4,699.1 353.5,701.9 353.5,704.7 353.6,707.4 353.6,710.0 353.7,712.6 353.7,715.1 353.7,717.6 353.8,720.0 353.9,723.6 354.0,727.1 354.1,730.5 354.1,733.8 354.2,737.0 354.3,740.1 354.4,743.1 354.5,746.1 354.6,749.1 354.7,751.9 354.8,754.8 354.9,757.6 355.1,760.4 355.2,763.2 355.3,766.0 355.4,768.8 355.5,771.6 355.6,774.4 355.7,777.2 355.8,780.1 355.9,783.0 356.0,786.0 356.1,789.0 356.2,792.0 356.3,795.0 356.4,798.1 356.5,801.1 356.6,804.2 356.7,807.2 356.8,810.3 356.9,813.3 357.0,816.3 357.1,819.4 357.2,822.4 357.3,825.4 357.4,828.4 357.5,831.4 357.6,834.4 357.7,837.4 357.8,840.4 357.9,843.3 358.0,846.2 358.1,849.1 358.2,852.0 358.3,855.2 358.4,858.4 358.5,861.6 358.6,864.7 358.7,867.9 358.8,871.0 358.9,874.1 359.0,877.2 359.1,880.3 359.2,883.4 359.3,886.4 359.4,889.5 359.6,892.5 359.7,895.4 359.9,898.4 360.0,901.3 360.2,904.2 360.4,907.0 360.6,910.5 360.8,914.3 360.9,918.3 361.0,922.4 361.1,926.4 361.3,930.4 361.4,934.1 361.7,937.6 362.1,940.8 362.5,943.5 363.1,945.6 363.9,947.2 364.8,948.0 367.0,947.4 369.6,945.1 372.3,942.4 374.7,940.7 380.0,940.7 383.0,943.0 386.2,946.3 389.3,948.0 392.1,946.5 394.9,943.5 398.0,940.8 400.8,939.4 403.9,938.3 407.1,937.4 410.0,936.4 413.1,935.7 416.0,935.0 418.7,933.4 420.2,931.7 421.5,929.6 422.7,927.1 423.8,924.2 424.8,921.0 425.7,917.6 426.6,913.9 427.5,910.0 427.9,907.9 428.3,905.7 428.7,903.3 429.0,900.8 429.3,898.2 429.6,895.4 429.9,892.6 430.1,889.6 430.3,886.6 430.5,883.5 430.7,880.3 430.9,877.0 431.1,873.7 431.2,870.4 431.4,867.0 431.5,863.6 431.7,860.2 431.8,856.8 431.9,853.4 432.0,850.0 432.1,846.6 432.2,843.3 432.3,839.9 432.5,836.7 432.6,833.5 432.7,830.3 432.8,827.3 432.9,824.3 433.1,821.4 433.2,818.7 433.4,816.0 433.6,812.3 433.9,808.4 434.1,804.4 434.3,800.2 434.5,796.1 434.7,791.9 434.9,787.8 435.1,783.9 435.3,780.1 435.5,776.5 435.7,773.3 435.9,770.4 436.1,767.9 436.3,765.8 436.5,764.3 436.7,763.3 436.9,763.0 437.2,763.6 437.4,765.2 437.7,767.6 437.9,770.7 438.1,774.3 438.4,778.2 438.6,782.2 438.8,786.2 439.0,790.0 439.1,792.5 439.2,795.0 439.3,797.7 439.5,800.5 439.5,803.3 439.6,806.3 439.7,809.2 439.8,812.3 439.9,815.4 440.0,818.5 440.0,821.7 440.1,824.9 440.2,828.1 440.3,831.3 440.3,834.4 440.4,837.6 440.5,840.8 440.5,843.9 440.6,847.0 440.7,850.0 440.8,853.0 440.8,856.1 440.9,859.1 441.0,862.2 441.0,865.3 441.1,868.4 441.2,871.5 441.2,874.7 441.3,877.8 441.3,880.9 441.4,883.9 441.4,887.0 441.5,890.0 441.6,893.0 441.7,896.0 441.8,898.9 441.9,901.7 442.0,904.6 442.1,907.3 442.2,910.0 442.3,913.7 442.4,917.6 442.4,921.7 442.4,925.8 442.5,929.9 442.5,933.8 442.6,937.4 442.8,940.7 443.1,943.5 443.6,945.7 444.2,947.2 445.0,948.0 446.9,946.9 449.2,943.8 451.6,940.5 453.9,939.0 456.3,940.6 458.6,943.9 461.2,946.6 463.8,947.8 466.7,948.5 470.0,949.0 473.1,949.3 476.8,949.5 480.7,949.5 484.5,949.3 487.9,948.8 490.5,948.0 493.1,945.0 495.0,942.6 498.7,943.5 500.7,940.5 502.4,936.1 503.5,932.6 504.6,928.9 506.0,926.0 510.6,923.3 512.4,921.0 513.9,918.1 515.2,915.0 516.1,911.4 516.5,907.7 517.0,904.0 517.5,900.2 517.9,896.5 518.4,894.9 518.7,895.6 518.9,897.6 519.2,900.6 519.5,904.2 519.7,908.3 520.0,912.5 520.3,916.5 520.7,920.0 521.0,923.4 521.3,927.2 521.6,931.3 521.9,935.4 522.3,939.3 522.7,942.8 523.2,945.6 523.8,947.5 524.6,948.3 526.0,947.7 527.6,945.6 529.3,942.4 531.0,938.8 532.4,935.0 533.0,932.8 533.6,930.2 534.0,927.4 534.4,924.4 534.8,921.2 535.1,917.8 535.3,914.3 535.6,910.8 535.8,907.2 535.9,903.7 536.1,900.2 536.3,896.8 536.4,893.6 536.6,890.5 536.9,887.6 537.1,885.0 537.5,881.0 537.9,876.9 538.2,872.8 538.6,869.1 539.0,866.1 539.3,864.0 539.7,863.3 540.0,864.0 540.4,865.8 540.8,868.5 541.1,872.0 541.5,875.9 541.8,880.0 542.2,884.1 542.5,888.0 542.7,890.6 543.0,893.5 543.2,896.6 543.4,899.8 543.6,903.2 543.8,906.7 544.0,910.2 544.2,913.7 544.4,917.3 544.6,920.7 544.8,924.1 545.1,927.3 545.3,930.3 545.6,933.2 545.8,935.7 546.1,938.0 546.4,940.0 547.0,944.1 547.6,947.4 548.8,949.0 550.9,948.4 553.7,946.3 556.7,943.4 559.4,940.5 561.4,938.2 563.3,935.8 565.1,933.3 566.7,930.4 568.0,927.3 568.8,924.7 569.3,921.8 569.7,918.6 570.0,915.4 570.1,912.0 570.3,908.7 570.5,905.4 570.7,902.2 571.0,899.2 571.5,895.2 572.0,890.7 572.5,886.4 573.1,882.6 573.6,880.0 574.2,879.0 574.8,880.5 575.5,884.2 576.2,889.1 576.8,894.0 577.5,897.7 578.1,899.2 578.5,898.5 578.8,896.7 579.1,893.9 579.4,890.4 579.7,886.3 580.0,881.9 580.3,877.4 580.6,873.0 580.9,869.0 581.2,865.5 581.4,862.7 581.7,860.9 582.0,860.2 582.3,860.7 582.6,862.3 583.0,864.7 583.3,867.7 583.6,871.3 583.9,875.2 584.2,879.4 584.5,883.6 584.8,887.6 585.1,891.4 585.3,894.2 585.5,897.3 585.6,900.7 585.7,904.3 585.8,908.1 585.8,912.0 585.9,916.0 586.0,920.0 586.1,923.9 586.2,927.8 586.3,931.5 586.5,935.0 586.7,938.2 586.9,941.2 587.2,943.7 587.6,945.8 588.0,947.4 588.4,948.5 589.0,949.0 590.7,947.3 592.7,943.5 595.2,940.5 598.1,939.6 601.5,939.3 605.0,939.7 607.7,940.5 610.3,944.2 612.4,946.8 613.6,946.0 614.8,944.2 616.1,941.5 617.3,938.1 618.6,934.4 619.8,930.4 620.9,926.4 621.8,922.6 622.4,919.8 622.9,916.5 623.3,912.8 623.6,908.9 623.9,904.8 624.1,900.6 624.4,896.5 624.6,892.5 624.8,888.7 625.0,885.2 625.2,882.1 625.4,879.5 625.7,877.6 626.0,876.3 626.4,875.8 627.4,878.2 628.5,882.8 629.6,885.2 630.4,883.5 631.2,879.7 632.0,875.0 632.8,871.2 633.5,869.6 633.9,870.4 634.3,872.4 634.6,875.5 635.0,879.3 635.3,883.7 635.6,888.3 635.8,892.9 636.1,897.3 636.4,901.1 636.7,904.2 637.1,906.2 637.4,907.0 638.3,905.3 639.1,901.0 639.9,895.6 640.1,893.6 640.3,891.4 640.4,888.9 640.6,886.2 640.7,883.3 640.8,880.3 640.9,877.1 640.9,873.8 641.0,870.3 641.0,866.8 641.1,863.3 641.1,859.7 641.1,856.1 641.1,852.6 641.2,849.0 641.2,845.6 641.2,842.2 641.3,838.9 641.4,835.8 641.4,832.8 641.5,830.0 641.6,826.2 641.7,822.2 641.8,818.0 642.0,813.8 642.1,809.6 642.2,805.6 642.3,801.9 642.5,798.7 642.6,795.9 642.8,793.8 642.9,792.5 643.1,792.0 643.4,792.8 643.7,795.1 644.0,798.4 644.3,802.3 644.6,806.3 644.9,810.0 645.1,812.8 645.3,815.7 645.5,818.6 645.6,821.6 645.8,824.8 645.9,828.0 646.1,831.4 646.2,835.0 646.4,838.8 646.5,842.7 646.6,845.1 646.7,847.7 646.7,850.5 646.8,853.3 646.8,856.4 646.9,859.5 647.0,862.7 647.0,866.0 647.1,869.4 647.1,872.8 647.2,876.2 647.2,879.7 647.2,883.3 647.3,886.8 647.3,890.3 647.4,893.8 647.4,897.2 647.5,900.6 647.5,903.9 647.6,907.1 647.7,910.3 647.7,913.3 647.8,916.3 647.9,919.1 647.9,921.7 648.0,924.2 648.1,926.5 648.2,928.6 648.3,933.2 648.2,937.5 648.1,941.5 648.2,944.8 648.7,947.5 649.8,949.3 653.2,950.3 657.2,949.3 659.1,947.9 661.1,945.8 663.0,943.2 664.9,940.2 666.5,936.9 668.0,933.6 668.9,930.9 669.7,927.9 670.3,924.6 670.8,921.1 671.2,917.5 671.6,913.9 672.0,910.4 672.4,907.0 672.8,903.9 673.2,901.2 673.8,898.9 675.0,895.0 676.2,891.9 677.4,890.6 678.1,891.7 678.7,894.3 679.3,898.0 679.9,902.0 680.5,905.8 681.2,908.8 682.9,914.2 684.5,917.0 685.1,916.3 685.6,914.4 686.1,911.5 686.5,907.9 687.0,903.9 687.4,899.6 687.8,895.2 688.2,891.1 688.6,887.3 688.9,884.2 689.3,880.6 689.6,876.8 689.9,872.8 690.2,868.8 690.6,864.8 690.9,861.2 691.2,857.9 691.5,855.1 691.8,852.9 692.1,851.5 692.4,851.0 692.8,851.7 693.2,853.8 693.7,856.7 694.1,860.4 694.5,864.5 694.8,868.6 695.2,872.5 695.4,875.2 695.6,878.2 695.8,881.3 695.9,884.7 696.1,888.1 696.2,891.7 696.3,895.3 696.4,898.9 696.5,902.4 696.7,905.9 696.8,909.2 697.0,912.4 697.2,915.3 697.4,918.0 697.7,920.4 698.3,925.0 698.9,929.4 699.6,932.7 700.5,934.0 701.2,933.3 702.1,931.4 703.0,928.4 704.0,924.8 705.0,920.8 706.0,916.6 707.0,912.6 707.9,909.0 708.7,906.0 709.4,903.0 710.2,899.9 711.0,896.7 711.7,893.6 712.4,890.4 713.1,887.2 713.9,884.1 714.5,881.0 715.2,877.9 715.9,874.8 716.5,871.7 717.2,868.7 717.8,865.7 718.4,862.7 719.0,859.6 719.6,856.6 720.1,853.5 720.7,850.3 721.2,847.4 721.6,844.5 722.1,841.5 722.5,838.5 722.9,835.4 723.3,832.4 723.7,829.3 724.1,826.2 724.5,823.2 724.9,820.2 725.3,817.2 725.7,814.0 726.1,810.9 726.5,807.8 726.9,804.7 727.3,801.6 727.6,798.5 728.0,795.4 728.3,792.3 728.7,789.2 729.0,786.0 729.3,783.0 729.6,779.8 729.9,776.6 730.2,773.4 730.4,770.2 730.7,767.0 730.9,763.9 731.2,760.9 731.4,758.0 731.6,755.3 731.8,752.9 732.1,749.3 732.3,746.3 732.5,743.3 732.7,740.0 732.9,737.1 733.0,734.2 733.1,731.2 733.2,727.9 733.4,724.2 733.5,720.0 733.6,718.0 733.6,715.9 733.7,713.6 733.7,711.2 733.8,708.7 733.8,706.1 733.9,703.4 734.0,700.5 734.0,697.6 734.1,694.6 734.1,691.5 734.2,688.4 734.2,685.2 734.3,681.9 734.4,678.7 734.4,675.3 734.5,672.0 734.6,668.6 734.6,665.2 734.7,661.9 734.8,658.5 734.9,655.1 734.9,651.8 735.0,648.5 735.1,645.3 735.2,642.0 735.3,638.9 735.4,635.8 735.6,632.8 735.7,629.8 735.8,627.0 736.0,623.7 736.1,620.4 736.3,617.2 736.5,613.9 736.7,610.7 736.9,607.5 737.1,604.4 737.3,601.2 737.5,598.1 737.7,595.0 737.9,591.9 738.1,588.8 738.4,585.7 738.6,582.7 738.8,579.6 739.0,576.6 739.3,573.6 739.5,570.5 739.7,567.5 739.9,564.5 740.2,561.5 740.4,558.5 740.6,555.5 740.8,552.1 741.1,548.6 741.3,544.8 741.5,540.8 741.8,536.8 742.0,532.6 742.2,528.5 742.5,524.4 742.7,520.3 742.9,516.4 743.2,512.7 743.4,509.1 743.6,505.8 743.9,502.8 744.1,500.1 744.4,497.8 744.6,495.9 744.8,494.6 745.1,493.7 745.3,493.4 745.6,493.9 745.9,495.2 746.3,497.3 746.6,500.0 746.9,503.3 747.3,507.0 747.6,511.0 747.9,515.1 748.2,519.4 748.5,523.7 748.8,527.8 749.0,531.6 749.1,534.3 749.3,537.0 749.4,539.8 749.5,542.7 749.6,545.6 749.7,548.6 749.8,551.6 749.9,554.7 749.9,557.8 750.0,561.0 750.1,564.1 750.1,567.3 750.1,570.6 750.2,573.8 750.2,577.1 750.3,580.4 750.3,583.6 750.4,586.9 750.4,590.1 750.4,593.4 750.5,596.6 750.5,599.8 750.6,603.0 750.7,606.1 750.7,609.2 750.8,612.4 750.8,615.7 750.9,619.0 750.9,622.4 751.0,625.8 751.0,629.2 751.1,632.6 751.1,636.0 751.1,639.4 751.2,642.8 751.2,646.1 751.3,649.4 751.3,652.7 751.4,655.8 751.4,659.0 751.5,662.0 751.5,664.9 751.6,667.8 751.6,670.5 751.6,673.1 751.7,675.5 751.7,677.8 751.8,680.0 751.9,684.0 752.0,687.4 752.1,690.4 752.2,693.3 752.3,696.4 752.5,700.0 752.6,702.6 752.8,705.4 752.9,708.3 753.1,711.3 753.3,714.4 753.5,717.6 753.7,720.8 753.9,724.0 754.1,727.3 754.3,730.5 754.5,733.7 754.7,736.9 754.9,740.0 755.1,743.0 755.3,746.0 755.5,749.0 755.8,752.0 756.0,755.0 756.2,758.0 756.4,761.0 756.7,764.0 756.9,767.0 757.1,770.1 757.4,773.2 757.6,776.3 757.8,779.5 758.0,782.4 758.2,785.4 758.4,788.4 758.6,791.4 758.8,794.5 758.9,797.6 759.1,800.7 759.3,803.8 759.5,806.9 759.7,810.1 759.9,813.2 760.1,816.3 760.2,819.5 760.4,822.6 760.6,825.7 760.8,828.8 761.0,831.9 761.2,835.0 761.3,838.1 761.5,841.1 761.7,844.2 761.9,847.3 762.1,850.4 762.2,853.5 762.4,856.6 762.6,859.7 762.8,862.8 763.0,865.9 763.2,868.9 763.3,872.0 763.5,875.1 763.7,878.2 763.9,881.3 764.1,884.5 764.2,887.7 764.4,891.0 764.6,894.3 764.7,897.6 764.9,900.9 765.1,904.2 765.2,907.4 765.4,910.6 765.6,913.7 765.8,916.7 766.0,919.6 766.2,922.4 766.5,925.0 766.7,927.5 767.1,931.9 767.5,936.5 767.9,940.9 768.4,944.6 769.0,947.2 769.7,948.2 771.2,946.1 773.0,942.0 774.5,939.3 776.2,936.4 777.9,933.3 779.4,929.9 780.3,927.0 781.1,923.9 781.8,920.7 782.4,917.5 783.1,914.3 784.0,911.2 785.1,907.9 786.3,904.7 787.6,901.5 788.9,898.5 790.3,895.6 791.8,892.7 793.3,889.9 794.9,887.2 796.5,884.7 798.6,882.0 800.8,879.6 802.7,876.9 804.3,873.6 805.6,869.9 806.6,866.0 807.1,862.9 807.5,859.6 807.8,856.2 808.0,852.5 808.2,848.8 808.4,845.8 808.6,842.5 808.8,839.2 809.0,835.8 809.1,832.4 809.3,828.9 809.5,825.6 809.7,822.3 809.9,818.9 810.2,815.7 810.4,812.5 810.7,809.3 810.9,806.1 811.1,802.6 811.3,799.0 811.4,796.3 811.5,793.4 811.5,790.4 811.6,787.3 811.6,784.1 811.6,780.8 811.7,777.6 811.7,774.4 811.7,771.3 811.8,768.2 811.9,765.3 812.0,762.6 812.1,760.0 812.3,756.1 812.6,752.0 812.9,748.1 813.2,744.8 813.5,742.5 813.9,741.6 814.4,742.7 815.0,745.5 815.6,749.5 816.1,754.1 816.6,758.8 816.8,761.0 816.9,763.3 817.0,765.8 817.1,768.5 817.2,771.3 817.2,774.3 817.2,777.3 817.3,780.5 817.3,783.7 817.3,787.0 817.3,790.3 817.3,793.7 817.3,797.0 817.3,800.4 817.3,803.7 817.3,807.0 817.3,810.2 817.3,813.4 817.4,816.5 817.4,819.4 817.5,822.3 817.6,825.7 817.7,829.0 817.9,832.3 818.0,835.6 818.2,838.9 818.3,842.2 818.5,845.4 818.6,848.6 818.8,851.7 819.0,854.7 819.2,857.8 819.3,860.7 819.5,863.6 819.7,866.4 819.9,869.1 820.2,873.1 820.4,877.5 820.7,881.9 820.9,886.1 821.2,889.9 821.5,892.9 821.8,894.9 822.2,895.6 822.6,894.8 823.1,892.6 823.5,889.3 824.1,885.3 824.6,880.9 825.1,876.6 825.6,872.5 826.1,869.1 826.7,865.6 827.3,862.6 828.0,859.6 828.6,856.2 829.2,852.0 829.5,850.0 829.7,847.8 830.0,845.5 830.3,843.1 830.6,840.5 830.8,837.7 831.1,834.9 831.4,831.9 831.7,828.9 832.0,825.7 832.3,822.5 832.6,819.3 832.9,815.9 833.1,812.6 833.4,809.2 833.7,805.8 834.0,802.3 834.3,798.9 834.5,795.4 834.8,792.0 835.1,788.6 835.3,785.3 835.6,782.0 835.8,778.8 836.1,775.6 836.3,772.5 836.5,769.5 836.7,766.2 836.9,762.9 837.1,759.6 837.3,756.2 837.5,752.8 837.7,749.4 837.9,746.0 838.1,742.6 838.2,739.2 838.4,735.8 838.5,732.4 838.7,729.1 838.8,725.8 839.0,722.6 839.1,719.5 839.3,716.4 839.5,713.4 839.6,710.5 839.8,707.7 839.9,705.0 840.1,702.5 840.3,700.0 840.5,697.7 840.9,693.4 841.3,689.0 841.6,684.7 842.0,680.9 842.4,677.9 842.8,675.8 843.2,675.1 843.6,675.9 844.0,678.1 844.3,681.2 844.7,685.1 845.1,689.4 845.4,693.7 845.8,697.7 846.0,700.5 846.3,703.8 846.5,707.5 846.7,711.3 846.9,715.4 847.1,719.4 847.4,723.4 847.6,727.2 847.8,730.7 848.0,733.9 848.2,736.5 848.5,738.5 848.7,739.7 849.0,740.2 849.3,739.8 849.6,738.7 849.9,736.9 850.2,734.5 850.5,731.7 850.8,728.4 851.2,724.8 851.5,720.9 851.8,716.8 852.1,712.6 852.5,708.4 852.8,704.3 853.0,700.2 853.3,696.4 853.6,692.9 853.8,689.7 854.0,686.5 854.2,683.5 854.4,680.5 854.6,677.5 854.7,674.6 854.9,671.7 855.0,668.8 855.1,665.9 855.3,662.9 855.4,659.9 855.5,656.7 855.7,653.4 855.8,650.0 855.9,647.3 856.0,644.5 856.1,641.7 856.3,638.7 856.4,635.8 856.5,632.7 856.6,629.6 856.7,626.5 856.8,623.3 857.0,620.1 857.1,616.9 857.2,613.6 857.3,610.4 857.4,607.1 857.5,603.8 857.7,600.6 857.8,597.3 857.9,594.1 858.0,590.9 858.1,587.7 858.3,584.6 858.4,581.5 858.5,578.4 858.6,575.3 858.8,572.1 858.9,569.0 859.0,566.0 859.2,562.9 859.3,559.8 859.5,556.7 859.6,553.7 859.7,550.6 859.9,547.6 860.0,544.6 860.2,541.5 860.3,538.5 860.4,535.5 860.6,532.4 860.7,529.4 860.8,526.4 861.0,523.3 861.1,520.3 861.2,517.3 861.3,514.2 861.4,511.2 861.5,508.1 861.6,505.1 861.7,502.1 861.8,499.1 861.9,496.1 862.0,493.1 862.1,490.1 862.2,487.1 862.3,484.1 862.4,481.1 862.5,478.1 862.5,475.1 862.6,472.0 862.7,468.9 862.8,465.9 862.8,462.7 862.9,459.6 863.0,456.4 863.0,453.2 863.1,450.0 863.1,447.1 863.2,444.1 863.2,441.1 863.3,438.0 863.3,434.8 863.3,431.6 863.3,428.4 863.3,425.1 863.4,421.9 863.4,418.6 863.4,415.3 863.4,412.0 863.4,408.7 863.4,405.4 863.4,402.1 863.4,398.9 863.4,395.7 863.5,392.5 863.5,389.4 863.5,386.4 863.5,383.4 863.6,380.4 863.6,377.6 863.6,374.8 863.7,372.1 863.7,369.5 863.8,367.0 863.9,363.5 864.0,360.3 864.2,357.2 864.3,354.3 864.4,351.5 864.6,348.7 864.7,346.0 864.9,343.2 865.1,340.4 865.2,337.4 865.4,334.3 865.5,331.0 865.6,328.2 865.7,325.1 865.8,321.7 865.9,318.1 866.0,314.3 866.1,310.3 866.2,306.3 866.3,302.2 866.4,298.1 866.5,294.1 866.7,290.2 866.8,286.4 866.9,282.9 867.0,279.5 867.1,276.5 867.2,273.8 867.3,271.5 867.4,269.6 867.6,268.2 867.7,267.3 867.8,267.0 868.0,267.7 868.3,269.8 868.6,272.8 868.8,276.5 869.1,280.7 869.3,284.9 869.5,289.0 869.6,291.4 869.7,294.0 869.8,296.7 869.9,299.4 869.9,302.3 870.0,305.3 870.1,308.4 870.1,311.5 870.2,314.7 870.2,318.0 870.3,321.3 870.3,324.6 870.3,328.0 870.4,331.3 870.4,334.7 870.5,338.1 870.5,341.4 870.5,344.7 870.6,348.0 870.6,350.9 870.7,353.7 870.7,356.6 870.8,359.5 870.8,362.4 870.9,365.4 870.9,368.3 871.0,371.2 871.0,374.2 871.0,377.2 871.1,380.2 871.1,383.2 871.2,386.2 871.2,389.2 871.3,392.2 871.3,395.3 871.3,398.3 871.4,401.4 871.4,404.5 871.5,407.6 871.5,410.7 871.5,413.8 871.6,416.9 871.6,420.0 871.6,422.9 871.7,425.9 871.7,428.8 871.7,431.8 871.7,434.8 871.8,437.9 871.8,440.9 871.8,444.0 871.8,447.0 871.9,450.1 871.9,453.2 871.9,456.3 871.9,459.4 872.0,462.4 872.0,465.5 872.0,468.6 872.0,471.7 872.0,474.8 872.1,477.9 872.1,481.0 872.1,484.0 872.1,487.1 872.2,490.1 872.2,493.1 872.2,496.1 872.2,499.1 872.3,502.1 872.3,505.0 872.3,508.2 872.4,511.3 872.4,514.4 872.4,517.4 872.5,520.4 872.5,523.4 872.5,526.4 872.6,529.4 872.6,532.4 872.6,535.4 872.7,538.3 872.7,541.3 872.8,544.3 872.8,547.2 872.8,550.2 872.9,553.3 872.9,556.3 873.0,559.3 873.0,562.4 873.0,565.5 873.1,568.7 873.1,571.9 873.2,575.1 873.2,578.4 873.2,581.3 873.3,584.2 873.3,587.2 873.3,590.2 873.4,593.3 873.4,596.4 873.5,599.5 873.5,602.7 873.5,606.0 873.6,609.2 873.6,612.5 873.6,615.7 873.7,619.0 873.7,622.3 873.7,625.6 873.8,628.9 873.8,632.2 873.9,635.5 873.9,638.7 874.0,642.0 874.0,645.2 874.0,648.4 874.1,651.5 874.1,654.6 874.2,657.7 874.2,660.7 874.3,663.6 874.3,666.5 874.4,669.4 874.4,672.1 874.5,674.8 874.5,677.5 874.6,680.0 874.7,683.9 874.8,687.9 874.9,692.1 875.0,696.4 875.1,700.6 875.2,704.8 875.3,708.8 875.4,712.6 875.6,716.1 875.7,719.3 875.8,722.0 875.9,724.3 876.0,726.0 876.1,727.0 876.2,727.4 876.3,727.2 876.3,726.5 876.4,725.3 876.5,723.8 876.5,721.9 876.6,719.7 876.7,717.1 876.7,714.3 876.8,711.2 876.8,707.9 876.9,704.3 877.0,700.6 877.0,696.8 877.1,692.8 877.1,688.8 877.2,684.7 877.2,680.6 877.3,676.5 877.4,672.4 877.4,668.3 877.5,664.4 877.5,660.5 877.6,656.8 877.6,653.3 877.7,650.0 877.8,647.1 877.8,644.2 877.9,641.3 877.9,638.4 878.0,635.4 878.0,632.5 878.1,629.6 878.1,626.6 878.2,623.6 878.2,620.7 878.3,617.7 878.3,614.7 878.4,611.7 878.4,608.7 878.5,605.7 878.5,602.7 878.6,599.7 878.6,596.7 878.7,593.6 878.7,590.6 878.8,587.6 878.8,584.5 878.9,581.5 878.9,578.4 879.0,575.4 879.0,572.3 879.1,569.2 879.1,566.2 879.2,563.1 879.2,560.0 879.2,557.0 879.3,554.0 879.3,551.0 879.4,548.0 879.4,544.9 879.5,541.8 879.5,538.7 879.6,535.6 879.6,532.4 879.6,529.3 879.7,526.2 879.7,523.0 879.8,519.8 879.8,516.7 879.8,513.5 879.9,510.4 879.9,507.2 880.0,504.1 880.0,501.0 880.1,497.9 880.1,494.8 880.1,491.7 880.2,488.7 880.2,485.7 880.3,482.7 880.3,479.7 880.3,476.8 880.4,473.9 880.4,471.0 880.5,468.2 880.5,465.4 880.6,462.7 880.6,460.0 880.7,456.6 880.7,453.2 880.8,449.9 880.8,446.6 880.9,443.4 880.9,440.2 881.0,437.0 881.0,433.9 881.1,430.8 881.1,427.7 881.2,424.7 881.2,421.7 881.3,418.7 881.3,415.8 881.4,412.9 881.4,410.0 881.5,407.1 881.6,404.3 881.6,401.5 881.7,398.7 881.8,395.4 881.9,392.0 881.9,388.7 882.0,385.3 882.1,382.0 882.1,378.8 882.2,375.6 882.3,372.4 882.4,369.4 882.5,366.5 882.7,363.8 882.8,361.2 883.0,358.7 883.2,356.5 883.6,352.2 884.1,348.1 884.7,345.0 885.3,343.8 886.4,345.8 887.4,350.0 887.7,352.1 887.9,354.6 888.1,357.3 888.2,360.3 888.3,363.5 888.3,366.8 888.4,370.3 888.4,373.9 888.5,377.6 888.6,380.0 888.6,382.5 888.7,385.1 888.7,387.7 888.8,390.4 888.9,393.1 888.9,395.9 889.0,398.8 889.0,401.7 889.1,404.7 889.1,407.8 889.2,410.8 889.2,414.0 889.2,417.2 889.3,420.4 889.3,423.7 889.4,427.0 889.4,430.4 889.4,433.8 889.5,437.3 889.5,440.8 889.5,443.3 889.5,445.9 889.6,448.6 889.6,451.3 889.6,454.0 889.6,456.8 889.6,459.7 889.6,462.6 889.6,465.5 889.6,468.5 889.6,471.5 889.6,474.6 889.6,477.6 889.6,480.7 889.7,483.9 889.7,487.0 889.7,490.2 889.7,493.4 889.7,496.6 889.7,499.8 889.7,503.0 889.6,506.2 889.6,509.5 889.6,512.7 889.6,515.9 889.6,519.1 889.7,522.3 889.7,525.5 889.7,528.7 889.7,531.9 889.7,535.0 889.7,538.1 889.7,541.2 889.7,544.3 889.7,547.3 889.7,550.3 889.7,553.3 889.7,556.2 889.7,559.1 889.8,561.9 889.8,564.7 889.8,567.4 889.8,570.8 889.9,574.2 889.9,577.5 889.9,580.8 890.0,584.0 890.0,587.2 890.0,590.4 890.1,593.6 890.1,596.8 890.2,599.9 890.2,603.0 890.3,606.1 890.3,609.1 890.4,612.2 890.4,615.2 890.5,618.2 890.5,621.2 890.6,624.2 890.6,627.2 890.7,630.2 890.7,633.1 890.8,636.1 890.8,639.1 890.9,642.1 890.9,645.0 891.0,648.0 891.0,651.0 891.0,654.1 891.1,657.3 891.1,660.4 891.2,663.4 891.2,666.5 891.3,669.6 891.3,672.6 891.4,675.7 891.4,678.7 891.5,681.8 891.5,684.8 891.6,687.8 891.6,690.8 891.7,693.8 891.7,696.8 891.8,699.8 891.8,702.8 891.9,705.8 891.9,708.8 892.0,711.8 892.0,714.9 892.1,717.9 892.1,720.9 892.2,723.9 892.3,727.0 892.3,730.2 892.4,733.3 892.4,736.5 892.5,739.6 892.5,742.8 892.6,746.0 892.6,749.1 892.7,752.3 892.7,755.4 892.8,758.6 892.8,761.7 892.9,764.9 892.9,768.0 893.0,771.1 893.0,774.2 893.1,777.3 893.1,780.4 893.2,783.4 893.2,786.5 893.3,789.5 893.3,792.5 893.4,795.5 893.5,798.8 893.5,802.0 893.6,805.3 893.6,808.5 893.7,811.7 893.8,814.9 893.8,818.1 893.9,821.3 894.0,824.4 894.0,827.6 894.1,830.7 894.1,833.8 894.2,836.9 894.3,839.9 894.3,843.0 894.4,846.0 894.5,849.0 894.5,852.0 894.6,855.0 894.7,858.4 894.7,861.7 894.8,865.0 894.9,868.3 895.0,871.6 895.0,874.9 895.1,878.1 895.2,881.3 895.2,884.5 895.3,887.6 895.4,890.8 895.5,893.9 895.6,896.9 895.7,899.9 895.8,902.9 895.9,906.4 896.1,910.0 896.2,913.7 896.4,917.3 896.5,920.8 896.7,924.3 896.8,927.6 897.0,930.7 897.2,933.7 897.5,936.3 897.7,938.7 898.2,943.0 898.7,946.7 899.4,948.2 900.0,947.5 900.6,945.5 901.3,942.5 902.1,938.8 902.8,934.7 903.6,930.6 904.2,926.7 904.6,924.1 905.0,921.3 905.3,918.4 905.7,915.3 906.0,912.2 906.3,909.0 906.6,905.7 906.9,902.4 907.2,899.0 907.5,895.6 907.8,892.2 908.1,888.8 908.4,885.5 908.6,882.2 908.9,879.0 909.2,875.8 909.4,872.6 909.7,869.5 909.9,866.3 910.2,863.1 910.4,859.9 910.7,856.7 910.9,853.6 911.1,850.4 911.3,847.2 911.6,844.0 911.8,840.8 912.0,837.7 912.3,834.5 912.5,831.3 912.7,828.1 913.0,824.9 913.2,821.7 913.5,818.6 913.7,815.4 913.9,812.2 914.2,809.0 914.4,805.8 914.7,802.6 914.9,799.4 915.1,796.2 915.4,793.1 915.6,789.9 915.9,786.7 916.1,783.5 916.3,780.3 916.6,777.0 916.8,773.7 917.1,770.4 917.3,767.1 917.5,763.7 917.8,760.4 918.0,757.1 918.2,753.8 918.5,750.6 918.7,747.5 919.0,744.4 919.2,741.4 919.5,738.6 919.7,735.8 920.1,732.3 920.4,729.0 920.8,726.0 921.2,723.1 921.5,720.1 921.9,717.0 922.2,713.7 922.5,710.0 922.7,707.5 922.8,704.8 923.0,702.1 923.1,699.3 923.2,696.3 923.3,693.4 923.4,690.3 923.5,687.2 923.6,684.0 923.6,680.8 923.7,677.5 923.8,674.2 923.9,670.9 924.0,667.6 924.0,664.2 924.1,660.9 924.2,657.6 924.3,654.3 924.4,651.0 924.5,648.0 924.6,645.0 924.7,642.0 924.8,638.9 924.9,635.9 925.0,632.8 925.1,629.7 925.2,626.6 925.3,623.4 925.4,620.3 925.5,617.2 925.6,614.0 925.7,610.8 925.8,607.7 926.0,604.5 926.1,601.3 926.2,598.2 926.3,595.0 926.4,591.9 926.5,588.7 926.6,585.6 926.7,582.4 926.8,579.3 926.9,576.2 927.0,573.0 927.1,569.9 927.2,566.7 927.3,563.5 927.4,560.3 927.5,557.0 927.6,553.8 927.7,550.6 927.8,547.4 928.0,544.2 928.1,541.0 928.2,537.8 928.3,534.7 928.4,531.5 928.5,528.4 928.6,525.3 928.7,522.3 928.8,519.3 928.9,516.3 929.0,513.4 929.1,510.5 929.2,507.7 929.3,504.3 929.5,501.0 929.6,497.9 929.7,494.9 929.8,491.9 930.0,489.0 930.1,486.1 930.2,483.1 930.3,480.2 930.5,477.2 930.6,474.0 930.7,470.8 930.8,467.4 931.0,463.8 931.1,460.0 931.2,457.6 931.3,455.2 931.3,452.6 931.4,450.0 931.5,447.3 931.5,444.5 931.6,441.6 931.7,438.7 931.7,435.7 931.8,432.7 931.9,429.6 932.0,426.5 932.0,423.3 932.1,420.1 932.2,416.9 932.2,413.7 932.3,410.4 932.4,407.1 932.4,403.8 932.5,400.5 932.6,397.1 932.6,393.8 932.7,390.5 932.8,387.2 932.9,383.9 932.9,380.6 933.0,377.4 933.1,374.1 933.2,371.0 933.3,367.8 933.4,364.7 933.4,361.6 933.5,358.6 933.6,355.6 933.7,352.7 933.8,349.9 933.9,347.1 934.0,344.4 934.1,341.8 934.2,339.3 934.4,335.7 934.5,332.1 934.7,328.6 934.9,325.2 935.1,321.9 935.3,318.6 935.5,315.4 935.7,312.2 935.9,309.1 936.1,306.0 936.3,303.0 936.5,300.0 936.7,297.0 936.8,294.1 937.0,291.2 937.2,288.3 937.4,285.4 937.5,282.6 937.7,279.7 937.9,276.0 938.0,272.0 938.2,267.8 938.3,263.6 938.5,259.3 938.6,255.1 938.7,251.2 938.8,247.6 939.0,244.4 939.1,241.7 939.3,239.7 939.4,238.4 939.6,237.9 939.8,238.2 939.9,239.2 940.1,240.8 940.3,243.0 940.6,245.6 940.8,248.6 941.0,252.0 941.2,255.6 941.4,259.5 941.6,263.6 941.9,267.7 942.1,272.0 942.3,276.2 942.5,280.3 942.7,284.3 942.8,288.1 943.0,291.6 943.1,294.5 943.2,297.4 943.4,300.4 943.5,303.4 943.6,306.4 943.7,309.5 943.7,312.5 943.8,315.6 943.9,318.8 944.0,321.9 944.1,325.0 944.1,328.2 944.2,331.3 944.3,334.5 944.4,337.7 944.4,340.9 944.5,344.1 944.6,347.3 944.6,350.5 944.7,353.7 944.8,356.8 944.8,360.0 944.9,363.2 945.0,366.2 945.0,369.3 945.1,372.4 945.2,375.6 945.3,378.8 945.3,382.0 945.4,385.2 945.5,388.4 945.5,391.7 945.6,394.9 945.7,398.2 945.7,401.4 945.8,404.6 945.9,407.8 945.9,410.9 946.0,414.1 946.0,417.2 946.1,420.2 946.2,423.2 946.2,426.2 946.3,429.1 946.3,431.9 946.4,434.7 946.4,437.4 946.5,440.0 946.6,443.5 946.6,446.7 946.7,449.9 946.8,452.8 946.8,455.8 946.9,458.6 947.0,461.4 947.0,464.3 947.1,467.2 947.1,470.2 947.2,473.3 947.2,476.5 947.3,480.0 947.3,482.6 947.4,485.2 947.4,488.0 947.5,490.8 947.5,493.6 947.5,496.5 947.6,499.5 947.6,502.5 947.7,505.5 947.7,508.6 947.7,511.7 947.8,514.8 947.8,518.0 947.8,521.1 947.9,524.3 947.9,527.5 948.0,530.7 948.0,533.8 948.0,537.0 948.1,540.2 948.1,543.3 948.2,546.4 948.2,549.5 948.3,552.5 948.3,555.5 948.3,558.6 948.4,561.8 948.4,564.9 948.5,568.0 948.5,571.2 948.6,574.3 948.6,577.4 948.7,580.5 948.8,583.6 948.8,586.7 948.9,589.8 948.9,592.9 949.0,596.0 949.0,599.1 949.1,602.2 949.1,605.2 949.2,608.3 949.2,611.4 949.3,614.5 949.3,617.7 949.4,620.8 949.4,623.9 949.5,627.0 949.5,630.0 949.6,633.1 949.6,636.2 949.7,639.3 949.7,642.4 949.8,645.6 949.8,648.7 949.9,651.9 949.9,655.0 950.0,658.1 950.0,661.3 950.1,664.4 950.1,667.5 950.2,670.6 950.2,673.7 950.3,676.8 950.3,679.8 950.4,682.8 950.4,685.8 950.5,688.7 950.5,691.6 950.6,694.5 950.6,697.3 950.7,700.0 950.8,703.4 950.8,706.7 950.9,709.9 951.0,713.0 951.1,716.0 951.1,719.0 951.2,722.0 951.3,724.9 951.4,727.9 951.5,731.0 951.5,734.1 951.6,737.3 951.7,740.6 951.8,744.1 951.9,747.7 952.0,750.3 952.0,753.0 952.1,755.8 952.2,758.7 952.2,761.6 952.3,764.6 952.4,767.7 952.4,770.8 952.5,774.0 952.6,777.2 952.6,780.5 952.7,783.8 952.8,787.1 952.9,790.4 952.9,793.8 953.0,797.1 953.1,800.5 953.2,803.8 953.2,807.1 953.3,810.4 953.4,813.7 953.5,816.9 953.6,820.1 953.7,823.2 953.8,826.3 953.8,829.3 953.9,832.2 954.0,835.1 954.1,837.9 954.2,840.6 954.3,843.2 954.4,846.9 954.6,850.4 954.7,853.9 954.9,857.2 955.0,860.4 955.2,863.6 955.3,866.7 955.5,869.8 955.6,872.9 955.8,875.9 955.9,878.9 956.1,881.9 956.3,884.9 956.5,887.9 956.7,891.0 956.9,894.2 957.0,897.5 957.2,900.8 957.3,904.1 957.4,907.5 957.6,910.8 957.7,914.1 957.9,917.3 958.1,920.5 958.4,923.5 958.7,926.3 959.1,929.1 959.6,931.6 960.2,933.9 961.5,937.6 963.0,941.1 964.6,944.2 966.1,946.6 967.4,948.2 969.0,949.0 971.7,947.1 974.7,945.3 979.2,949.0 982.2,947.5 985.6,944.5 988.7,943.0 991.9,945.9 994.8,949.0 999.3,947.6 1003.8,949.0 1005.8,946.6 1007.6,942.9 1009.4,940.8 1012.7,943.0"/>
<polyline stroke="#00f" points="1033.0,947.0 1036.2,944.8 1038.1,946.6 1040.7,949.0 1043.1,949.6 1046.4,950.0 1050.1,950.2 1053.9,950.2 1057.6,950.0 1060.7,949.6 1063.0,949.0 1066.4,946.0 1070.0,949.0 1071.9,949.5 1074.5,949.8 1077.6,950.1 1081.1,950.2 1084.7,950.2 1088.4,950.1 1091.9,949.9 1095.2,949.7 1097.9,949.4 1100.0,949.0 1105.0,946.5 1109.7,943.0 1113.0,948.0 1115.2,948.9 1118.2,949.7 1121.6,950.2 1125.2,950.3 1128.4,950.1 1131.1,949.4 1133.6,947.5 1135.7,944.7 1137.4,941.9 1139.2,939.8 1143.2,937.8 1144.3,935.6 1144.9,932.5 1145.5,929.0 1146.2,925.7 1147.1,922.3 1148.1,918.8 1149.2,915.5 1150.3,912.5 1152.3,909.1 1154.3,905.5 1155.1,902.3 1155.7,898.1 1156.3,893.6 1156.8,889.5 1157.3,886.5 1157.8,885.3 1158.5,886.6 1159.2,890.0 1159.8,894.3 1160.4,898.4 1160.7,901.3 1161.0,904.4 1161.2,907.7 1161.4,911.1 1161.7,914.4 1162.0,917.6 1162.4,920.6 1163.1,923.9 1163.8,926.9 1164.7,929.9 1165.6,932.9 1166.4,935.8 1167.3,939.9 1168.2,944.3 1169.2,947.8 1170.4,949.4 1172.0,947.6 1173.9,943.3 1175.8,938.9 1177.5,936.8 1180.5,939.8 1184.6,938.3 1185.8,940.1 1186.6,943.4 1187.7,946.9 1189.6,949.4 1191.9,950.3 1194.9,950.9 1198.4,951.0 1202.2,950.9 1206.0,950.6 1209.6,950.1 1212.6,949.6 1215.0,949.0 1220.0,946.0 1225.0,949.0 1227.1,949.4 1229.7,949.7 1232.9,949.8 1236.4,949.9 1240.1,949.9 1243.9,949.8 1247.7,949.6 1251.4,949.5 1254.7,949.3 1257.6,949.1 1260.0,949.0 1264.4,948.7 1268.0,948.0 1270.9,946.9 1273.8,945.4 1276.4,943.8 1279.4,941.4 1282.0,938.5 1284.3,934.7 1286.3,930.6 1287.6,927.8 1288.8,924.9 1290.0,922.0 1291.8,918.3 1293.5,914.0 1294.1,911.7 1294.5,909.0 1294.9,906.1 1295.3,903.0 1295.6,899.7 1295.9,896.4 1296.2,893.2 1296.5,890.0 1296.8,887.0 1297.0,884.0 1297.3,881.0 1297.5,877.9 1297.7,874.9 1297.9,871.7 1298.1,868.5 1298.3,865.3 1298.5,862.0 1298.7,859.1 1298.8,856.1 1299.0,853.0 1299.1,850.0 1299.3,846.8 1299.4,843.7 1299.6,840.5 1299.7,837.3 1299.8,834.0 1299.9,830.8 1300.1,827.5 1300.2,824.2 1300.3,821.3 1300.4,818.4 1300.5,815.4 1300.6,812.4 1300.7,809.5 1300.8,806.5 1300.9,803.5 1301.0,800.4 1301.1,797.3 1301.2,794.2 1301.3,791.1 1301.3,788.0 1301.4,784.8 1301.5,781.6 1301.6,778.3 1301.7,775.4 1301.7,772.5 1301.8,769.6 1301.9,766.6 1301.9,763.5 1302.0,760.4 1302.0,757.3 1302.1,754.2 1302.2,751.1 1302.2,747.9 1302.3,744.8 1302.3,741.7 1302.4,738.5 1302.4,735.4 1302.5,732.3 1302.6,729.3 1302.6,726.2 1302.7,723.2 1302.7,720.3 1302.8,717.4 1302.9,714.2 1302.9,711.1 1303.0,708.1 1303.1,705.0 1303.2,702.0 1303.2,699.0 1303.3,696.1 1303.4,693.1 1303.4,690.2 1303.5,687.2 1303.6,684.3 1303.7,681.3 1303.8,678.4 1303.8,675.4 1303.9,672.4 1304.0,669.4 1304.1,666.1 1304.2,662.5 1304.3,658.6 1304.4,654.5 1304.5,650.4 1304.6,646.2 1304.7,642.0 1304.8,638.0 1304.9,634.1 1305.0,630.6 1305.1,627.3 1305.2,624.5 1305.3,622.2 1305.4,620.5 1305.5,619.4 1305.6,619.0 1305.7,619.3 1305.8,620.1 1305.9,621.4 1305.9,623.1 1306.0,625.2 1306.1,627.7 1306.2,630.5 1306.3,633.7 1306.4,637.0 1306.5,640.6 1306.6,644.4 1306.7,648.2 1306.7,652.2 1306.8,656.2 1306.9,660.3 1307.0,664.3 1307.1,668.2 1307.1,672.1 1307.2,675.8 1307.2,679.3 1307.3,682.6 1307.3,685.6 1307.4,688.6 1307.4,691.6 1307.4,694.7 1307.5,697.8 1307.5,700.9 1307.5,704.1 1307.5,707.3 1307.5,710.5 1307.5,713.6 1307.5,716.8 1307.5,720.0 1307.6,723.2 1307.6,726.4 1307.6,729.6 1307.6,732.8 1307.6,735.9 1307.6,739.1 1307.6,742.2 1307.6,745.2 1307.6,748.3 1307.6,751.3 1307.6,754.2 1307.7,757.1 1307.7,760.0 1307.7,763.3 1307.8,766.6 1307.8,769.8 1307.9,773.1 1307.9,776.3 1308.0,779.4 1308.0,782.6 1308.1,785.7 1308.1,788.8 1308.2,791.8 1308.2,794.8 1308.3,797.8 1308.3,800.8 1308.4,803.7 1308.4,806.6 1308.5,809.4 1308.5,812.2 1308.6,815.0 1308.7,818.3 1308.7,821.5 1308.8,824.6 1308.9,827.6 1309.0,830.6 1309.0,833.6 1309.1,836.5 1309.2,839.4 1309.3,842.4 1309.3,845.4 1309.4,848.5 1309.5,851.7 1309.6,854.8 1309.7,858.3 1309.7,862.0 1309.8,866.0 1309.9,870.0 1310.0,874.1 1310.0,878.1 1310.1,882.0 1310.2,885.6 1310.3,888.9 1310.4,891.8 1310.5,894.2 1310.6,896.0 1310.7,897.2 1310.8,897.6 1310.9,897.3 1311.0,896.3 1311.1,894.8 1311.2,892.8 1311.3,890.3 1311.4,887.5 1311.5,884.3 1311.6,880.8 1311.7,877.1 1311.9,873.3 1312.0,869.3 1312.1,865.2 1312.2,861.2 1312.3,857.2 1312.5,853.3 1312.6,849.6 1312.7,846.1 1312.9,842.9 1313.0,840.0 1313.2,836.4 1313.4,832.5 1313.6,828.4 1313.7,824.3 1313.9,820.3 1314.1,816.4 1314.4,812.8 1314.6,809.6 1314.8,806.9 1315.0,804.8 1315.2,803.5 1315.4,803.0 1315.8,804.1 1316.2,806.9 1316.6,810.8 1316.9,815.0 1317.0,817.1 1317.2,819.4 1317.3,822.0 1317.4,824.7 1317.5,827.7 1317.5,830.8 1317.6,834.0 1317.7,837.3 1317.7,840.7 1317.8,844.1 1317.9,847.6 1317.9,851.0 1318.0,854.4 1318.0,857.7 1318.1,861.0 1318.1,864.2 1318.2,867.2 1318.3,870.0 1318.4,873.3 1318.5,876.5 1318.6,879.7 1318.7,882.7 1318.8,885.7 1318.9,888.7 1319.0,891.7 1319.1,894.6 1319.2,897.6 1319.4,900.6 1319.5,903.7 1319.6,906.8 1319.7,909.9 1319.7,913.4 1319.7,917.1 1319.7,920.9 1319.7,924.9 1319.7,928.8 1319.7,932.6 1319.8,936.3 1319.9,939.6 1320.0,942.6 1320.2,945.1 1320.5,947.1 1321.0,948.4 1321.5,949.0 1323.4,946.7 1326.0,943.5 1329.6,943.2 1333.4,943.5 1336.6,942.9 1340.0,942.6 1343.3,943.1 1346.8,944.0 1350.0,945.0 1353.1,946.0 1356.0,947.0"/>
</g>
<g fill="#000" filter="url(#bin)"><g class="m" data-n="x500" transform="translate(130.62,1016) scale(1,1.03)"><text x="0.00" y="0.00" font-size="52" font-weight="400" xml:space="preserve">500</text></g><g class="m" data-n="x750" transform="translate(305.62,1016) scale(1,1.03)"><text x="0.00" y="0.00" font-size="52" font-weight="400" xml:space="preserve">750</text></g><g class="m" data-n="x1000" transform="translate(465.16,1016) scale(1,1.03)"><path d="M763,0L583,0L583,1102Q500,1030 223,884L223,1051Q480,1173 650,1409L763,1409Z" transform="translate(0.00,0.00) scale(0.02539,-0.02539)"/><text x="28.92" y="0.00" font-size="52" font-weight="400" xml:space="preserve">000</text></g><g class="m" data-n="x1250" transform="translate(640.66,1016) scale(1,1.03)"><path d="M763,0L583,0L583,1102Q500,1030 223,884L223,1051Q480,1173 650,1409L763,1409Z" transform="translate(0.00,0.00) scale(0.02539,-0.02539)"/><text x="28.92" y="0.00" font-size="52" font-weight="400" xml:space="preserve">250</text></g><g class="m" data-n="x1500" transform="translate(815.16,1016) scale(1,1.03)"><path d="M763,0L583,0L583,1102Q500,1030 223,884L223,1051Q480,1173 650,1409L763,1409Z" transform="translate(0.00,0.00) scale(0.02539,-0.02539)"/><text x="28.92" y="0.00" font-size="52" font-weight="400" xml:space="preserve">500</text></g><g class="m" data-n="x3000" transform="translate(1083.16,1016) scale(1,1.03)"><text x="0.00" y="0.00" font-size="52" font-weight="400" xml:space="preserve">3000</text></g><g class="m" data-n="x3500" transform="translate(1298.16,1016) scale(1,1.03)"><text x="0.00" y="0.00" font-size="52" font-weight="400" xml:space="preserve">3500</text></g><g class="m" data-n="_xt" transform="translate(505.00,1069.00) scale(0.978,1.03)"><text x="0.00" y="0.00" font-size="52" font-weight="700" xml:space="preserve">Wavenumbers (cm</text><g transform="translate(464.36,-23.5)"><text x="0.00" y="0.00" font-size="34" font-weight="700" xml:space="preserve">-</text><path d="M781,0L500,0L500,985Q360,880 58,790L58,1030Q220,1085 360,1190Q490,1300 535,1409L781,1409Z" transform="translate(11.32,0.00) scale(0.01660,-0.01660)"/></g><g transform="translate(494.59,0)"><text x="0.00" y="0.00" font-size="52" font-weight="700" xml:space="preserve">)</text></g></g><g class="m" data-n="_yt" transform="translate(58.00,760.00) rotate(-90) scale(1,1.03)"><text x="0.00" y="0.00" font-size="52" font-weight="700" xml:space="preserve">Normalized Absorbance</text></g><g class="m" data-n="505" transform="translate(178.00,709.50) rotate(-90) scale(1,1.03)"><text x="0.00" y="0.00" font-size="52" font-weight="400" xml:space="preserve">505</text></g><g class="m" data-n="691" transform="translate(300.00,303.50) rotate(-90) scale(1,1.03)"><text x="0.00" y="0.00" font-size="52" font-weight="400" xml:space="preserve">69</text><path d="M763,0L583,0L583,1102Q500,1030 223,884L223,1051Q480,1173 650,1409L763,1409Z" transform="translate(57.84,0.00) scale(0.02539,-0.02539)"/></g><g class="m" data-n="744" transform="translate(350.00,166.50) rotate(-90) scale(1,1.03)"><text x="0.00" y="0.00" font-size="52" font-weight="400" xml:space="preserve">744</text></g><g class="m" data-n="876" transform="translate(436.00,652.00) rotate(-90) scale(1,1.03)"><text x="0.00" y="0.00" font-size="52" font-weight="400" xml:space="preserve">876</text></g><g class="m" data-n="993" transform="translate(512.00,859.75) rotate(-90) scale(1,1.03)"><text x="0.00" y="0.00" font-size="52" font-weight="400" xml:space="preserve">993</text></g><g class="m" data-n="1024" transform="translate(548.00,830.50) rotate(-90) scale(1,1.03)"><path d="M763,0L583,0L583,1102Q500,1030 223,884L223,1051Q480,1173 650,1409L763,1409Z" transform="translate(0.00,0.00) scale(0.02539,-0.02539)"/><text x="28.92" y="0.00" font-size="52" font-weight="400" xml:space="preserve">024</text></g><g class="m" data-n="1072" transform="translate(580.00,654.50) rotate(-90) scale(1,1.03)"><path d="M763,0L583,0L583,1102Q500,1030 223,884L223,1051Q480,1173 650,1409L763,1409Z" transform="translate(0.00,0.00) scale(0.02539,-0.02539)"/><text x="28.92" y="0.00" font-size="52" font-weight="400" xml:space="preserve">072</text></g><g class="m" data-n="1084" transform="translate(607.00,796.25) rotate(-90) scale(1,1.03)"><path d="M763,0L583,0L583,1102Q500,1030 223,884L223,1051Q480,1173 650,1409L763,1409Z" transform="translate(0.00,0.00) scale(0.02539,-0.02539)"/><text x="28.92" y="0.00" font-size="52" font-weight="400" xml:space="preserve">084</text></g><g class="m" data-n="1150" transform="translate(632.00,671.75) rotate(-90) scale(1,1.03)"><path d="M763,0L583,0L583,1102Q500,1030 223,884L223,1051Q480,1173 650,1409L763,1409Z" transform="translate(0.00,0.00) scale(0.02539,-0.02539)"/><path d="M763,0L583,0L583,1102Q500,1030 223,884L223,1051Q480,1173 650,1409L763,1409Z" transform="translate(28.92,0.00) scale(0.02539,-0.02539)"/><text x="57.84" y="0.00" font-size="52" font-weight="400" xml:space="preserve">50</text></g><g class="m" data-n="1173" transform="translate(663.25,753.25) rotate(-90) scale(1,1.03)"><path d="M763,0L583,0L583,1102Q500,1030 223,884L223,1051Q480,1173 650,1409L763,1409Z" transform="translate(0.00,0.00) scale(0.02539,-0.02539)"/><path d="M763,0L583,0L583,1102Q500,1030 223,884L223,1051Q480,1173 650,1409L763,1409Z" transform="translate(28.92,0.00) scale(0.02539,-0.02539)"/><text x="57.84" y="0.00" font-size="52" font-weight="400" xml:space="preserve">73</text></g><g class="m" data-n="1221" transform="translate(679.00,828.75) rotate(-90) scale(1,1.03)"><path d="M763,0L583,0L583,1102Q500,1030 223,884L223,1051Q480,1173 650,1409L763,1409Z" transform="translate(0.00,0.00) scale(0.02539,-0.02539)"/><text x="28.92" y="0.00" font-size="52" font-weight="400" xml:space="preserve">22</text><path d="M763,0L583,0L583,1102Q500,1030 223,884L223,1051Q480,1173 650,1409L763,1409Z" transform="translate(86.76,0.00) scale(0.02539,-0.02539)"/></g><g class="m" data-n="1242" transform="translate(716.25,797.50) rotate(-90) scale(1,1.03)"><path d="M763,0L583,0L583,1102Q500,1030 223,884L223,1051Q480,1173 650,1409L763,1409Z" transform="translate(0.00,0.00) scale(0.02539,-0.02539)"/><text x="28.92" y="0.00" font-size="52" font-weight="400" xml:space="preserve">242</text></g><g class="m" data-n="1317" transform="translate(750.00,476.00) rotate(-90) scale(1,1.03)"><path d="M763,0L583,0L583,1102Q500,1030 223,884L223,1051Q480,1173 650,1409L763,1409Z" transform="translate(0.00,0.00) scale(0.02539,-0.02539)"/><text x="28.92" y="0.00" font-size="52" font-weight="400" xml:space="preserve">3</text><path d="M763,0L583,0L583,1102Q500,1030 223,884L223,1051Q480,1173 650,1409L763,1409Z" transform="translate(57.84,0.00) scale(0.02539,-0.02539)"/><text x="86.76" y="0.00" font-size="52" font-weight="400" xml:space="preserve">7</text></g><g class="m" data-n="1415" transform="translate(819.00,631.80) rotate(-90) scale(1,1.03)"><path d="M763,0L583,0L583,1102Q500,1030 223,884L223,1051Q480,1173 650,1409L763,1409Z" transform="translate(0.00,0.00) scale(0.02539,-0.02539)"/><text x="28.92" y="0.00" font-size="52" font-weight="400" xml:space="preserve">4</text><path d="M763,0L583,0L583,1102Q500,1030 223,884L223,1051Q480,1173 650,1409L763,1409Z" transform="translate(57.84,0.00) scale(0.02539,-0.02539)"/><text x="86.76" y="0.00" font-size="52" font-weight="400" xml:space="preserve">5</text></g><g class="m" data-n="1456" transform="translate(848.00,526.00) rotate(-90) scale(1,1.03)"><path d="M763,0L583,0L583,1102Q500,1030 223,884L223,1051Q480,1173 650,1409L763,1409Z" transform="translate(0.00,0.00) scale(0.02539,-0.02539)"/><text x="28.92" y="0.00" font-size="52" font-weight="400" xml:space="preserve">456</text></g><g class="m" data-n="1493" transform="translate(846.00,276.00) rotate(-90) scale(1,1.03)"><path d="M763,0L583,0L583,1102Q500,1030 223,884L223,1051Q480,1173 650,1409L763,1409Z" transform="translate(0.00,0.00) scale(0.02539,-0.02539)"/><text x="28.92" y="0.00" font-size="52" font-weight="400" xml:space="preserve">493</text></g><g class="m" data-n="1518" transform="translate(915.00,295.60) rotate(-90) scale(1,1.03)"><path d="M763,0L583,0L583,1102Q500,1030 223,884L223,1051Q480,1173 650,1409L763,1409Z" transform="translate(0.00,0.00) scale(0.02539,-0.02539)"/><text x="28.92" y="0.00" font-size="52" font-weight="400" xml:space="preserve">5</text><path d="M763,0L583,0L583,1102Q500,1030 223,884L223,1051Q480,1173 650,1409L763,1409Z" transform="translate(57.84,0.00) scale(0.02539,-0.02539)"/><text x="86.76" y="0.00" font-size="52" font-weight="400" xml:space="preserve">8</text></g><g class="m" data-n="1595" transform="translate(989.00,344.00) rotate(-90) scale(1,1.03)"><path d="M763,0L583,0L583,1102Q500,1030 223,884L223,1051Q480,1173 650,1409L763,1409Z" transform="translate(0.00,0.00) scale(0.02539,-0.02539)"/><text x="28.92" y="0.00" font-size="52" font-weight="400" xml:space="preserve">595</text></g><g class="m" data-n="3040" transform="translate(1162.00,875.00) rotate(-90) scale(1,1.03)"><text x="0.00" y="0.00" font-size="52" font-weight="400" xml:space="preserve">3040</text></g><g class="m" data-n="3383" transform="translate(1299.25,628.50) rotate(-90) scale(1,1.03)"><text x="0.00" y="0.00" font-size="52" font-weight="400" xml:space="preserve">3383</text></g><g class="m" data-n="3406" transform="translate(1349.75,783.55) rotate(-90) scale(1,1.03)"><text x="0.00" y="0.00" font-size="52" font-weight="400" xml:space="preserve">3406</text></g></g>
<g fill="#000">
<rect x="564.5" y="660" width="2.5" height="136"/>
<polygon points="560,794 571.5,794 565.7,812.5"/>
<rect x="626.5" y="664" width="2.5" height="120"/>
<polygon points="622,782.7 633.5,782.7 627.7,801.7"/>
</g>
<rect x="902.5" y="32.5" width="429" height="170" fill="#fff" stroke="#000" stroke-width="1" shape-rendering="crispEdges"/>
<g shape-rendering="crispEdges">
<rect x="953" y="68" width="90" height="1" fill="#000"/>
<rect x="953" y="117" width="90" height="1" fill="#f00"/>
<rect x="953" y="166" width="90" height="1" fill="#00f"/>
</g>
<g fill="#000" filter="url(#bin)"><g class="m" data-n="_lg0" transform="translate(1052.00,82.00) scale(1,1.03)"><text x="0.00" y="0.00" font-size="40" font-weight="400" xml:space="preserve">DPA</text></g><g class="m" data-n="_lg1" transform="translate(1052.00,131.00) scale(1,1.03)"><text x="0.00" y="0.00" font-size="40" font-weight="400" xml:space="preserve">DPA + 0.5% P</text></g><g class="m" data-n="_lg2" transform="translate(1052.00,180.00) scale(1,1.03)"><text x="0.00" y="0.00" font-size="40" font-weight="400" xml:space="preserve">DPA + </text><path d="M763,0L583,0L583,1102Q500,1030 223,884L223,1051Q480,1173 650,1409L763,1409Z" transform="translate(127.83,0.00) scale(0.01953,-0.01953)"/><text x="150.08" y="0.00" font-size="40" font-weight="400" xml:space="preserve">% P</text></g></g>
</svg>
</body></html>
